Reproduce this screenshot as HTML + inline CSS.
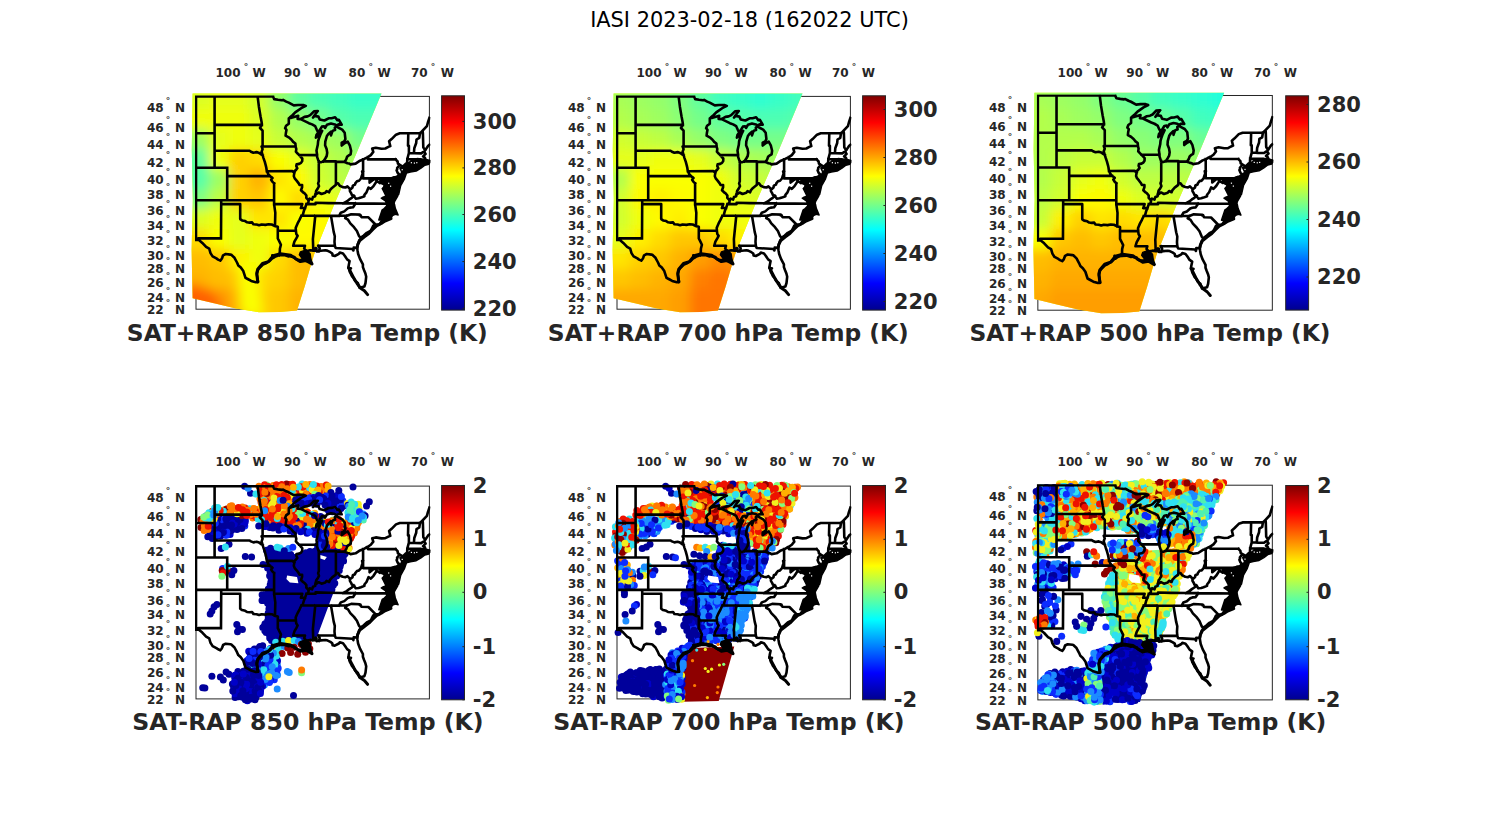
<!DOCTYPE html>
<html><head><meta charset="utf-8"><title>IASI 2023-02-18 (162022 UTC)</title>
<style>html,body{margin:0;padding:0;background:#fff}svg{display:block}.t{font-family:"DejaVu Sans","Liberation Sans",sans-serif;font-weight:bold;fill:#262626}.tk{font-size:12px}.dg{font-size:9px}.cb{font-size:21px}.pt{font-size:23.35px}</style></head><body>
<svg width="1500" height="825" viewBox="0 0 1500 825">
<defs>
<linearGradient id="jet" x1="0" y1="0" x2="0" y2="1"><stop offset="0" stop-color="#800000"/><stop offset="0.125" stop-color="#ff0000"/><stop offset="0.375" stop-color="#ffff00"/><stop offset="0.625" stop-color="#00ffff"/><stop offset="0.875" stop-color="#0000ff"/><stop offset="1" stop-color="#00008f"/></linearGradient>
<g id="states"><path d="M196.0 96.4L196.0 240.0M196.0 96.4L273.0 96.4M196.0 133.3L214.6 133.3M214.6 96.4L214.6 167.8M214.6 124.9L261.9 124.9M214.6 150.8L249.6 150.8L250.9 151.7L253.4 152.7L256.6 152.1L259.1 152.9L261.0 154.3L262.6 155.2M196.0 167.8L227.2 167.8M227.2 167.8L227.2 200.2M227.2 176.1L269.8 176.1M196.0 200.2L274.1 200.2M221.2 200.2L221.2 204.1L221.0 238.4M220.9 238.4L198.4 238.4L199.0 240.0L196.0 240.0M221.2 204.1L240.2 204.1L240.2 219.1L242.1 220.4L245.2 221.1L247.1 222.3L249.6 222.6L252.1 222.4L253.4 224.3L256.6 224.5L259.1 225.3L261.6 224.5L265.4 224.9L268.6 224.3L271.7 224.5L275.0 226.1M275.0 226.1L277.8 226.8L277.8 238.5L279.3 241.4L280.9 244.7L279.9 248.7L279.8 252.4L279.0 255.3M275.0 226.1L275.3 212.7L274.1 204.1L274.1 183.4M274.1 183.4L272.3 181.6L271.1 179.8L272.5 178.0L271.4 177.1L269.8 176.1L268.2 174.0L266.8 171.2L266.3 167.8L265.8 165.6L264.8 161.9L263.5 158.1L262.6 155.2M277.8 230.8L295.9 230.8M274.1 204.1L302.3 204.1L300.9 208.0L305.1 208.0M266.8 171.2L292.3 171.0L294.3 172.9M262.6 146.5L295.6 146.5M262.6 155.2L261.6 151.7L262.6 149.1L261.6 146.5L262.6 146.5L262.6 130.7L260.0 128.0L261.9 124.9L261.6 121.9L260.5 116.3L258.9 106.7L257.6 96.4M290.6 117.9L288.8 118.3L288.8 123.7L286.1 125.7L285.1 128.2L286.5 129.8L285.9 132.9L285.6 135.6L288.7 137.3L291.3 139.5L293.2 141.9L295.4 143.5L295.6 146.5L296.3 149.1L295.9 151.7L297.6 153.6L299.2 155.0L300.7 156.8L302.3 158.5L302.2 161.1L301.0 162.9L299.2 163.9L296.6 164.4L296.3 166.1L297.3 168.2L296.3 169.5L294.4 171.5L294.3 172.9L293.8 176.1L294.7 178.4L296.6 180.6L298.7 183.4L299.5 185.0L302.1 185.1L302.1 187.2L301.0 190.3L303.3 192.5L304.4 193.1L306.4 195.5L306.3 197.8L308.7 200.4L308.3 203.0L306.4 204.1L305.1 208.0L303.9 210.8L302.8 214.8L301.4 215.8L299.6 219.6L297.6 223.4L296.3 226.4L295.7 227.9L295.9 231.0L296.3 233.9L297.6 235.8L296.3 238.4L294.4 241.7L293.2 245.8L305.0 245.8L304.2 248.4L305.5 250.2L306.2 251.8M299.2 155.0L317.1 155.1M318.8 161.4L318.8 181.4L318.1 183.4L319.0 186.2L317.4 189.1L316.2 190.7L315.7 193.1L315.4 193.9M335.9 161.9L335.9 183.4M323.4 161.4L335.9 161.4L335.9 161.9L344.6 161.9M363.1 170.8L362.1 171.3L362.6 173.6L361.7 176.1L361.0 178.5L358.8 181.0L357.2 181.0L355.3 183.4L355.0 184.6L352.8 185.6L352.5 187.5L350.9 188.9L349.9 188.9L347.4 186.4L345.5 187.5L342.7 187.1L339.8 185.8L338.0 183.4L335.9 183.4L335.7 185.0L333.5 186.7L332.0 187.9L330.0 190.1L329.1 192.3L326.6 191.1L325.3 192.8L321.5 194.0L318.6 192.5L316.2 194.1L315.4 193.9L315.2 196.2L313.0 197.0L312.1 199.6L309.6 198.6L308.7 200.4M306.4 204.1L315.6 204.1L315.6 202.7L328.5 203.1L343.1 203.3L355.7 203.4L392.4 203.7M343.1 203.3L346.8 201.4L349.3 199.4L351.8 197.8L353.9 195.9M353.9 195.9L351.8 194.8L351.1 193.1L349.9 191.1L349.9 188.9M353.9 195.9L355.7 198.6L358.6 198.3L360.9 197.6L364.4 196.2L364.4 194.8L366.5 192.3L368.5 187.5L370.8 188.9L373.5 186.1L376.8 181.0L380.0 183.1L380.7 181.6M390.1 193.1L385.9 190.3L385.0 189.1L383.4 188.7L385.0 185.4L383.7 184.2L382.1 183.4L380.7 181.6L380.1 179.3L377.8 178.5L376.1 179.9L374.2 178.9L369.6 182.6L369.6 178.4M363.1 159.4L363.1 178.4L392.9 178.4M392.9 178.4L393.8 177.5L395.3 177.7M392.9 178.4L393.5 188.6L397.6 188.7M395.3 177.7L397.1 176.9L399.3 174.4L397.6 172.8L396.6 170.3L397.3 169.0L397.1 168.0L399.8 164.8L397.9 163.6L397.6 161.5L395.6 159.4M395.6 159.4L367.9 159.4L367.9 157.1M399.8 164.8L404.8 167.8M406.3 167.8L407.5 166.1L407.0 165.3L407.3 159.0L408.9 153.0L408.9 145.7L408.0 145.7L408.3 133.3M420.0 133.3L399.8 133.3L396.0 134.7L391.6 139.1L389.1 141.3L390.3 146.1L388.4 146.9L385.3 148.5L381.5 148.7L375.8 147.7L372.2 148.6L373.3 151.9L370.8 155.1L367.9 157.1L365.7 158.1L363.1 159.6L360.0 160.7L355.6 163.6L350.6 164.4L349.3 163.6L347.4 163.2L344.6 161.9M408.9 153.0L421.2 153.4L423.1 152.0L424.3 152.0M407.3 159.0L418.1 159.2L420.7 159.2L420.7 160.2L422.4 163.6M418.1 159.2L417.8 165.1M413.9 153.2L414.3 148.3L416.2 143.0L416.5 139.5L419.3 137.8L420.0 133.3M425.0 150.2L423.3 147.4L422.9 133.3L422.6 130.7L420.0 133.3M422.6 130.7L426.9 126.2L427.9 122.5L429.4 118.0M404.8 167.8L404.2 170.3L406.3 167.8L411.1 165.5L416.8 165.3L417.8 165.1L420.0 164.7L420.6 161.9L422.4 163.6L425.3 161.5L425.2 163.4L429.4 162.2M429.4 161.1L426.3 161.3L425.3 159.6L425.0 157.7L423.1 156.4L425.6 153.9L424.3 152.0L425.0 150.2L425.6 149.6L428.2 145.7L429.4 144.8M404.2 171.1L410.5 170.1L417.6 167.2L414.9 166.5L413.0 168.2L406.1 169.0L404.8 169.5L404.2 171.1M404.2 170.3L402.6 171.9L404.2 172.4L403.6 178.1L401.7 181.4L398.2 184.8L397.6 182.6L395.4 180.6L394.4 179.3L395.3 177.7M394.4 179.3L395.4 181.8L396.0 184.6L397.3 185.8L397.6 188.7L396.3 192.0L393.8 196.2L391.9 199.3L391.9 196.2L393.8 192.7L392.2 192.3L391.3 190.3L389.7 187.5L390.3 184.6L391.3 181.4L391.6 179.8L390.9 179.8L388.4 182.2L388.5 184.5L388.4 188.3L389.6 191.9M390.1 193.1L389.7 195.5L389.7 197.8L389.7 200.2L391.6 200.8L392.4 203.7L393.2 206.5L395.0 211.1L394.5 214.0L391.6 215.2L388.2 218.8L385.3 218.3L382.1 220.4L379.3 224.5L375.5 224.5L373.3 225.7L371.4 229.5L370.4 231.0L366.8 232.8L363.5 235.8L361.9 236.9L360.9 238.2L359.1 240.6L358.1 243.6L357.2 247.9L357.5 250.2L358.1 253.8L360.0 258.9L362.9 264.3L362.9 267.1L364.1 270.3L365.4 273.5L366.2 276.7L365.5 283.0L364.4 286.5L359.4 287.7L357.8 283.0L355.0 280.7L353.7 278.1L352.1 276.4L350.9 273.9L349.9 272.1L349.3 270.3L350.9 268.2L348.4 268.2L348.7 265.4L349.6 261.1L347.1 259.4L344.9 256.0L343.0 253.5L339.8 252.6L338.9 253.8L334.8 256.0L332.6 255.5L332.3 253.5L330.4 252.2L327.2 250.6L325.3 250.3L320.9 250.7L318.9 251.1L316.5 251.4L316.5 248.4L315.6 248.0L315.2 250.6L313.3 250.6L310.2 250.2L307.0 250.9L306.2 251.8L305.1 252.0L307.7 253.8L307.0 256.0L308.6 258.9L309.2 260.3L307.0 260.7L305.8 258.5L303.3 258.9L301.4 260.0L297.6 260.0L295.1 258.5L294.4 257.1L291.6 256.7L290.0 256.0L288.7 256.5L284.3 255.1L279.0 255.3L275.5 256.5L273.3 258.0L272.3 255.3L272.7 257.8L269.8 260.8L265.4 263.6L262.9 264.6L258.8 268.7L257.8 270.3L256.9 274.6L258.0 281.3L258.1 281.9L255.9 282.3L251.2 280.9L247.7 279.0L245.5 277.8L243.3 271.1L240.8 267.6L238.3 265.4L237.0 262.5L234.5 257.8L231.3 254.8L230.4 254.6L225.7 254.0L223.1 255.3L222.2 257.8L221.6 259.0L220.3 260.6L218.1 259.6L216.4 258.4L212.6 256.4L210.5 253.1L209.2 248.7L206.1 246.9L202.3 242.9L199.2 240.3M301.4 215.8L314.6 215.8L331.0 215.9L339.1 215.8L346.8 215.8M314.6 215.8L315.2 216.5L312.9 239.2L313.3 250.6M331.0 215.9L333.7 231.9L334.8 236.2L334.5 241.7L334.8 245.8M318.4 245.8L334.8 245.8M318.4 245.8L319.7 248.4L318.9 251.1M334.8 245.8L335.7 248.0L352.5 249.0L353.4 250.5L353.7 247.6L357.2 247.9M360.9 238.2L359.1 236.2L356.9 231.0L354.0 227.2L350.3 223.4L348.0 219.7L345.2 218.1L346.8 215.8M346.8 215.8L351.2 214.2L359.7 214.6L359.7 215.4L360.5 215.0L361.4 217.1L368.4 217.3L375.5 224.5M339.1 215.8L340.8 212.7L344.3 211.4L347.7 208.4L349.9 207.6L353.1 207.3L355.7 203.4M318.8 161.9L318.4 160.7L317.1 156.8L317.1 155.1L316.5 150.5L317.8 144.8L318.1 141.3L319.0 138.2L320.3 134.7L322.2 130.8L319.7 134.2L315.9 137.6L316.5 134.7L318.3 132.5L316.8 129.8L315.2 126.2L312.1 124.4L308.9 123.2L300.6 119.2M318.8 161.9L320.9 162.3L323.4 161.4M318.3 132.5L321.9 126.6L324.1 126.2L325.0 128.0L326.9 124.8L331.0 123.6L334.8 124.4L336.6 125.5L338.6 124.4L341.7 124.6L338.9 119.8L337.3 120.1L335.1 117.3L331.6 118.2L328.6 118.3L324.4 120.5L319.7 119.4L318.4 116.6L314.6 115.9L313.0 117.5L315.9 113.4L317.8 111.0L314.0 111.3L310.2 115.2L307.7 116.4L304.5 116.9L300.6 119.2L297.6 118.9L298.2 115.7L295.7 116.4L290.6 117.9L290.0 117.2L292.7 115.0L295.2 112.4L301.2 108.2L305.8 105.9L303.3 105.0L298.2 105.0L293.8 105.4L288.7 102.6L286.2 101.6L283.1 99.9L281.8 100.2L278.0 99.7L274.2 99.1L273.6 97.8L273.0 96.4M344.6 161.9L346.2 159.4L347.1 156.8L348.4 155.6L350.6 154.3L351.1 150.8L349.9 145.7L347.7 141.7L344.9 143.0L341.7 145.5L341.7 142.6L344.3 141.3L345.4 139.1L344.7 132.8L342.2 129.6L338.1 127.5L336.5 126.4L334.8 127.5L335.1 130.0L333.2 130.5L332.3 131.6L331.0 135.4L331.0 131.6L328.2 134.2L326.9 136.0L325.3 141.7L325.1 145.2L326.6 148.9L327.2 152.7L326.7 156.0L325.3 158.5L323.4 161.4" fill="none" stroke="#000" stroke-width="2.6" stroke-linejoin="round" stroke-linecap="square"/><path d="M378.8 178.3L390.0 178.3L394.4 176.8L400.7 175.9L403.6 172.0L406.5 173.0L404.5 178.8L400.7 185.6L398.7 194.3L394.8 199.2L393.9 205.9L397.8 214.7L391.0 213.7L387.1 220.0L378.8 220.0L382.2 209.8L387.1 206.9L387.1 202.1L381.3 198.2L386.1 196.2L382.2 188.5L386.1 185.6ZM400.7 168.1L405.5 163.3L409.4 162.3L412.3 159.4L424.9 158.9L430.2 160.8L428.8 164.2L424.9 165.2L421.0 168.1L416.2 171.0L410.4 172.0L406.5 173.0L403.6 172.0ZM382.5 197.4L388.6 195.0L397.7 196.2L394.1 202.3L395.3 208.3L398.1 215.0L393.5 213.2L391.0 218.3L386.2 218.6L383.2 221.1L381.3 219.8L384.0 215.0L383.2 209.5L386.8 205.9L385.6 201.1ZM300.4 251.9L306.2 249.9L310.1 253.8L311.0 260.6L306.2 261.6L302.3 258.6L299.4 254.8Z" fill="#000" stroke="#000" stroke-width="1.5" stroke-linejoin="round"/><path d="M391.0 218.6L385.0 221.1L381.3 223.5L376.5 225.9L372.8 229.5L369.2 233.2L364.4 236.8L359.8 240.5L357.7 244.7L357.1 247.7M348.6 267.7L351.0 272.6L354.1 278.6L357.1 283.5L360.7 288.3L364.4 290.8M280.5 253.8L290.7 255.3L295.5 258.6L300.4 261.6L306.2 260.6L312.0 264.0L308.6 256.7M280.5 253.8L273.2 255.7L268.4 261.6L262.5 263.5L257.7 269.3L256.7 273.2L257.7 281.9M400.7 168.1L402.6 172.0L400.7 175.9M364.4 290.8L367.6 294.6" fill="none" stroke="#000" stroke-width="3.0" stroke-linejoin="round" stroke-linecap="round"/><rect x="410.8" y="162.1" width="1.2" height="1.2" fill="#fff"/><rect x="413.8" y="162.5" width="1.2" height="1.2" fill="#fff"/><rect x="416.2" y="162.1" width="1.2" height="1.2" fill="#fff"/><rect x="388.1" y="182.7" width="1.2" height="1.2" fill="#fff"/><rect x="390.0" y="185.6" width="1.2" height="1.2" fill="#fff"/><rect x="401.6" y="169.1" width="1.2" height="1.2" fill="#fff"/></g>
<clipPath id="boxclip"><rect x="195.0" y="95.4" width="235.4" height="214.8"/></clipPath>
<clipPath id="swath"><path d="M192.6 93.6L381.5 93.6L357.0 152.0L334.0 205.0L314.0 254.7L304.5 287.0L297.0 310.5L280.0 312.0L259.0 312.3L236.0 308.5L214.0 303.3L192.6 298.2L191.6 250.0L192.8 200.0L191.8 150.0 Z"/></clipPath><filter id="bl" x="-10%" y="-10%" width="120%" height="120%"><feGaussianBlur stdDeviation="5.5"/></filter>
</defs>
<rect width="1500" height="825" fill="#fff"/>
<text x="749.5" y="27.2" text-anchor="middle" font-family="DejaVu Sans, Liberation Sans, sans-serif" font-size="20.9" fill="#000">IASI 2023-02-18 (162022 UTC)</text>
<g transform="translate(0.0 0.0)">
<rect x="196.0" y="96.4" width="233.4" height="212.8" fill="none" stroke="#262626" stroke-width="1"/>
<g clip-path="url(#swath)"><rect x="170" y="70" width="240" height="270" fill="#e5ff1a"/><g filter="url(#bl)"><rect x="169" y="69" width="22" height="22" fill="#dbff24"/><rect x="189" y="69" width="22" height="22" fill="#dbff24"/><rect x="209" y="69" width="22" height="22" fill="#e5ff1a"/><rect x="229" y="69" width="22" height="22" fill="#e5ff1a"/><rect x="249" y="69" width="22" height="22" fill="#d1ff2e"/><rect x="269" y="69" width="22" height="22" fill="#94ff6b"/><rect x="289" y="69" width="22" height="22" fill="#61ff9e"/><rect x="309" y="69" width="22" height="22" fill="#4dffb3"/><rect x="329" y="69" width="22" height="22" fill="#42ffbd"/><rect x="349" y="69" width="22" height="22" fill="#38ffc7"/><rect x="369" y="69" width="22" height="22" fill="#38ffc7"/><rect x="389" y="69" width="22" height="22" fill="#38ffc7"/><rect x="169" y="89" width="22" height="22" fill="#dbff24"/><rect x="189" y="89" width="22" height="22" fill="#dbff24"/><rect x="209" y="89" width="22" height="22" fill="#e5ff1a"/><rect x="229" y="89" width="22" height="22" fill="#e5ff1a"/><rect x="249" y="89" width="22" height="22" fill="#d1ff2e"/><rect x="269" y="89" width="22" height="22" fill="#94ff6b"/><rect x="289" y="89" width="22" height="22" fill="#61ff9e"/><rect x="309" y="89" width="22" height="22" fill="#4dffb3"/><rect x="329" y="89" width="22" height="22" fill="#42ffbd"/><rect x="349" y="89" width="22" height="22" fill="#38ffc7"/><rect x="369" y="89" width="22" height="22" fill="#38ffc7"/><rect x="389" y="89" width="22" height="22" fill="#38ffc7"/><rect x="169" y="109" width="22" height="22" fill="#f0ff0f"/><rect x="189" y="109" width="22" height="22" fill="#f0ff0f"/><rect x="209" y="109" width="22" height="22" fill="#f0ff0f"/><rect x="229" y="109" width="22" height="22" fill="#f0ff0f"/><rect x="249" y="109" width="22" height="22" fill="#dbff24"/><rect x="269" y="109" width="22" height="22" fill="#b3ff4c"/><rect x="289" y="109" width="22" height="22" fill="#94ff6b"/><rect x="309" y="109" width="22" height="22" fill="#75ff8a"/><rect x="329" y="109" width="22" height="22" fill="#57ffa8"/><rect x="349" y="109" width="22" height="22" fill="#4dffb3"/><rect x="369" y="109" width="22" height="22" fill="#4dffb3"/><rect x="389" y="109" width="22" height="22" fill="#4dffb3"/><rect x="169" y="129" width="22" height="22" fill="#9eff61"/><rect x="189" y="129" width="22" height="22" fill="#9eff61"/><rect x="209" y="129" width="22" height="22" fill="#e5ff1a"/><rect x="229" y="129" width="22" height="22" fill="#f0ff0f"/><rect x="249" y="129" width="22" height="22" fill="#e5ff1a"/><rect x="269" y="129" width="22" height="22" fill="#c7ff38"/><rect x="289" y="129" width="22" height="22" fill="#b3ff4c"/><rect x="309" y="129" width="22" height="22" fill="#a8ff57"/><rect x="329" y="129" width="22" height="22" fill="#9eff61"/><rect x="349" y="129" width="22" height="22" fill="#75ff8a"/><rect x="369" y="129" width="22" height="22" fill="#57ffa8"/><rect x="389" y="129" width="22" height="22" fill="#57ffa8"/><rect x="169" y="149" width="22" height="22" fill="#61ff9e"/><rect x="189" y="149" width="22" height="22" fill="#61ff9e"/><rect x="209" y="149" width="22" height="22" fill="#f0ff0f"/><rect x="229" y="149" width="22" height="22" fill="#ffd100"/><rect x="249" y="149" width="22" height="22" fill="#ffdb00"/><rect x="269" y="149" width="22" height="22" fill="#faff05"/><rect x="289" y="149" width="22" height="22" fill="#e5ff1a"/><rect x="309" y="149" width="22" height="22" fill="#c7ff38"/><rect x="329" y="149" width="22" height="22" fill="#b3ff4c"/><rect x="349" y="149" width="22" height="22" fill="#9eff61"/><rect x="369" y="149" width="22" height="22" fill="#80ff80"/><rect x="389" y="149" width="22" height="22" fill="#80ff80"/><rect x="169" y="169" width="22" height="22" fill="#57ffa8"/><rect x="189" y="169" width="22" height="22" fill="#57ffa8"/><rect x="209" y="169" width="22" height="22" fill="#9eff61"/><rect x="229" y="169" width="22" height="22" fill="#ffd100"/><rect x="249" y="169" width="22" height="22" fill="#ffb300"/><rect x="269" y="169" width="22" height="22" fill="#ffe500"/><rect x="289" y="169" width="22" height="22" fill="#fffa00"/><rect x="309" y="169" width="22" height="22" fill="#d1ff2e"/><rect x="329" y="169" width="22" height="22" fill="#bdff42"/><rect x="349" y="169" width="22" height="22" fill="#a8ff57"/><rect x="369" y="169" width="22" height="22" fill="#94ff6b"/><rect x="389" y="169" width="22" height="22" fill="#94ff6b"/><rect x="169" y="189" width="22" height="22" fill="#80ff80"/><rect x="189" y="189" width="22" height="22" fill="#80ff80"/><rect x="209" y="189" width="22" height="22" fill="#bdff42"/><rect x="229" y="189" width="22" height="22" fill="#ffd100"/><rect x="249" y="189" width="22" height="22" fill="#ffc700"/><rect x="269" y="189" width="22" height="22" fill="#fffa00"/><rect x="289" y="189" width="22" height="22" fill="#ffdb00"/><rect x="309" y="189" width="22" height="22" fill="#f0ff0f"/><rect x="329" y="189" width="22" height="22" fill="#e5ff1a"/><rect x="349" y="189" width="22" height="22" fill="#d1ff2e"/><rect x="369" y="189" width="22" height="22" fill="#bdff42"/><rect x="389" y="189" width="22" height="22" fill="#bdff42"/><rect x="169" y="209" width="22" height="22" fill="#dbff24"/><rect x="189" y="209" width="22" height="22" fill="#dbff24"/><rect x="209" y="209" width="22" height="22" fill="#f0ff0f"/><rect x="229" y="209" width="22" height="22" fill="#e5ff1a"/><rect x="249" y="209" width="22" height="22" fill="#ffe500"/><rect x="269" y="209" width="22" height="22" fill="#ffe500"/><rect x="289" y="209" width="22" height="22" fill="#faff05"/><rect x="309" y="209" width="22" height="22" fill="#fffa00"/><rect x="329" y="209" width="22" height="22" fill="#faff05"/><rect x="349" y="209" width="22" height="22" fill="#e5ff1a"/><rect x="369" y="209" width="22" height="22" fill="#e5ff1a"/><rect x="389" y="209" width="22" height="22" fill="#e5ff1a"/><rect x="169" y="229" width="22" height="22" fill="#ffdb00"/><rect x="189" y="229" width="22" height="22" fill="#ffdb00"/><rect x="209" y="229" width="22" height="22" fill="#faff05"/><rect x="229" y="229" width="22" height="22" fill="#e5ff1a"/><rect x="249" y="229" width="22" height="22" fill="#f0ff0f"/><rect x="269" y="229" width="22" height="22" fill="#faff05"/><rect x="289" y="229" width="22" height="22" fill="#fffa00"/><rect x="309" y="229" width="22" height="22" fill="#fffa00"/><rect x="329" y="229" width="22" height="22" fill="#fff000"/><rect x="349" y="229" width="22" height="22" fill="#faff05"/><rect x="369" y="229" width="22" height="22" fill="#faff05"/><rect x="389" y="229" width="22" height="22" fill="#faff05"/><rect x="169" y="249" width="22" height="22" fill="#ffbd00"/><rect x="189" y="249" width="22" height="22" fill="#ffbd00"/><rect x="209" y="249" width="22" height="22" fill="#ffc700"/><rect x="229" y="249" width="22" height="22" fill="#fff000"/><rect x="249" y="249" width="22" height="22" fill="#f0ff0f"/><rect x="269" y="249" width="22" height="22" fill="#ffdb00"/><rect x="289" y="249" width="22" height="22" fill="#ffbd00"/><rect x="309" y="249" width="22" height="22" fill="#ffbd00"/><rect x="329" y="249" width="22" height="22" fill="#ffc700"/><rect x="349" y="249" width="22" height="22" fill="#ffdb00"/><rect x="369" y="249" width="22" height="22" fill="#ffdb00"/><rect x="389" y="249" width="22" height="22" fill="#ffdb00"/><rect x="169" y="269" width="22" height="22" fill="#ffb300"/><rect x="189" y="269" width="22" height="22" fill="#ffb300"/><rect x="209" y="269" width="22" height="22" fill="#ffbd00"/><rect x="229" y="269" width="22" height="22" fill="#ffc700"/><rect x="249" y="269" width="22" height="22" fill="#ffdb00"/><rect x="269" y="269" width="22" height="22" fill="#ffd100"/><rect x="289" y="269" width="22" height="22" fill="#ffbd00"/><rect x="309" y="269" width="22" height="22" fill="#ffb300"/><rect x="329" y="269" width="22" height="22" fill="#ffc700"/><rect x="349" y="269" width="22" height="22" fill="#ffc700"/><rect x="369" y="269" width="22" height="22" fill="#ffc700"/><rect x="389" y="269" width="22" height="22" fill="#ffc700"/><rect x="169" y="289" width="22" height="22" fill="#ff8000"/><rect x="189" y="289" width="22" height="22" fill="#ff8000"/><rect x="209" y="289" width="22" height="22" fill="#ff9400"/><rect x="229" y="289" width="22" height="22" fill="#ffb300"/><rect x="249" y="289" width="22" height="22" fill="#ffd100"/><rect x="269" y="289" width="22" height="22" fill="#ffc700"/><rect x="289" y="289" width="22" height="22" fill="#ffb300"/><rect x="309" y="289" width="22" height="22" fill="#ffb300"/><rect x="329" y="289" width="22" height="22" fill="#ffbd00"/><rect x="349" y="289" width="22" height="22" fill="#ffbd00"/><rect x="369" y="289" width="22" height="22" fill="#ffbd00"/><rect x="389" y="289" width="22" height="22" fill="#ffbd00"/><rect x="169" y="309" width="22" height="22" fill="#ff7500"/><rect x="189" y="309" width="22" height="22" fill="#ff7500"/><rect x="209" y="309" width="22" height="22" fill="#ff8a00"/><rect x="229" y="309" width="22" height="22" fill="#ffa800"/><rect x="249" y="309" width="22" height="22" fill="#ffd100"/><rect x="269" y="309" width="22" height="22" fill="#ffc700"/><rect x="289" y="309" width="22" height="22" fill="#ffb300"/><rect x="309" y="309" width="22" height="22" fill="#ffb300"/><rect x="329" y="309" width="22" height="22" fill="#ffbd00"/><rect x="349" y="309" width="22" height="22" fill="#ffbd00"/><rect x="369" y="309" width="22" height="22" fill="#ffbd00"/><rect x="389" y="309" width="22" height="22" fill="#ffbd00"/><rect x="169" y="329" width="22" height="22" fill="#ff7500"/><rect x="189" y="329" width="22" height="22" fill="#ff7500"/><rect x="209" y="329" width="22" height="22" fill="#ff8a00"/><rect x="229" y="329" width="22" height="22" fill="#ffa800"/><rect x="249" y="329" width="22" height="22" fill="#ffd100"/><rect x="269" y="329" width="22" height="22" fill="#ffc700"/><rect x="289" y="329" width="22" height="22" fill="#ffb300"/><rect x="309" y="329" width="22" height="22" fill="#ffb300"/><rect x="329" y="329" width="22" height="22" fill="#ffbd00"/><rect x="349" y="329" width="22" height="22" fill="#ffbd00"/><rect x="369" y="329" width="22" height="22" fill="#ffbd00"/><rect x="389" y="329" width="22" height="22" fill="#ffbd00"/><path d="M238.0 262.0L256.0 262.0L263.0 316.0L241.0 316.0 Z" fill="#faff05"/><path d="M186.0 282.0L212.0 290.0L224.0 312.0L186.0 306.0 Z" fill="#ff6100"/></g></g>
<g clip-path="url(#boxclip)"><use href="#states"/></g>
<text class="t tk" x="240.5" y="76.6" text-anchor="end">100</text>
<text class="t dg" x="245.9" y="69.8" text-anchor="middle">°</text>
<text class="t tk" x="252.4" y="76.6">W</text>
<text class="t tk" x="300.7" y="76.6" text-anchor="end">90</text>
<text class="t dg" x="306.1" y="69.8" text-anchor="middle">°</text>
<text class="t tk" x="313.5" y="76.6">W</text>
<text class="t tk" x="365.3" y="76.6" text-anchor="end">80</text>
<text class="t dg" x="370.7" y="69.8" text-anchor="middle">°</text>
<text class="t tk" x="377.4" y="76.6">W</text>
<text class="t tk" x="427.7" y="76.6" text-anchor="end">70</text>
<text class="t dg" x="433.1" y="69.8" text-anchor="middle">°</text>
<text class="t tk" x="440.7" y="76.6">W</text>
<text class="t tk" x="163.7" y="112.3" text-anchor="end">48</text>
<text class="t dg" x="167.9" y="104.0" text-anchor="middle">°</text>
<text class="t tk" x="175.0" y="112.3">N</text>
<text class="t tk" x="163.7" y="131.5" text-anchor="end">46</text>
<text class="t dg" x="167.9" y="123.2" text-anchor="middle">°</text>
<text class="t tk" x="175.0" y="131.5">N</text>
<text class="t tk" x="163.7" y="148.6" text-anchor="end">44</text>
<text class="t dg" x="167.9" y="140.3" text-anchor="middle">°</text>
<text class="t tk" x="175.0" y="148.6">N</text>
<text class="t tk" x="163.7" y="166.5" text-anchor="end">42</text>
<text class="t dg" x="167.9" y="158.2" text-anchor="middle">°</text>
<text class="t tk" x="175.0" y="166.5">N</text>
<text class="t tk" x="163.7" y="183.5" text-anchor="end">40</text>
<text class="t dg" x="167.9" y="175.2" text-anchor="middle">°</text>
<text class="t tk" x="175.0" y="183.5">N</text>
<text class="t tk" x="163.7" y="198.7" text-anchor="end">38</text>
<text class="t dg" x="167.9" y="190.4" text-anchor="middle">°</text>
<text class="t tk" x="175.0" y="198.7">N</text>
<text class="t tk" x="163.7" y="215.1" text-anchor="end">36</text>
<text class="t dg" x="167.9" y="206.8" text-anchor="middle">°</text>
<text class="t tk" x="175.0" y="215.1">N</text>
<text class="t tk" x="163.7" y="229.8" text-anchor="end">34</text>
<text class="t dg" x="167.9" y="221.5" text-anchor="middle">°</text>
<text class="t tk" x="175.0" y="229.8">N</text>
<text class="t tk" x="163.7" y="245.2" text-anchor="end">32</text>
<text class="t dg" x="167.9" y="236.9" text-anchor="middle">°</text>
<text class="t tk" x="175.0" y="245.2">N</text>
<text class="t tk" x="163.7" y="260.2" text-anchor="end">30</text>
<text class="t dg" x="167.9" y="251.9" text-anchor="middle">°</text>
<text class="t tk" x="175.0" y="260.2">N</text>
<text class="t tk" x="163.7" y="272.7" text-anchor="end">28</text>
<text class="t dg" x="167.9" y="264.4" text-anchor="middle">°</text>
<text class="t tk" x="175.0" y="272.7">N</text>
<text class="t tk" x="163.7" y="287.3" text-anchor="end">26</text>
<text class="t dg" x="167.9" y="279.0" text-anchor="middle">°</text>
<text class="t tk" x="175.0" y="287.3">N</text>
<text class="t tk" x="163.7" y="301.9" text-anchor="end">24</text>
<text class="t dg" x="167.9" y="293.6" text-anchor="middle">°</text>
<text class="t tk" x="175.0" y="301.9">N</text>
<text class="t tk" x="163.7" y="314.1" text-anchor="end">22</text>
<text class="t dg" x="167.9" y="305.8" text-anchor="middle">°</text>
<text class="t tk" x="175.0" y="314.1">N</text>
<rect x="441.6" y="95.8" width="22.9" height="214.3" fill="url(#jet)" stroke="#262626" stroke-width="1"/>
<text class="t cb" x="472.8" y="128.6">300</text>
<path d="M462.4 121.4h2" stroke="#262626" stroke-width="1"/>
<text class="t cb" x="472.8" y="175.1">280</text>
<path d="M462.4 167.9h2" stroke="#262626" stroke-width="1"/>
<text class="t cb" x="472.8" y="221.7">260</text>
<path d="M462.4 214.5h2" stroke="#262626" stroke-width="1"/>
<text class="t cb" x="472.8" y="268.8">240</text>
<path d="M462.4 261.6h2" stroke="#262626" stroke-width="1"/>
<text class="t cb" x="472.8" y="315.6">220</text>
<path d="M462.4 308.4h2" stroke="#262626" stroke-width="1"/>
<text class="t pt" x="307.3" y="340.7" text-anchor="middle">SAT+RAP 850 hPa Temp (K)</text>
</g>
<g transform="translate(421.0 0.0)">
<rect x="196.0" y="96.4" width="233.4" height="212.8" fill="none" stroke="#262626" stroke-width="1"/>
<g clip-path="url(#swath)"><rect x="170" y="70" width="240" height="270" fill="#e5ff1a"/><g filter="url(#bl)"><rect x="169" y="69" width="22" height="22" fill="#a8ff57"/><rect x="189" y="69" width="22" height="22" fill="#a8ff57"/><rect x="209" y="69" width="22" height="22" fill="#9eff61"/><rect x="229" y="69" width="22" height="22" fill="#94ff6b"/><rect x="249" y="69" width="22" height="22" fill="#80ff80"/><rect x="269" y="69" width="22" height="22" fill="#61ff9e"/><rect x="289" y="69" width="22" height="22" fill="#42ffbd"/><rect x="309" y="69" width="22" height="22" fill="#38ffc7"/><rect x="329" y="69" width="22" height="22" fill="#2effd1"/><rect x="349" y="69" width="22" height="22" fill="#38ffc7"/><rect x="369" y="69" width="22" height="22" fill="#42ffbd"/><rect x="389" y="69" width="22" height="22" fill="#42ffbd"/><rect x="169" y="89" width="22" height="22" fill="#a8ff57"/><rect x="189" y="89" width="22" height="22" fill="#a8ff57"/><rect x="209" y="89" width="22" height="22" fill="#9eff61"/><rect x="229" y="89" width="22" height="22" fill="#94ff6b"/><rect x="249" y="89" width="22" height="22" fill="#80ff80"/><rect x="269" y="89" width="22" height="22" fill="#61ff9e"/><rect x="289" y="89" width="22" height="22" fill="#42ffbd"/><rect x="309" y="89" width="22" height="22" fill="#38ffc7"/><rect x="329" y="89" width="22" height="22" fill="#2effd1"/><rect x="349" y="89" width="22" height="22" fill="#38ffc7"/><rect x="369" y="89" width="22" height="22" fill="#42ffbd"/><rect x="389" y="89" width="22" height="22" fill="#42ffbd"/><rect x="169" y="109" width="22" height="22" fill="#b3ff4c"/><rect x="189" y="109" width="22" height="22" fill="#b3ff4c"/><rect x="209" y="109" width="22" height="22" fill="#a8ff57"/><rect x="229" y="109" width="22" height="22" fill="#9eff61"/><rect x="249" y="109" width="22" height="22" fill="#8aff75"/><rect x="269" y="109" width="22" height="22" fill="#75ff8a"/><rect x="289" y="109" width="22" height="22" fill="#61ff9e"/><rect x="309" y="109" width="22" height="22" fill="#57ffa8"/><rect x="329" y="109" width="22" height="22" fill="#4dffb3"/><rect x="349" y="109" width="22" height="22" fill="#4dffb3"/><rect x="369" y="109" width="22" height="22" fill="#57ffa8"/><rect x="389" y="109" width="22" height="22" fill="#57ffa8"/><rect x="169" y="129" width="22" height="22" fill="#d1ff2e"/><rect x="189" y="129" width="22" height="22" fill="#d1ff2e"/><rect x="209" y="129" width="22" height="22" fill="#c7ff38"/><rect x="229" y="129" width="22" height="22" fill="#bdff42"/><rect x="249" y="129" width="22" height="22" fill="#a8ff57"/><rect x="269" y="129" width="22" height="22" fill="#94ff6b"/><rect x="289" y="129" width="22" height="22" fill="#80ff80"/><rect x="309" y="129" width="22" height="22" fill="#75ff8a"/><rect x="329" y="129" width="22" height="22" fill="#75ff8a"/><rect x="349" y="129" width="22" height="22" fill="#75ff8a"/><rect x="369" y="129" width="22" height="22" fill="#75ff8a"/><rect x="389" y="129" width="22" height="22" fill="#75ff8a"/><rect x="169" y="149" width="22" height="22" fill="#e5ff1a"/><rect x="189" y="149" width="22" height="22" fill="#e5ff1a"/><rect x="209" y="149" width="22" height="22" fill="#e5ff1a"/><rect x="229" y="149" width="22" height="22" fill="#f0ff0f"/><rect x="249" y="149" width="22" height="22" fill="#f0ff0f"/><rect x="269" y="149" width="22" height="22" fill="#e5ff1a"/><rect x="289" y="149" width="22" height="22" fill="#c7ff38"/><rect x="309" y="149" width="22" height="22" fill="#b3ff4c"/><rect x="329" y="149" width="22" height="22" fill="#a8ff57"/><rect x="349" y="149" width="22" height="22" fill="#9eff61"/><rect x="369" y="149" width="22" height="22" fill="#8aff75"/><rect x="389" y="149" width="22" height="22" fill="#8aff75"/><rect x="169" y="169" width="22" height="22" fill="#b3ff4c"/><rect x="189" y="169" width="22" height="22" fill="#b3ff4c"/><rect x="209" y="169" width="22" height="22" fill="#faff05"/><rect x="229" y="169" width="22" height="22" fill="#faff05"/><rect x="249" y="169" width="22" height="22" fill="#faff05"/><rect x="269" y="169" width="22" height="22" fill="#faff05"/><rect x="289" y="169" width="22" height="22" fill="#f0ff0f"/><rect x="309" y="169" width="22" height="22" fill="#d1ff2e"/><rect x="329" y="169" width="22" height="22" fill="#c7ff38"/><rect x="349" y="169" width="22" height="22" fill="#b3ff4c"/><rect x="369" y="169" width="22" height="22" fill="#9eff61"/><rect x="389" y="169" width="22" height="22" fill="#9eff61"/><rect x="169" y="189" width="22" height="22" fill="#d1ff2e"/><rect x="189" y="189" width="22" height="22" fill="#d1ff2e"/><rect x="209" y="189" width="22" height="22" fill="#fffa00"/><rect x="229" y="189" width="22" height="22" fill="#fff000"/><rect x="249" y="189" width="22" height="22" fill="#fffa00"/><rect x="269" y="189" width="22" height="22" fill="#faff05"/><rect x="289" y="189" width="22" height="22" fill="#f0ff0f"/><rect x="309" y="189" width="22" height="22" fill="#e5ff1a"/><rect x="329" y="189" width="22" height="22" fill="#dbff24"/><rect x="349" y="189" width="22" height="22" fill="#c7ff38"/><rect x="369" y="189" width="22" height="22" fill="#b3ff4c"/><rect x="389" y="189" width="22" height="22" fill="#b3ff4c"/><rect x="169" y="209" width="22" height="22" fill="#d1ff2e"/><rect x="189" y="209" width="22" height="22" fill="#d1ff2e"/><rect x="209" y="209" width="22" height="22" fill="#f0ff0f"/><rect x="229" y="209" width="22" height="22" fill="#fffa00"/><rect x="249" y="209" width="22" height="22" fill="#fff000"/><rect x="269" y="209" width="22" height="22" fill="#faff05"/><rect x="289" y="209" width="22" height="22" fill="#f0ff0f"/><rect x="309" y="209" width="22" height="22" fill="#f0ff0f"/><rect x="329" y="209" width="22" height="22" fill="#faff05"/><rect x="349" y="209" width="22" height="22" fill="#e5ff1a"/><rect x="369" y="209" width="22" height="22" fill="#e5ff1a"/><rect x="389" y="209" width="22" height="22" fill="#e5ff1a"/><rect x="169" y="229" width="22" height="22" fill="#e5ff1a"/><rect x="189" y="229" width="22" height="22" fill="#e5ff1a"/><rect x="209" y="229" width="22" height="22" fill="#fff000"/><rect x="229" y="229" width="22" height="22" fill="#ffdb00"/><rect x="249" y="229" width="22" height="22" fill="#ffc700"/><rect x="269" y="229" width="22" height="22" fill="#ffc700"/><rect x="289" y="229" width="22" height="22" fill="#ffdb00"/><rect x="309" y="229" width="22" height="22" fill="#fff000"/><rect x="329" y="229" width="22" height="22" fill="#fffa00"/><rect x="349" y="229" width="22" height="22" fill="#faff05"/><rect x="369" y="229" width="22" height="22" fill="#faff05"/><rect x="389" y="229" width="22" height="22" fill="#faff05"/><rect x="169" y="249" width="22" height="22" fill="#ffe500"/><rect x="189" y="249" width="22" height="22" fill="#ffe500"/><rect x="209" y="249" width="22" height="22" fill="#ffd100"/><rect x="229" y="249" width="22" height="22" fill="#ffc700"/><rect x="249" y="249" width="22" height="22" fill="#ffb300"/><rect x="269" y="249" width="22" height="22" fill="#ff9e00"/><rect x="289" y="249" width="22" height="22" fill="#ff8a00"/><rect x="309" y="249" width="22" height="22" fill="#ff9400"/><rect x="329" y="249" width="22" height="22" fill="#ffb300"/><rect x="349" y="249" width="22" height="22" fill="#ffc700"/><rect x="369" y="249" width="22" height="22" fill="#ffc700"/><rect x="389" y="249" width="22" height="22" fill="#ffc700"/><rect x="169" y="269" width="22" height="22" fill="#ffc700"/><rect x="189" y="269" width="22" height="22" fill="#ffc700"/><rect x="209" y="269" width="22" height="22" fill="#ffbd00"/><rect x="229" y="269" width="22" height="22" fill="#ffb300"/><rect x="249" y="269" width="22" height="22" fill="#ffa800"/><rect x="269" y="269" width="22" height="22" fill="#ff8000"/><rect x="289" y="269" width="22" height="22" fill="#ff7500"/><rect x="309" y="269" width="22" height="22" fill="#ff8000"/><rect x="329" y="269" width="22" height="22" fill="#ff9e00"/><rect x="349" y="269" width="22" height="22" fill="#ffb300"/><rect x="369" y="269" width="22" height="22" fill="#ffb300"/><rect x="389" y="269" width="22" height="22" fill="#ffb300"/><rect x="169" y="289" width="22" height="22" fill="#ffa800"/><rect x="189" y="289" width="22" height="22" fill="#ffa800"/><rect x="209" y="289" width="22" height="22" fill="#ffa800"/><rect x="229" y="289" width="22" height="22" fill="#ffa800"/><rect x="249" y="289" width="22" height="22" fill="#ff9e00"/><rect x="269" y="289" width="22" height="22" fill="#ff7500"/><rect x="289" y="289" width="22" height="22" fill="#ff7500"/><rect x="309" y="289" width="22" height="22" fill="#ff8000"/><rect x="329" y="289" width="22" height="22" fill="#ff9e00"/><rect x="349" y="289" width="22" height="22" fill="#ffb300"/><rect x="369" y="289" width="22" height="22" fill="#ffb300"/><rect x="389" y="289" width="22" height="22" fill="#ffb300"/><rect x="169" y="309" width="22" height="22" fill="#ffa800"/><rect x="189" y="309" width="22" height="22" fill="#ffa800"/><rect x="209" y="309" width="22" height="22" fill="#ffa800"/><rect x="229" y="309" width="22" height="22" fill="#ffa800"/><rect x="249" y="309" width="22" height="22" fill="#ff9e00"/><rect x="269" y="309" width="22" height="22" fill="#ff7500"/><rect x="289" y="309" width="22" height="22" fill="#ff7500"/><rect x="309" y="309" width="22" height="22" fill="#ff8000"/><rect x="329" y="309" width="22" height="22" fill="#ff9e00"/><rect x="349" y="309" width="22" height="22" fill="#ffb300"/><rect x="369" y="309" width="22" height="22" fill="#ffb300"/><rect x="389" y="309" width="22" height="22" fill="#ffb300"/><rect x="169" y="329" width="22" height="22" fill="#ffa800"/><rect x="189" y="329" width="22" height="22" fill="#ffa800"/><rect x="209" y="329" width="22" height="22" fill="#ffa800"/><rect x="229" y="329" width="22" height="22" fill="#ffa800"/><rect x="249" y="329" width="22" height="22" fill="#ff9e00"/><rect x="269" y="329" width="22" height="22" fill="#ff7500"/><rect x="289" y="329" width="22" height="22" fill="#ff7500"/><rect x="309" y="329" width="22" height="22" fill="#ff8000"/><rect x="329" y="329" width="22" height="22" fill="#ff9e00"/><rect x="349" y="329" width="22" height="22" fill="#ffb300"/><rect x="369" y="329" width="22" height="22" fill="#ffb300"/><rect x="389" y="329" width="22" height="22" fill="#ffb300"/></g></g>
<g clip-path="url(#boxclip)"><use href="#states"/></g>
<text class="t tk" x="240.5" y="76.6" text-anchor="end">100</text>
<text class="t dg" x="245.9" y="69.8" text-anchor="middle">°</text>
<text class="t tk" x="252.4" y="76.6">W</text>
<text class="t tk" x="300.7" y="76.6" text-anchor="end">90</text>
<text class="t dg" x="306.1" y="69.8" text-anchor="middle">°</text>
<text class="t tk" x="313.5" y="76.6">W</text>
<text class="t tk" x="365.3" y="76.6" text-anchor="end">80</text>
<text class="t dg" x="370.7" y="69.8" text-anchor="middle">°</text>
<text class="t tk" x="377.4" y="76.6">W</text>
<text class="t tk" x="427.7" y="76.6" text-anchor="end">70</text>
<text class="t dg" x="433.1" y="69.8" text-anchor="middle">°</text>
<text class="t tk" x="440.7" y="76.6">W</text>
<text class="t tk" x="163.7" y="112.3" text-anchor="end">48</text>
<text class="t dg" x="167.9" y="104.0" text-anchor="middle">°</text>
<text class="t tk" x="175.0" y="112.3">N</text>
<text class="t tk" x="163.7" y="131.5" text-anchor="end">46</text>
<text class="t dg" x="167.9" y="123.2" text-anchor="middle">°</text>
<text class="t tk" x="175.0" y="131.5">N</text>
<text class="t tk" x="163.7" y="148.6" text-anchor="end">44</text>
<text class="t dg" x="167.9" y="140.3" text-anchor="middle">°</text>
<text class="t tk" x="175.0" y="148.6">N</text>
<text class="t tk" x="163.7" y="166.5" text-anchor="end">42</text>
<text class="t dg" x="167.9" y="158.2" text-anchor="middle">°</text>
<text class="t tk" x="175.0" y="166.5">N</text>
<text class="t tk" x="163.7" y="183.5" text-anchor="end">40</text>
<text class="t dg" x="167.9" y="175.2" text-anchor="middle">°</text>
<text class="t tk" x="175.0" y="183.5">N</text>
<text class="t tk" x="163.7" y="198.7" text-anchor="end">38</text>
<text class="t dg" x="167.9" y="190.4" text-anchor="middle">°</text>
<text class="t tk" x="175.0" y="198.7">N</text>
<text class="t tk" x="163.7" y="215.1" text-anchor="end">36</text>
<text class="t dg" x="167.9" y="206.8" text-anchor="middle">°</text>
<text class="t tk" x="175.0" y="215.1">N</text>
<text class="t tk" x="163.7" y="229.8" text-anchor="end">34</text>
<text class="t dg" x="167.9" y="221.5" text-anchor="middle">°</text>
<text class="t tk" x="175.0" y="229.8">N</text>
<text class="t tk" x="163.7" y="245.2" text-anchor="end">32</text>
<text class="t dg" x="167.9" y="236.9" text-anchor="middle">°</text>
<text class="t tk" x="175.0" y="245.2">N</text>
<text class="t tk" x="163.7" y="260.2" text-anchor="end">30</text>
<text class="t dg" x="167.9" y="251.9" text-anchor="middle">°</text>
<text class="t tk" x="175.0" y="260.2">N</text>
<text class="t tk" x="163.7" y="272.7" text-anchor="end">28</text>
<text class="t dg" x="167.9" y="264.4" text-anchor="middle">°</text>
<text class="t tk" x="175.0" y="272.7">N</text>
<text class="t tk" x="163.7" y="287.3" text-anchor="end">26</text>
<text class="t dg" x="167.9" y="279.0" text-anchor="middle">°</text>
<text class="t tk" x="175.0" y="287.3">N</text>
<text class="t tk" x="163.7" y="301.9" text-anchor="end">24</text>
<text class="t dg" x="167.9" y="293.6" text-anchor="middle">°</text>
<text class="t tk" x="175.0" y="301.9">N</text>
<text class="t tk" x="163.7" y="314.1" text-anchor="end">22</text>
<text class="t dg" x="167.9" y="305.8" text-anchor="middle">°</text>
<text class="t tk" x="175.0" y="314.1">N</text>
<rect x="441.6" y="95.8" width="22.9" height="214.3" fill="url(#jet)" stroke="#262626" stroke-width="1"/>
<text class="t cb" x="472.8" y="116.7">300</text>
<path d="M462.4 109.5h2" stroke="#262626" stroke-width="1"/>
<text class="t cb" x="472.8" y="164.7">280</text>
<path d="M462.4 157.5h2" stroke="#262626" stroke-width="1"/>
<text class="t cb" x="472.8" y="212.7">260</text>
<path d="M462.4 205.5h2" stroke="#262626" stroke-width="1"/>
<text class="t cb" x="472.8" y="260.7">240</text>
<path d="M462.4 253.5h2" stroke="#262626" stroke-width="1"/>
<text class="t cb" x="472.8" y="308.7">220</text>
<path d="M462.4 301.5h2" stroke="#262626" stroke-width="1"/>
<text class="t pt" x="307.3" y="340.7" text-anchor="middle">SAT+RAP 700 hPa Temp (K)</text>
</g>
<g transform="translate(842.0 0.0)">
<g transform="translate(195.85 95.50) scale(1.00463 1.00893) translate(-196.00 -96.40)">
<rect x="196.0" y="96.4" width="233.4" height="212.8" fill="none" stroke="#262626" stroke-width="1"/>
<g clip-path="url(#swath)"><rect x="170" y="70" width="240" height="270" fill="#e5ff1a"/><g filter="url(#bl)"><rect x="169" y="69" width="22" height="22" fill="#a8ff57"/><rect x="189" y="69" width="22" height="22" fill="#a8ff57"/><rect x="209" y="69" width="22" height="22" fill="#9eff61"/><rect x="229" y="69" width="22" height="22" fill="#94ff6b"/><rect x="249" y="69" width="22" height="22" fill="#80ff80"/><rect x="269" y="69" width="22" height="22" fill="#6bff94"/><rect x="289" y="69" width="22" height="22" fill="#57ffa8"/><rect x="309" y="69" width="22" height="22" fill="#42ffbd"/><rect x="329" y="69" width="22" height="22" fill="#38ffc7"/><rect x="349" y="69" width="22" height="22" fill="#2effd1"/><rect x="369" y="69" width="22" height="22" fill="#24ffdb"/><rect x="389" y="69" width="22" height="22" fill="#24ffdb"/><rect x="169" y="89" width="22" height="22" fill="#a8ff57"/><rect x="189" y="89" width="22" height="22" fill="#a8ff57"/><rect x="209" y="89" width="22" height="22" fill="#9eff61"/><rect x="229" y="89" width="22" height="22" fill="#94ff6b"/><rect x="249" y="89" width="22" height="22" fill="#80ff80"/><rect x="269" y="89" width="22" height="22" fill="#6bff94"/><rect x="289" y="89" width="22" height="22" fill="#57ffa8"/><rect x="309" y="89" width="22" height="22" fill="#42ffbd"/><rect x="329" y="89" width="22" height="22" fill="#38ffc7"/><rect x="349" y="89" width="22" height="22" fill="#2effd1"/><rect x="369" y="89" width="22" height="22" fill="#24ffdb"/><rect x="389" y="89" width="22" height="22" fill="#24ffdb"/><rect x="169" y="109" width="22" height="22" fill="#b3ff4c"/><rect x="189" y="109" width="22" height="22" fill="#b3ff4c"/><rect x="209" y="109" width="22" height="22" fill="#a8ff57"/><rect x="229" y="109" width="22" height="22" fill="#9eff61"/><rect x="249" y="109" width="22" height="22" fill="#94ff6b"/><rect x="269" y="109" width="22" height="22" fill="#80ff80"/><rect x="289" y="109" width="22" height="22" fill="#75ff8a"/><rect x="309" y="109" width="22" height="22" fill="#6bff94"/><rect x="329" y="109" width="22" height="22" fill="#57ffa8"/><rect x="349" y="109" width="22" height="22" fill="#42ffbd"/><rect x="369" y="109" width="22" height="22" fill="#38ffc7"/><rect x="389" y="109" width="22" height="22" fill="#38ffc7"/><rect x="169" y="129" width="22" height="22" fill="#b3ff4c"/><rect x="189" y="129" width="22" height="22" fill="#b3ff4c"/><rect x="209" y="129" width="22" height="22" fill="#b3ff4c"/><rect x="229" y="129" width="22" height="22" fill="#b3ff4c"/><rect x="249" y="129" width="22" height="22" fill="#a8ff57"/><rect x="269" y="129" width="22" height="22" fill="#94ff6b"/><rect x="289" y="129" width="22" height="22" fill="#8aff75"/><rect x="309" y="129" width="22" height="22" fill="#80ff80"/><rect x="329" y="129" width="22" height="22" fill="#80ff80"/><rect x="349" y="129" width="22" height="22" fill="#6bff94"/><rect x="369" y="129" width="22" height="22" fill="#57ffa8"/><rect x="389" y="129" width="22" height="22" fill="#57ffa8"/><rect x="169" y="149" width="22" height="22" fill="#b3ff4c"/><rect x="189" y="149" width="22" height="22" fill="#b3ff4c"/><rect x="209" y="149" width="22" height="22" fill="#bdff42"/><rect x="229" y="149" width="22" height="22" fill="#c7ff38"/><rect x="249" y="149" width="22" height="22" fill="#c7ff38"/><rect x="269" y="149" width="22" height="22" fill="#b3ff4c"/><rect x="289" y="149" width="22" height="22" fill="#9eff61"/><rect x="309" y="149" width="22" height="22" fill="#9eff61"/><rect x="329" y="149" width="22" height="22" fill="#9eff61"/><rect x="349" y="149" width="22" height="22" fill="#94ff6b"/><rect x="369" y="149" width="22" height="22" fill="#80ff80"/><rect x="389" y="149" width="22" height="22" fill="#80ff80"/><rect x="169" y="169" width="22" height="22" fill="#b3ff4c"/><rect x="189" y="169" width="22" height="22" fill="#b3ff4c"/><rect x="209" y="169" width="22" height="22" fill="#c7ff38"/><rect x="229" y="169" width="22" height="22" fill="#e5ff1a"/><rect x="249" y="169" width="22" height="22" fill="#f0ff0f"/><rect x="269" y="169" width="22" height="22" fill="#d1ff2e"/><rect x="289" y="169" width="22" height="22" fill="#bdff42"/><rect x="309" y="169" width="22" height="22" fill="#bdff42"/><rect x="329" y="169" width="22" height="22" fill="#bdff42"/><rect x="349" y="169" width="22" height="22" fill="#b3ff4c"/><rect x="369" y="169" width="22" height="22" fill="#9eff61"/><rect x="389" y="169" width="22" height="22" fill="#9eff61"/><rect x="169" y="189" width="22" height="22" fill="#bdff42"/><rect x="189" y="189" width="22" height="22" fill="#bdff42"/><rect x="209" y="189" width="22" height="22" fill="#d1ff2e"/><rect x="229" y="189" width="22" height="22" fill="#faff05"/><rect x="249" y="189" width="22" height="22" fill="#fffa00"/><rect x="269" y="189" width="22" height="22" fill="#f0ff0f"/><rect x="289" y="189" width="22" height="22" fill="#dbff24"/><rect x="309" y="189" width="22" height="22" fill="#d1ff2e"/><rect x="329" y="189" width="22" height="22" fill="#d1ff2e"/><rect x="349" y="189" width="22" height="22" fill="#c7ff38"/><rect x="369" y="189" width="22" height="22" fill="#b3ff4c"/><rect x="389" y="189" width="22" height="22" fill="#b3ff4c"/><rect x="169" y="209" width="22" height="22" fill="#c7ff38"/><rect x="189" y="209" width="22" height="22" fill="#c7ff38"/><rect x="209" y="209" width="22" height="22" fill="#fff000"/><rect x="229" y="209" width="22" height="22" fill="#ffd100"/><rect x="249" y="209" width="22" height="22" fill="#ffe500"/><rect x="269" y="209" width="22" height="22" fill="#ffdb00"/><rect x="289" y="209" width="22" height="22" fill="#ffe500"/><rect x="309" y="209" width="22" height="22" fill="#ffdb00"/><rect x="329" y="209" width="22" height="22" fill="#fff000"/><rect x="349" y="209" width="22" height="22" fill="#faff05"/><rect x="369" y="209" width="22" height="22" fill="#e5ff1a"/><rect x="389" y="209" width="22" height="22" fill="#e5ff1a"/><rect x="169" y="229" width="22" height="22" fill="#faff05"/><rect x="189" y="229" width="22" height="22" fill="#faff05"/><rect x="209" y="229" width="22" height="22" fill="#ffc700"/><rect x="229" y="229" width="22" height="22" fill="#ffbd00"/><rect x="249" y="229" width="22" height="22" fill="#ffc700"/><rect x="269" y="229" width="22" height="22" fill="#ffbd00"/><rect x="289" y="229" width="22" height="22" fill="#ffbd00"/><rect x="309" y="229" width="22" height="22" fill="#ffbd00"/><rect x="329" y="229" width="22" height="22" fill="#ffc700"/><rect x="349" y="229" width="22" height="22" fill="#ffdb00"/><rect x="369" y="229" width="22" height="22" fill="#fff000"/><rect x="389" y="229" width="22" height="22" fill="#fff000"/><rect x="169" y="249" width="22" height="22" fill="#ffbd00"/><rect x="189" y="249" width="22" height="22" fill="#ffbd00"/><rect x="209" y="249" width="22" height="22" fill="#ffb300"/><rect x="229" y="249" width="22" height="22" fill="#ffb300"/><rect x="249" y="249" width="22" height="22" fill="#ffb300"/><rect x="269" y="249" width="22" height="22" fill="#ffb300"/><rect x="289" y="249" width="22" height="22" fill="#ffb300"/><rect x="309" y="249" width="22" height="22" fill="#ffb300"/><rect x="329" y="249" width="22" height="22" fill="#ffb300"/><rect x="349" y="249" width="22" height="22" fill="#ffc700"/><rect x="369" y="249" width="22" height="22" fill="#ffdb00"/><rect x="389" y="249" width="22" height="22" fill="#ffdb00"/><rect x="169" y="269" width="22" height="22" fill="#ffb300"/><rect x="189" y="269" width="22" height="22" fill="#ffb300"/><rect x="209" y="269" width="22" height="22" fill="#ffa800"/><rect x="229" y="269" width="22" height="22" fill="#ffa800"/><rect x="249" y="269" width="22" height="22" fill="#ffa800"/><rect x="269" y="269" width="22" height="22" fill="#ffa800"/><rect x="289" y="269" width="22" height="22" fill="#ffa800"/><rect x="309" y="269" width="22" height="22" fill="#ffa800"/><rect x="329" y="269" width="22" height="22" fill="#ffb300"/><rect x="349" y="269" width="22" height="22" fill="#ffbd00"/><rect x="369" y="269" width="22" height="22" fill="#ffc700"/><rect x="389" y="269" width="22" height="22" fill="#ffc700"/><rect x="169" y="289" width="22" height="22" fill="#ffa800"/><rect x="189" y="289" width="22" height="22" fill="#ffa800"/><rect x="209" y="289" width="22" height="22" fill="#ff9e00"/><rect x="229" y="289" width="22" height="22" fill="#ff9e00"/><rect x="249" y="289" width="22" height="22" fill="#ff9e00"/><rect x="269" y="289" width="22" height="22" fill="#ff9e00"/><rect x="289" y="289" width="22" height="22" fill="#ff9e00"/><rect x="309" y="289" width="22" height="22" fill="#ffa800"/><rect x="329" y="289" width="22" height="22" fill="#ffb300"/><rect x="349" y="289" width="22" height="22" fill="#ffb300"/><rect x="369" y="289" width="22" height="22" fill="#ffb300"/><rect x="389" y="289" width="22" height="22" fill="#ffb300"/><rect x="169" y="309" width="22" height="22" fill="#ffa800"/><rect x="189" y="309" width="22" height="22" fill="#ffa800"/><rect x="209" y="309" width="22" height="22" fill="#ff9e00"/><rect x="229" y="309" width="22" height="22" fill="#ff9e00"/><rect x="249" y="309" width="22" height="22" fill="#ff9e00"/><rect x="269" y="309" width="22" height="22" fill="#ff9e00"/><rect x="289" y="309" width="22" height="22" fill="#ff9e00"/><rect x="309" y="309" width="22" height="22" fill="#ffa800"/><rect x="329" y="309" width="22" height="22" fill="#ffb300"/><rect x="349" y="309" width="22" height="22" fill="#ffb300"/><rect x="369" y="309" width="22" height="22" fill="#ffb300"/><rect x="389" y="309" width="22" height="22" fill="#ffb300"/><rect x="169" y="329" width="22" height="22" fill="#ffa800"/><rect x="189" y="329" width="22" height="22" fill="#ffa800"/><rect x="209" y="329" width="22" height="22" fill="#ff9e00"/><rect x="229" y="329" width="22" height="22" fill="#ff9e00"/><rect x="249" y="329" width="22" height="22" fill="#ff9e00"/><rect x="269" y="329" width="22" height="22" fill="#ff9e00"/><rect x="289" y="329" width="22" height="22" fill="#ff9e00"/><rect x="309" y="329" width="22" height="22" fill="#ffa800"/><rect x="329" y="329" width="22" height="22" fill="#ffb300"/><rect x="349" y="329" width="22" height="22" fill="#ffb300"/><rect x="369" y="329" width="22" height="22" fill="#ffb300"/><rect x="389" y="329" width="22" height="22" fill="#ffb300"/></g></g>
<g clip-path="url(#boxclip)"><use href="#states"/></g>
</g>
<text class="t tk" x="240.6" y="76.6" text-anchor="end">100</text>
<text class="t dg" x="246.0" y="69.8" text-anchor="middle">°</text>
<text class="t tk" x="252.5" y="76.6">W</text>
<text class="t tk" x="301.0" y="76.6" text-anchor="end">90</text>
<text class="t dg" x="306.4" y="69.8" text-anchor="middle">°</text>
<text class="t tk" x="313.9" y="76.6">W</text>
<text class="t tk" x="365.9" y="76.6" text-anchor="end">80</text>
<text class="t dg" x="371.3" y="69.8" text-anchor="middle">°</text>
<text class="t tk" x="378.1" y="76.6">W</text>
<text class="t tk" x="428.6" y="76.6" text-anchor="end">70</text>
<text class="t dg" x="434.0" y="69.8" text-anchor="middle">°</text>
<text class="t tk" x="441.7" y="76.6">W</text>
<text class="t tk" x="163.7" y="111.5" text-anchor="end">48</text>
<text class="t dg" x="167.9" y="103.2" text-anchor="middle">°</text>
<text class="t tk" x="175.0" y="111.5">N</text>
<text class="t tk" x="163.7" y="130.8" text-anchor="end">46</text>
<text class="t dg" x="167.9" y="122.5" text-anchor="middle">°</text>
<text class="t tk" x="175.0" y="130.8">N</text>
<text class="t tk" x="163.7" y="148.1" text-anchor="end">44</text>
<text class="t dg" x="167.9" y="139.8" text-anchor="middle">°</text>
<text class="t tk" x="175.0" y="148.1">N</text>
<text class="t tk" x="163.7" y="166.1" text-anchor="end">42</text>
<text class="t dg" x="167.9" y="157.8" text-anchor="middle">°</text>
<text class="t tk" x="175.0" y="166.1">N</text>
<text class="t tk" x="163.7" y="183.3" text-anchor="end">40</text>
<text class="t dg" x="167.9" y="175.0" text-anchor="middle">°</text>
<text class="t tk" x="175.0" y="183.3">N</text>
<text class="t tk" x="163.7" y="198.6" text-anchor="end">38</text>
<text class="t dg" x="167.9" y="190.3" text-anchor="middle">°</text>
<text class="t tk" x="175.0" y="198.6">N</text>
<text class="t tk" x="163.7" y="215.2" text-anchor="end">36</text>
<text class="t dg" x="167.9" y="206.9" text-anchor="middle">°</text>
<text class="t tk" x="175.0" y="215.2">N</text>
<text class="t tk" x="163.7" y="230.0" text-anchor="end">34</text>
<text class="t dg" x="167.9" y="221.7" text-anchor="middle">°</text>
<text class="t tk" x="175.0" y="230.0">N</text>
<text class="t tk" x="163.7" y="245.6" text-anchor="end">32</text>
<text class="t dg" x="167.9" y="237.3" text-anchor="middle">°</text>
<text class="t tk" x="175.0" y="245.6">N</text>
<text class="t tk" x="163.7" y="260.7" text-anchor="end">30</text>
<text class="t dg" x="167.9" y="252.4" text-anchor="middle">°</text>
<text class="t tk" x="175.0" y="260.7">N</text>
<text class="t tk" x="163.7" y="273.3" text-anchor="end">28</text>
<text class="t dg" x="167.9" y="265.0" text-anchor="middle">°</text>
<text class="t tk" x="175.0" y="273.3">N</text>
<text class="t tk" x="163.7" y="288.1" text-anchor="end">26</text>
<text class="t dg" x="167.9" y="279.8" text-anchor="middle">°</text>
<text class="t tk" x="175.0" y="288.1">N</text>
<text class="t tk" x="163.7" y="302.8" text-anchor="end">24</text>
<text class="t dg" x="167.9" y="294.5" text-anchor="middle">°</text>
<text class="t tk" x="175.0" y="302.8">N</text>
<text class="t tk" x="163.7" y="315.1" text-anchor="end">22</text>
<text class="t dg" x="167.9" y="306.8" text-anchor="middle">°</text>
<text class="t tk" x="175.0" y="315.1">N</text>
<rect x="443.7" y="95.8" width="22.9" height="214.3" fill="url(#jet)" stroke="#262626" stroke-width="1"/>
<text class="t cb" x="475.1" y="111.7">280</text>
<path d="M464.5 104.5h2" stroke="#262626" stroke-width="1"/>
<text class="t cb" x="475.1" y="169.2">260</text>
<path d="M464.5 162.0h2" stroke="#262626" stroke-width="1"/>
<text class="t cb" x="475.1" y="226.7">240</text>
<path d="M464.5 219.5h2" stroke="#262626" stroke-width="1"/>
<text class="t cb" x="475.1" y="284.2">220</text>
<path d="M464.5 277.0h2" stroke="#262626" stroke-width="1"/>
<text class="t pt" x="308.0" y="340.7" text-anchor="middle">SAT+RAP 500 hPa Temp (K)</text>
</g>
<g transform="translate(0.0 389.7)">
<rect x="196.0" y="96.4" width="233.4" height="212.8" fill="none" stroke="#262626" stroke-width="1"/>
<g fill="none" stroke-linecap="round"><path d="M320.3 200.4h0M286.9 167.1h0M323.8 172.6h0M270.8 192.6h0M270.4 197.0h0M305.4 197.5h0M287.2 195.6h0M334.8 193.5h0M286.2 188.1h0M302.9 192.1h0M311.6 174.4h0M303.2 203.9h0M307.4 164.1h0M280.4 191.5h0M305.4 179.8h0M310.0 183.2h0M271.5 196.3h0M290.2 170.2h0M319.7 160.3h0M297.1 192.5h0M323.2 159.5h0M295.6 200.8h0M325.8 201.3h0M269.6 186.0h0M323.1 169.7h0M289.2 194.5h0M272.1 182.7h0M300.9 176.8h0M304.5 199.6h0M296.6 194.3h0M270.1 202.1h0M323.9 163.1h0M295.6 182.7h0M279.6 162.7h0M312.9 186.1h0M327.4 198.0h0M268.8 167.9h0M305.6 178.6h0M268.2 165.9h0M312.9 163.7h0M332.7 169.0h0M322.6 195.1h0M322.2 167.2h0M278.6 203.8h0M303.4 167.8h0M271.9 168.7h0M322.7 162.9h0M269.5 169.6h0M315.5 182.5h0M277.1 184.5h0M281.7 196.6h0M273.8 197.9h0M337.7 173.0h0M330.4 185.2h0M299.9 188.2h0M273.5 182.1h0M328.3 188.5h0M283.6 176.3h0M340.4 171.1h0M331.7 190.9h0M294.3 183.0h0M345.1 164.0h0M300.8 199.6h0M301.8 182.6h0M289.7 187.6h0M300.2 174.6h0M325.6 164.7h0M270.2 201.3h0M309.0 172.0h0M314.8 194.0h0M309.9 191.6h0M304.7 182.7h0M312.3 195.8h0M271.0 176.4h0M279.8 174.8h0M302.3 201.3h0M306.8 167.6h0M303.5 189.4h0M321.1 203.4h0M280.5 163.9h0M304.3 168.9h0M291.6 176.3h0M277.5 199.3h0M323.9 187.9h0M306.0 191.0h0M277.2 193.9h0M296.2 192.7h0M318.7 199.3h0M335.0 160.1h0M336.8 183.3h0M274.5 178.4h0M281.0 169.8h0M312.3 199.4h0M310.3 203.3h0M320.9 155.7h0M284.9 166.6h0M306.8 173.1h0M305.1 185.8h0M327.3 194.1h0M316.2 174.3h0M292.4 181.3h0M277.9 179.3h0M271.9 173.7h0M316.8 188.0h0M310.8 185.3h0M282.3 189.0h0M325.7 168.7h0M322.1 173.9h0M327.9 200.0h0M309.8 182.4h0M323.8 180.1h0M313.0 173.4h0M312.4 168.3h0M273.5 204.7h0M311.5 190.5h0M320.1 191.8h0M295.4 174.3h0M287.9 170.6h0M321.3 158.3h0M332.1 187.1h0M309.0 166.4h0M301.8 204.0h0M309.9 161.8h0M336.7 186.3h0M314.8 201.3h0M279.7 181.4h0M331.5 165.4h0M328.6 203.6h0M302.9 173.0h0M323.7 175.9h0M296.5 186.7h0M276.9 187.9h0M276.3 185.7h0M299.7 170.5h0M316.4 170.1h0M276.1 193.6h0M314.5 197.1h0M290.1 190.8h0M335.6 180.5h0M278.4 172.0h0M281.6 172.0h0M305.9 204.9h0M328.1 183.9h0M283.3 196.6h0M279.7 185.2h0M331.3 191.2h0M314.0 174.9h0M316.7 160.3h0M280.3 176.3h0M302.6 187.5h0M313.6 171.5h0M289.5 193.6h0M299.4 180.3h0M327.2 193.2h0M271.3 165.6h0M334.3 172.2h0M273.2 189.9h0M295.4 190.9h0M284.4 170.0h0M326.8 173.4h0M317.5 159.2h0M331.6 168.2h0M289.7 171.6h0M270.5 158.5h0M290.7 164.9h0M293.0 196.9h0M336.8 175.8h0M285.4 183.7h0M342.9 164.6h0M328.3 169.6h0M298.3 198.7h0M331.3 173.2h0M338.3 178.1h0M325.6 187.4h0M325.0 192.8h0M329.9 178.8h0M313.7 162.3h0M335.4 167.7h0M283.4 202.8h0M319.5 165.5h0M301.5 178.1h0M275.7 165.8h0M326.6 202.1h0M331.4 161.7h0M327.8 174.2h0M286.8 198.1h0M301.8 192.9h0M286.9 177.9h0M332.0 182.3h0M319.9 194.0h0M276.7 176.4h0M317.4 174.1h0M294.8 185.7h0M341.2 171.3h0M298.6 175.4h0M305.2 196.6h0M292.0 195.3h0M277.5 171.0h0M321.8 176.6h0M281.5 201.7h0M317.6 156.1h0M317.7 188.7h0M284.1 193.8h0M286.9 163.8h0M322.0 183.6h0M289.6 201.4h0M318.5 163.6h0M294.2 167.9h0M301.8 165.5h0M319.0 184.5h0M306.3 180.0h0M269.4 176.8h0M331.6 175.0h0M270.1 182.1h0M311.4 187.9h0M315.1 193.7h0M329.0 180.5h0M325.9 193.6h0M322.2 179.5h0M315.6 199.3h0M270.2 195.0h0M300.9 168.6h0M342.3 162.7h0M286.5 179.6h0M308.7 187.1h0M303.9 175.7h0M330.8 194.8h0M281.0 183.9h0M306.4 175.1h0M289.2 178.3h0M317.9 174.3h0M283.9 184.9h0M286.7 202.5h0M275.9 179.8h0M309.1 195.7h0M339.3 180.8h0M284.3 201.8h0M294.6 174.1h0M319.2 154.3h0M306.0 163.1h0M275.4 195.0h0M282.4 180.4h0M333.0 191.6h0M285.0 188.1h0M299.9 197.2h0M317.3 167.1h0M302.3 181.0h0M292.4 186.5h0M319.0 180.7h0M272.2 201.2h0M285.8 171.9h0M318.8 185.4h0M331.3 175.8h0M267.5 175.6h0M270.8 160.8h0M325.1 179.7h0M297.6 169.6h0M278.4 193.4h0M323.7 183.1h0M327.8 179.5h0M317.4 200.5h0M330.5 198.3h0M317.0 177.4h0M343.3 167.0h0M323.6 190.3h0M274.8 163.7h0M281.8 199.1h0M308.4 191.3h0M291.1 167.8h0M343.6 171.2h0M325.8 162.5h0M280.1 188.3h0M310.3 198.1h0M267.6 178.2h0M342.7 161.7h0M336.2 165.9h0M274.2 160.4h0M281.3 168.2h0M316.0 168.5h0M301.2 196.0h0M339.3 165.6h0M297.8 166.8h0M291.0 192.4h0M334.8 170.6h0M309.8 189.5h0M292.9 196.7h0M333.9 188.3h0M318.7 177.7h0M292.0 173.1h0M308.8 170.7h0M337.9 160.6h0M340.1 176.9h0M330.7 164.4h0M289.2 180.0h0M333.5 195.2h0M287.5 200.4h0M321.1 170.6h0M316.8 190.8h0M327.9 168.6h0M340.9 167.8h0M298.3 196.0h0M299.1 204.7h0M279.3 165.8h0M335.9 178.5h0M331.9 199.7h0M272.1 185.1h0M274.6 173.0h0M294.1 177.8h0M318.5 180.4h0M293.1 170.7h0M309.6 163.3h0M285.4 165.8h0M270.8 187.9h0M314.4 181.1h0M292.6 200.0h0M304.4 165.9h0M291.8 189.1h0M284.4 176.8h0M312.1 169.5h0M288.7 177.0h0M312.7 203.0h0M275.6 202.8h0M266.5 160.5h0M309.6 176.9h0M282.8 172.5h0M316.1 185.7h0M300.7 172.1h0M271.5 167.5h0M282.7 186.9h0M323.1 203.9h0M324.4 196.6h0M335.2 184.3h0M276.7 170.7h0M268.3 199.2h0M294.8 202.9h0M299.7 185.4h0M320.9 189.7h0M308.1 201.4h0M339.0 165.7h0M290.2 203.1h0M330.2 182.8h0M275.2 184.0h0M279.8 199.3h0M297.0 178.1h0M281.0 178.3h0M273.8 165.9h0M285.5 197.2h0M308.1 198.2h0M318.2 201.9h0M326.6 170.8h0M294.3 180.6h0M340.6 174.9h0M311.2 179.8h0M290.5 183.7h0M282.9 201.8h0M325.6 180.6h0" stroke="#00009b" stroke-width="7.0"/><path d="M268.7 198.0L335.3 198.0L316.9 247.6L305.5 251.2L284.3 249.8L272.9 254.0L270.1 244.8L266.5 236.3L271.5 219.3L264.4 209.3 Z" fill="#00009b"/><path d="M262.1 205.1h0M272.3 244.7h0M264.6 207.7h0M268.2 223.2h0M271.6 229.5h0M274.4 254.7h0M268.2 226.8h0M270.9 236.2h0M262.0 210.7h0M273.1 215.6h0M273.4 233.7h0M273.3 224.3h0M272.0 234.7h0M267.4 238.6h0M269.3 212.2h0M270.8 212.1h0M268.9 219.4h0M275.2 245.3h0M265.0 234.1h0M265.2 207.0h0M273.8 244.0h0M267.9 230.9h0M269.5 210.3h0M269.8 238.8h0M266.2 242.7h0M269.6 229.0h0M271.3 223.4h0M268.1 235.1h0M272.4 219.6h0M264.8 241.0h0M262.8 237.7h0M265.6 204.7h0M267.0 238.5h0M269.5 245.5h0M270.5 204.7h0M273.1 212.0h0M272.1 238.4h0M273.6 226.4h0M268.8 243.9h0M271.5 250.9h0M269.7 248.3h0M273.3 232.0h0M274.3 247.9h0M269.5 218.0h0M272.3 208.0h0M265.6 210.5h0M274.9 241.5h0M273.6 252.6h0M268.4 206.8h0M267.6 213.5h0M269.1 231.0h0M265.8 209.0h0M271.3 216.8h0M268.9 214.7h0" stroke="#00009b" stroke-width="7.0"/><path d="M287.1 185.8L297.0 187.3L298.4 193.6L289.9 192.9L286.4 189.4 Z" fill="#fff"/><path d="M320.4 165.3L326.8 167.4L324.7 170.2L320.4 168.8 Z" fill="#fff"/><path d="M221.8 140.8h0M217.2 133.8h0M225.6 143.7h0M232.1 140.1h0" stroke="#0000c8" stroke-width="7.0"/><path d="M229.5 139.7h0M219.2 135.3h0M236.9 138.2h0M218.1 128.4h0M224.7 132.5h0M233.2 129.4h0M214.8 139.2h0M216.0 146.9h0M232.7 138.8h0M226.2 127.8h0M237.2 135.9h0M209.9 144.4h0M220.6 146.3h0M219.6 128.8h0" stroke="#00009b" stroke-width="7.0"/><path d="M216.9 141.2h0M233.6 138.1h0M240.1 131.7h0M241.2 134.1h0M213.0 147.0h0M230.1 144.9h0" stroke="#0000c8" stroke-width="7.0"/><path d="M244.8 136.4h0M221.8 132.7h0M211.7 138.8h0" stroke="#0c2cff" stroke-width="7.0"/><path d="M229.9 132.1h0M225.3 145.3h0M216.1 127.9h0M230.7 129.2h0M230.9 141.1h0M218.5 133.9h0M211.7 147.5h0M237.2 132.9h0M237.0 139.7h0" stroke="#00009b" stroke-width="7.0"/><path d="M210.5 141.7h0M225.8 137.3h0M207.8 147.0h0M221.9 139.3h0M245.3 130.2h0M243.5 128.9h0M215.3 144.1h0M212.7 134.1h0M234.9 131.5h0M219.3 137.4h0M213.1 135.6h0" stroke="#00009b" stroke-width="7.0"/><path d="M215.5 128.2h0M213.9 142.3h0M232.6 133.2h0M244.4 134.6h0" stroke="#0000c8" stroke-width="7.0"/><path d="M226.8 142.4h0M223.2 130.2h0M226.4 145.6h0" stroke="#0c2cff" stroke-width="7.0"/><path d="M223.7 142.2h0M234.2 134.3h0M213.2 142.1h0M245.2 132.2h0" stroke="#0000c8" stroke-width="7.0"/><path d="M212.3 148.9h0M238.3 129.6h0M226.0 135.4h0M225.9 129.4h0M225.0 135.9h0M231.5 135.4h0M240.1 129.8h0M210.1 139.5h0M241.8 138.7h0M217.6 129.2h0M222.7 143.1h0" stroke="#00009b" stroke-width="7.0"/><path d="M217.9 145.1h0M215.3 133.5h0" stroke="#0c2cff" stroke-width="7.0"/><path d="M201.0 137.9h0M207.0 134.7h0M231.2 121.4h0M200.8 129.8h0" stroke="#8e0000" stroke-width="7.0"/><path d="M214.8 127.4h0M207.8 129.4h0M252.4 123.0h0M207.9 139.7h0M231.8 116.1h0M224.8 119.7h0M234.2 121.8h0" stroke="#ff7a00" stroke-width="7.0"/><path d="M250.6 121.4h0M208.9 126.3h0M225.1 122.6h0M214.1 126.8h0M239.0 123.0h0" stroke="#ee1200" stroke-width="7.0"/><path d="M210.8 130.9h0M221.1 122.1h0M253.1 119.1h0" stroke="#ffb000" stroke-width="7.0"/><path d="M213.9 129.5h0" stroke="#f2f01e" stroke-width="7.0"/><path d="M245.2 118.2h0M212.2 121.6h0M242.3 121.7h0M255.6 119.7h0M256.5 122.3h0M219.2 120.2h0" stroke="#ee1200" stroke-width="7.0"/><path d="M202.5 130.5h0M241.9 125.8h0M226.8 119.4h0" stroke="#8e0000" stroke-width="7.0"/><path d="M205.6 138.3h0M233.6 120.0h0M253.6 125.9h0M205.4 135.0h0M259.7 129.3h0M252.8 128.3h0M258.1 119.9h0" stroke="#ff7a00" stroke-width="7.0"/><path d="M261.2 125.0h0M249.6 119.0h0M223.4 121.5h0" stroke="#2fe0f0" stroke-width="7.0"/><path d="M238.9 120.8h0" stroke="#f2f01e" stroke-width="7.0"/><path d="M232.9 121.9h0M215.6 122.2h0M207.9 127.6h0M207.5 125.3h0" stroke="#8e0000" stroke-width="7.0"/><path d="M251.9 125.8h0M245.7 119.3h0M244.1 122.1h0M258.5 122.4h0M235.1 118.9h0M256.2 127.7h0" stroke="#ee1200" stroke-width="7.0"/><path d="M205.4 133.7h0M204.1 140.8h0M249.9 125.4h0M202.9 131.9h0M216.0 118.1h0M242.4 117.4h0M217.2 123.8h0" stroke="#ff7a00" stroke-width="7.0"/><path d="M258.1 129.3h0" stroke="#2fe0f0" stroke-width="7.0"/><path d="M237.1 124.1h0M211.6 123.3h0" stroke="#f2f01e" stroke-width="7.0"/><path d="M210.9 127.6h0M230.4 122.6h0M215.0 124.0h0M236.1 119.2h0M230.2 116.5h0M233.2 118.3h0M256.2 124.5h0M216.0 119.7h0M247.6 120.5h0M253.8 118.8h0M204.4 136.2h0" stroke="#ff7a00" stroke-width="7.0"/><path d="M220.2 121.0h0M238.4 117.8h0M246.9 122.3h0M242.5 120.1h0M246.7 125.7h0M208.2 136.5h0" stroke="#ee1200" stroke-width="7.0"/><path d="M205.7 128.1h0" stroke="#ffb000" stroke-width="7.0"/><path d="M208.9 123.1h0M214.6 118.4h0" stroke="#2fe0f0" stroke-width="7.0"/><path d="M205.8 126.3h0M211.0 125.1h0" stroke="#1c8cff" stroke-width="7.0"/><path d="M209.2 128.7h0M205.4 128.2h0" stroke="#2fe0f0" stroke-width="7.0"/><path d="M207.6 125.3h0M203.7 127.4h0" stroke="#84fc7c" stroke-width="7.0"/><path d="M212.9 126.0h0" stroke="#2fe0f0" stroke-width="7.0"/><path d="M215.6 122.5h0" stroke="#84fc7c" stroke-width="7.0"/><path d="M213.8 125.2h0M214.8 121.0h0" stroke="#1c8cff" stroke-width="7.0"/><path d="M217.8 117.7h0" stroke="#2fe0f0" stroke-width="7.0"/><path d="M290.4 134.2h0M264.8 108.2h0M298.8 132.9h0M270.7 103.3h0M327.0 99.8h0M268.9 117.9h0M260.7 105.7h0M290.2 115.3h0M287.9 120.6h0" stroke="#2fe0f0" stroke-width="7.0"/><path d="M266.8 95.4h0M292.2 108.0h0M278.0 113.3h0M323.5 101.7h0" stroke="#84fc7c" stroke-width="7.0"/><path d="M287.1 131.8h0M291.6 130.5h0M262.8 105.6h0M285.3 107.7h0M267.7 122.6h0M316.2 137.2h0M302.1 121.6h0M320.1 129.0h0M292.6 111.2h0M263.7 97.7h0M278.4 113.3h0M281.6 107.6h0M264.7 100.6h0M307.7 105.8h0M289.9 98.8h0M289.2 103.5h0M286.2 128.7h0M271.9 126.7h0M269.7 123.8h0M296.5 134.1h0M311.9 135.5h0M278.8 121.2h0M323.2 97.4h0M270.2 110.5h0M268.2 102.0h0M288.4 112.2h0M295.0 129.3h0" stroke="#ee1200" stroke-width="7.0"/><path d="M273.5 132.3h0" stroke="#8e0000" stroke-width="7.0"/><path d="M291.3 124.3h0M300.3 129.6h0M265.8 114.9h0M291.6 111.1h0M270.7 121.3h0M310.4 96.4h0" stroke="#00009b" stroke-width="7.0"/><path d="M309.8 136.7h0M307.9 101.2h0M284.5 113.8h0M310.8 128.7h0M323.2 130.9h0M261.4 116.9h0M325.6 136.6h0M281.2 103.4h0M274.6 123.5h0" stroke="#f2f01e" stroke-width="7.0"/><path d="M267.4 118.4h0M300.7 125.1h0M294.6 120.4h0M274.3 104.1h0M260.0 109.1h0M287.3 136.1h0M303.2 129.8h0M277.4 97.5h0M281.7 101.5h0M273.3 95.9h0M271.5 125.2h0M261.9 110.5h0M306.1 132.4h0M291.4 108.1h0M306.2 126.3h0M325.5 102.6h0M267.1 115.5h0M274.2 100.9h0" stroke="#ff7a00" stroke-width="7.0"/><path d="M288.0 126.3h0M307.7 133.1h0" stroke="#ffb000" stroke-width="7.0"/><path d="M312.9 131.8h0M300.7 137.6h0M297.3 129.5h0M290.9 101.1h0M302.0 94.3h0" stroke="#2fe0f0" stroke-width="7.0"/><path d="M306.3 121.6h0M314.7 123.5h0M291.7 134.8h0M300.1 97.9h0M274.6 97.1h0" stroke="#ffb000" stroke-width="7.0"/><path d="M311.9 128.7h0M306.6 137.8h0M280.9 124.1h0" stroke="#8e0000" stroke-width="7.0"/><path d="M318.0 128.5h0M261.3 97.5h0M316.5 98.5h0M270.1 131.8h0M306.0 101.1h0M299.1 104.6h0" stroke="#1c8cff" stroke-width="7.0"/><path d="M322.1 134.0h0M287.1 118.5h0M282.0 116.4h0M303.9 127.8h0" stroke="#84fc7c" stroke-width="7.0"/><path d="M267.5 130.5h0M299.0 121.2h0M276.4 108.9h0M281.4 134.2h0M320.6 126.9h0M304.2 136.2h0" stroke="#00009b" stroke-width="7.0"/><path d="M276.6 126.6h0M281.3 98.6h0M282.2 114.9h0M271.1 119.2h0M271.4 117.1h0M289.8 106.1h0M305.7 96.7h0M308.8 127.7h0M300.6 129.1h0M280.5 129.5h0" stroke="#f2f01e" stroke-width="7.0"/><path d="M275.5 106.2h0M277.3 105.5h0M280.0 100.2h0M272.3 102.1h0M258.9 96.5h0M267.2 120.8h0M283.1 102.9h0M321.9 100.2h0M261.9 119.6h0M271.5 130.3h0M325.8 98.0h0M273.6 107.8h0M324.8 104.7h0M324.5 133.3h0M280.0 126.6h0M326.7 138.6h0M318.8 134.7h0M294.8 100.3h0M321.0 96.8h0M287.7 108.5h0M261.9 104.0h0M285.9 108.0h0M322.8 139.0h0M302.8 104.1h0M310.1 126.0h0" stroke="#ff7a00" stroke-width="7.0"/><path d="M276.4 116.0h0M293.1 123.3h0M285.3 104.8h0M286.0 130.5h0M301.7 134.0h0M275.4 123.9h0M315.1 105.4h0M264.6 95.1h0M262.1 100.5h0M274.5 114.9h0M261.1 102.9h0M310.9 101.0h0" stroke="#ee1200" stroke-width="7.0"/><path d="M297.2 128.5h0M305.8 135.9h0M270.3 111.6h0M274.6 129.9h0M288.0 121.0h0M261.9 126.6h0" stroke="#00009b" stroke-width="7.0"/><path d="M295.8 104.6h0M266.9 107.9h0M284.6 96.0h0" stroke="#ffb000" stroke-width="7.0"/><path d="M294.8 97.5h0M315.6 137.5h0M281.2 132.4h0M267.2 123.6h0M297.3 100.5h0M288.7 97.5h0M306.6 100.0h0M265.5 97.9h0M318.1 132.9h0M262.1 116.7h0M275.5 116.7h0M310.2 133.8h0M309.9 94.9h0M280.7 123.4h0M277.4 99.8h0M298.8 100.2h0M312.7 104.4h0M276.2 112.9h0M286.9 101.1h0M310.0 136.8h0M289.7 129.6h0M269.8 106.8h0M263.4 125.0h0M282.8 128.0h0M273.1 99.4h0M268.7 97.6h0M296.3 122.5h0" stroke="#ff7a00" stroke-width="7.0"/><path d="M289.3 94.8h0M276.4 95.0h0M270.7 127.8h0M276.9 132.6h0M266.0 111.2h0M327.6 104.0h0M301.3 97.0h0M315.3 126.2h0M298.5 121.8h0M292.8 133.2h0M265.8 126.5h0M265.6 119.9h0M277.2 106.5h0M316.8 96.4h0M284.2 133.5h0M310.4 102.8h0M300.2 104.6h0M294.5 125.3h0M281.8 130.6h0M298.4 98.8h0M264.1 129.5h0M321.5 105.3h0M282.9 122.8h0M308.1 97.0h0M313.6 102.7h0M274.1 133.9h0M259.6 104.0h0M283.0 113.3h0" stroke="#ee1200" stroke-width="7.0"/><path d="M291.4 117.1h0M286.5 94.3h0" stroke="#8e0000" stroke-width="7.0"/><path d="M271.6 115.3h0M302.3 127.1h0M314.5 130.5h0M316.8 136.3h0M279.8 121.0h0" stroke="#f2f01e" stroke-width="7.0"/><path d="M264.6 121.1h0" stroke="#1c8cff" stroke-width="7.0"/><path d="M309.5 98.3h0M291.9 119.1h0M264.1 110.7h0" stroke="#2fe0f0" stroke-width="7.0"/><path d="M298.4 124.7h0" stroke="#84fc7c" stroke-width="7.0"/><path d="M283.7 118.5h0M302.4 100.8h0M312.2 100.0h0M320.2 103.8h0M292.6 104.2h0M272.8 113.3h0M274.0 108.2h0" stroke="#f2f01e" stroke-width="7.0"/><path d="M292.6 94.6h0M287.3 107.9h0M294.2 127.5h0M300.3 134.4h0M302.8 97.6h0M307.8 122.8h0M281.7 94.7h0M319.4 102.5h0M272.3 124.3h0M291.6 97.4h0M280.5 109.8h0M277.8 119.0h0M283.8 105.3h0M290.9 136.6h0M286.6 134.0h0M285.9 124.7h0M278.1 117.8h0M326.3 95.4h0M268.2 96.7h0" stroke="#ee1200" stroke-width="7.0"/><path d="M298.3 97.3h0M312.2 124.7h0M277.2 128.8h0M321.0 132.6h0M307.6 139.5h0M261.5 130.1h0M302.6 123.7h0M328.4 105.7h0M292.3 100.9h0M313.4 94.9h0" stroke="#2fe0f0" stroke-width="7.0"/><path d="M266.7 103.8h0M261.1 112.7h0" stroke="#8e0000" stroke-width="7.0"/><path d="M317.0 101.6h0M305.8 94.9h0M277.6 126.9h0M328.1 96.4h0M328.1 100.3h0M293.3 97.6h0M318.0 100.3h0M289.2 114.0h0" stroke="#ffb000" stroke-width="7.0"/><path d="M287.6 116.5h0M280.2 110.8h0" stroke="#1c8cff" stroke-width="7.0"/><path d="M287.0 99.0h0M271.6 99.0h0M320.1 138.5h0M279.1 100.3h0M306.5 129.5h0M295.9 136.3h0M264.9 102.6h0M284.4 116.2h0M264.2 111.7h0M272.4 119.2h0M261.7 113.8h0M306.0 104.3h0M281.8 97.1h0M298.4 135.8h0M283.9 124.2h0M289.5 126.2h0M312.9 130.2h0M289.1 121.1h0" stroke="#ff7a00" stroke-width="7.0"/><path d="M330.9 102.7h0M314.5 125.8h0M283.1 110.6h0M325.2 133.8h0" stroke="#00009b" stroke-width="7.0"/><path d="M314.8 104.5h0M300.4 120.7h0" stroke="#84fc7c" stroke-width="7.0"/><path d="M331.1 141.3h0M334.4 139.4h0M349.3 139.4h0M335.5 135.5h0M330.6 149.2h0" stroke="#ff7a00" stroke-width="7.0"/><path d="M349.4 138.5h0M330.3 137.7h0M341.0 131.4h0M355.0 133.6h0M344.3 156.7h0" stroke="#f2f01e" stroke-width="7.0"/><path d="M348.5 152.6h0M327.3 144.5h0M332.7 133.7h0" stroke="#ffb000" stroke-width="7.0"/><path d="M334.2 137.5h0M334.8 145.9h0M339.1 147.8h0M328.1 137.3h0M338.7 139.3h0M328.3 143.5h0M333.4 143.5h0M351.0 133.1h0" stroke="#ee1200" stroke-width="7.0"/><path d="M336.5 152.6h0M333.8 151.9h0M354.8 141.0h0M330.8 135.3h0M336.0 156.9h0" stroke="#00009b" stroke-width="7.0"/><path d="M358.8 132.1h0M349.8 148.8h0M328.8 146.1h0M346.3 135.7h0M348.8 142.5h0M357.5 134.2h0M354.3 143.4h0M335.3 130.6h0M344.2 156.1h0M339.4 152.5h0M345.2 150.6h0M355.5 138.0h0" stroke="#ff7a00" stroke-width="7.0"/><path d="M345.9 134.4h0M335.3 148.8h0" stroke="#84fc7c" stroke-width="7.0"/><path d="M344.8 139.3h0M335.5 156.4h0" stroke="#00009b" stroke-width="7.0"/><path d="M346.7 133.0h0" stroke="#ffb000" stroke-width="7.0"/><path d="M350.7 148.6h0M342.8 133.5h0M339.2 133.1h0M347.0 158.4h0M342.1 156.4h0" stroke="#ee1200" stroke-width="7.0"/><path d="M342.0 144.6h0M346.9 145.6h0M339.8 149.7h0" stroke="#f2f01e" stroke-width="7.0"/><path d="M329.2 153.5h0" stroke="#2fe0f0" stroke-width="7.0"/><path d="M344.1 145.3h0M332.9 130.2h0" stroke="#84fc7c" stroke-width="7.0"/><path d="M327.3 135.5h0M336.8 131.4h0M331.1 139.2h0" stroke="#2fe0f0" stroke-width="7.0"/><path d="M343.2 153.6h0M343.1 136.0h0" stroke="#00009b" stroke-width="7.0"/><path d="M333.1 149.4h0" stroke="#ffb000" stroke-width="7.0"/><path d="M336.7 151.3h0" stroke="#8e0000" stroke-width="7.0"/><path d="M335.9 148.6h0M349.8 137.5h0M332.5 155.8h0M335.3 141.7h0M351.7 146.2h0" stroke="#ee1200" stroke-width="7.0"/><path d="M349.1 158.3h0M352.8 132.0h0M356.8 138.3h0M332.1 140.1h0M328.6 155.1h0M343.8 147.8h0M327.1 141.4h0M332.1 131.1h0M340.6 140.1h0" stroke="#ff7a00" stroke-width="7.0"/><path d="M351.7 136.3h0M345.6 148.0h0M342.1 132.0h0" stroke="#f2f01e" stroke-width="7.0"/><path d="M348.1 151.2h0M339.3 144.3h0M332.4 147.1h0M329.8 154.1h0M349.9 144.2h0M348.6 130.3h0M346.5 134.1h0" stroke="#ff7a00" stroke-width="7.0"/><path d="M341.2 142.3h0" stroke="#8e0000" stroke-width="7.0"/><path d="M340.0 156.6h0M337.9 141.6h0M346.4 154.9h0" stroke="#00009b" stroke-width="7.0"/><path d="M345.9 142.8h0M344.0 159.8h0M343.8 143.6h0M338.4 138.0h0M339.7 135.9h0M328.2 132.3h0M350.7 131.5h0M351.3 140.9h0M338.8 129.7h0" stroke="#ee1200" stroke-width="7.0"/><path d="M348.7 159.3h0M338.9 155.9h0M340.6 149.9h0M345.8 151.8h0" stroke="#f2f01e" stroke-width="7.0"/><path d="M355.1 131.5h0" stroke="#84fc7c" stroke-width="7.0"/><path d="M309.6 108.1h0M326.0 106.2h0" stroke="#0c2cff" stroke-width="7.0"/><path d="M329.0 111.4h0M313.4 108.2h0" stroke="#0000c8" stroke-width="7.0"/><path d="M317.0 114.5h0M337.9 116.5h0M323.8 108.7h0M339.0 118.8h0M307.1 112.9h0M333.0 117.4h0M331.8 109.2h0M299.2 108.1h0M324.0 112.3h0M339.3 104.8h0" stroke="#00009b" stroke-width="7.0"/><path d="M332.6 120.2h0M313.5 107.8h0" stroke="#0000c8" stroke-width="7.0"/><path d="M343.0 116.9h0M295.7 110.1h0M302.3 115.0h0M312.5 109.6h0M301.7 110.9h0M344.1 114.3h0" stroke="#00009b" stroke-width="7.0"/><path d="M302.8 109.7h0M335.7 116.0h0M308.6 109.6h0M335.6 120.9h0M342.8 111.1h0M341.8 112.4h0" stroke="#0c2cff" stroke-width="7.0"/><path d="M327.6 119.8h0M329.0 118.5h0" stroke="#0000c8" stroke-width="7.0"/><path d="M338.2 112.4h0" stroke="#0c2cff" stroke-width="7.0"/><path d="M338.9 121.4h0M333.6 114.5h0M318.5 105.7h0M321.7 107.5h0M329.2 111.5h0M336.7 105.8h0M297.9 112.9h0M301.7 113.6h0M327.0 115.6h0M340.4 110.1h0M329.0 121.5h0" stroke="#00009b" stroke-width="7.0"/><path d="M327.9 113.6h0M335.3 106.8h0M307.6 113.9h0" stroke="#0000c8" stroke-width="7.0"/><path d="M341.0 118.8h0M319.2 111.5h0M336.3 111.3h0M332.0 106.2h0M325.1 115.2h0M321.4 108.1h0M332.4 122.1h0M311.3 113.2h0" stroke="#00009b" stroke-width="7.0"/><path d="M319.6 110.1h0M341.4 106.7h0" stroke="#0c2cff" stroke-width="7.0"/><path d="M361.5 127.7h0" stroke="#00009b" stroke-width="7.0"/><path d="M358.5 127.1h0M363.2 124.3h0" stroke="#1c8cff" stroke-width="7.0"/><path d="M363.3 130.2h0M352.3 121.4h0" stroke="#4ff0b0" stroke-width="7.0"/><path d="M347.9 122.7h0M355.9 118.0h0M351.7 126.7h0" stroke="#2fe0f0" stroke-width="7.0"/><path d="M347.4 113.7h0" stroke="#f2f01e" stroke-width="7.0"/><path d="M352.9 121.2h0M354.7 124.2h0M351.1 112.4h0" stroke="#2fe0f0" stroke-width="7.0"/><path d="M357.5 115.9h0" stroke="#1c8cff" stroke-width="7.0"/><path d="M347.9 115.5h0" stroke="#00009b" stroke-width="7.0"/><path d="M358.3 114.5h0" stroke="#f2f01e" stroke-width="7.0"/><path d="M355.9 129.7h0M357.9 129.4h0M353.6 115.2h0" stroke="#4ff0b0" stroke-width="7.0"/><path d="M354.4 132.8h0M365.1 126.0h0" stroke="#00009b" stroke-width="7.0"/><path d="M358.9 118.9h0" stroke="#f2f01e" stroke-width="7.0"/><path d="M351.1 123.4h0M359.5 122.8h0" stroke="#4ff0b0" stroke-width="7.0"/><path d="M350.7 129.6h0M356.7 133.1h0" stroke="#2fe0f0" stroke-width="7.0"/><path d="M348.2 127.2h0M348.7 116.6h0" stroke="#1c8cff" stroke-width="7.0"/><path d="M350.0 119.9h0M353.1 114.6h0M352.5 128.5h0M363.5 127.5h0M354.7 114.5h0" stroke="#2fe0f0" stroke-width="7.0"/><path d="M358.1 121.2h0" stroke="#4ff0b0" stroke-width="7.0"/><path d="M358.3 130.6h0" stroke="#1c8cff" stroke-width="7.0"/><path d="M282.8 137.2h0" stroke="#0c2cff" stroke-width="7.0"/><path d="M290.0 141.2h0M273.3 136.0h0M293.8 142.5h0M279.5 136.3h0M317.5 141.2h0M278.9 140.5h0M282.1 138.0h0" stroke="#00009b" stroke-width="7.0"/><path d="M307.0 143.6h0" stroke="#0000c8" stroke-width="7.0"/><path d="M269.7 137.7h0M319.4 142.1h0M278.5 136.7h0M296.0 138.8h0M264.5 136.9h0M325.7 142.8h0M304.7 141.2h0" stroke="#00009b" stroke-width="7.0"/><path d="M323.9 144.6h0M292.5 139.9h0M300.6 142.0h0" stroke="#0000c8" stroke-width="7.0"/><path d="M313.7 141.1h0M286.2 137.9h0M273.0 138.3h0M325.9 144.3h0" stroke="#00009b" stroke-width="7.0"/><path d="M309.4 142.3h0" stroke="#0c2cff" stroke-width="7.0"/><path d="M283.8 139.3h0" stroke="#0c2cff" stroke-width="7.0"/><path d="M265.2 136.7h0M315.0 144.7h0M290.3 138.0h0" stroke="#0000c8" stroke-width="7.0"/><path d="M321.8 158.7h0" stroke="#0c2cff" stroke-width="7.0"/><path d="M326.6 161.2h0M323.6 149.3h0" stroke="#00009b" stroke-width="7.0"/><path d="M326.7 157.1h0M324.8 149.0h0" stroke="#00009b" stroke-width="7.0"/><path d="M319.8 156.8h0" stroke="#0c2cff" stroke-width="7.0"/><path d="M322.1 153.5h0" stroke="#0c2cff" stroke-width="7.0"/><path d="M324.3 156.0h0M325.2 152.6h0" stroke="#00009b" stroke-width="7.0"/><path d="M320.6 148.5h0" stroke="#00009b" stroke-width="7.0"/><path d="M324.5 146.3h0" stroke="#0c2cff" stroke-width="7.0"/><path d="M244.6 96.5h0" stroke="#00009b" stroke-width="7.0"/><path d="M250.5 103.6h0" stroke="#00009b" stroke-width="7.0"/><path d="M255.9 104.3h0" stroke="#2fe0f0" stroke-width="7.0"/><path d="M248.1 98.6h0" stroke="#1c8cff" stroke-width="7.0"/><path d="M338.8 100.8h0" stroke="#00009b" stroke-width="7.0"/><path d="M353.0 97.2h0" stroke="#00009b" stroke-width="7.0"/><path d="M369.3 112.1h0" stroke="#00009b" stroke-width="7.0"/><path d="M366.5 116.4h0" stroke="#00009b" stroke-width="7.0"/><path d="M359.4 122.0h0" stroke="#0c2cff" stroke-width="7.0"/><path d="M362.2 126.3h0" stroke="#1c8cff" stroke-width="7.0"/><path d="M351.6 114.9h0" stroke="#4ff0b0" stroke-width="7.0"/><path d="M350.2 119.9h0" stroke="#4ff0b0" stroke-width="7.0"/><path d="M221.2 158.9h0" stroke="#00009b" stroke-width="7.0"/><path d="M229.0 154.6h0" stroke="#00009b" stroke-width="7.0"/><path d="M225.4 157.2h0" stroke="#2fe0f0" stroke-width="7.0"/><path d="M245.3 166.7h0" stroke="#00009b" stroke-width="7.0"/><path d="M251.6 167.4h0" stroke="#00009b" stroke-width="7.0"/><path d="M263.0 174.8h0" stroke="#00009b" stroke-width="7.0"/><path d="M270.1 174.5h0" stroke="#00009b" stroke-width="7.0"/><path d="M258.7 136.2h0" stroke="#00009b" stroke-width="7.0"/><path d="M265.8 134.1h0" stroke="#00009b" stroke-width="7.0"/><path d="M222.6 178.7h0" stroke="#0c2cff" stroke-width="7.0"/><path d="M222.2 180.9h0" stroke="#8e0000" stroke-width="7.0"/><path d="M223.0 183.3h0" stroke="#ee1200" stroke-width="7.0"/><path d="M221.9 186.5h0" stroke="#84fc7c" stroke-width="7.0"/><path d="M230.4 181.6h0" stroke="#8e0000" stroke-width="7.0"/><path d="M233.9 180.9h0" stroke="#00009b" stroke-width="7.0"/><path d="M231.8 185.1h0" stroke="#00009b" stroke-width="7.0"/><path d="M227.5 176.6h0" stroke="#2fe0f0" stroke-width="7.0"/><path d="M277.2 157.5h0" stroke="#2fe0f0" stroke-width="7.0"/><path d="M280.0 158.2h0" stroke="#2fe0f0" stroke-width="7.0"/><path d="M288.5 158.9h0" stroke="#1c8cff" stroke-width="7.0"/><path d="M292.8 157.5h0" stroke="#0c2cff" stroke-width="7.0"/><path d="M284.3 161.0h0" stroke="#00009b" stroke-width="7.0"/><path d="M314.7 161.7h0" stroke="#00009b" stroke-width="7.0"/><path d="M272.9 178.7h0" stroke="#00009b" stroke-width="7.0"/><path d="M282.8 181.6h0" stroke="#00009b" stroke-width="7.0"/><path d="M275.7 252.6h0" stroke="#2fe0f0" stroke-width="7.0"/><path d="M282.8 251.6h0" stroke="#2fe0f0" stroke-width="7.0"/><path d="M288.5 250.7h0" stroke="#f2f01e" stroke-width="7.0"/><path d="M294.2 250.7h0" stroke="#2fe0f0" stroke-width="7.0"/><path d="M298.4 251.9h0" stroke="#1c8cff" stroke-width="7.0"/><path d="M274.0 260.4h0" stroke="#f2f01e" stroke-width="7.0"/><path d="M275.7 263.2h0" stroke="#2fe0f0" stroke-width="7.0"/><path d="M278.6 259.0h0" stroke="#2fe0f0" stroke-width="7.0"/><path d="M284.3 256.8h0" stroke="#1c8cff" stroke-width="7.0"/><path d="M282.1 263.9h0" stroke="#8e0000" stroke-width="7.0"/><path d="M290.6 262.9h0" stroke="#8e0000" stroke-width="7.0"/><path d="M297.7 264.6h0" stroke="#8e0000" stroke-width="7.0"/><path d="M305.5 262.5h0" stroke="#8e0000" stroke-width="7.0"/><path d="M309.8 259.0h0" stroke="#8e0000" stroke-width="7.0"/><path d="M308.4 254.0h0" stroke="#8e0000" stroke-width="7.0"/><path d="M301.3 254.7h0" stroke="#8e0000" stroke-width="7.0"/><path d="M294.2 257.6h0" stroke="#8e0000" stroke-width="7.0"/><path d="M287.8 258.3h0" stroke="#8e0000" stroke-width="7.0"/><path d="M289.2 282.8h0" stroke="#1c8cff" stroke-width="7.0"/><path d="M287.4 281.7h0" stroke="#1c8cff" stroke-width="7.0"/><path d="M301.6 283.1h0" stroke="#84fc7c" stroke-width="7.0"/><path d="M301.6 280.2h0" stroke="#ff7a00" stroke-width="7.0"/><path d="M277.2 299.4h0" stroke="#1c8cff" stroke-width="7.0"/><path d="M293.5 305.8h0" stroke="#00009b" stroke-width="7.0"/><path d="M211.9 221.4h0" stroke="#00009b" stroke-width="7.0"/><path d="M214.1 217.1h0" stroke="#00009b" stroke-width="7.0"/><path d="M216.9 214.7h0" stroke="#00009b" stroke-width="7.0"/><path d="M210.2 224.2h0" stroke="#00009b" stroke-width="7.0"/><path d="M236.8 234.9h0" stroke="#00009b" stroke-width="7.0"/><path d="M238.9 239.1h0" stroke="#00009b" stroke-width="7.0"/><path d="M242.4 239.8h0" stroke="#00009b" stroke-width="7.0"/><path d="M237.5 242.0h0" stroke="#00009b" stroke-width="7.0"/><path d="M263.0 210.8h0" stroke="#00009b" stroke-width="7.0"/><path d="M264.4 236.3h0" stroke="#00009b" stroke-width="7.0"/><path d="M268.0 230.6h0" stroke="#00009b" stroke-width="7.0"/><path d="M211.9 286.6h0" stroke="#00009b" stroke-width="7.0"/><path d="M202.7 298.0h0" stroke="#00009b" stroke-width="7.0"/><path d="M204.9 298.4h0" stroke="#00009b" stroke-width="7.0"/><path d="M220.4 287.3h0" stroke="#00009b" stroke-width="7.0"/><path d="M226.1 282.4h0" stroke="#00009b" stroke-width="7.0"/><path d="M229.0 284.5h0" stroke="#00009b" stroke-width="7.0"/><path d="M223.3 290.2h0" stroke="#00009b" stroke-width="7.0"/><path d="M277.4 275.4h0M261.9 278.1h0M277.2 270.1h0M263.6 267.0h0" stroke="#1c8cff" stroke-width="7.0"/><path d="M259.5 276.1h0M252.0 270.5h0M262.3 273.5h0M259.4 277.1h0M269.8 262.8h0M278.2 278.6h0M273.7 268.5h0M274.3 290.1h0M259.5 269.3h0M262.2 282.3h0" stroke="#0c2cff" stroke-width="7.0"/><path d="M263.8 289.5h0M267.8 289.2h0" stroke="#f2f01e" stroke-width="7.0"/><path d="M254.3 264.2h0M262.7 282.8h0M261.1 264.8h0M263.4 295.0h0" stroke="#2fe0f0" stroke-width="7.0"/><path d="M262.8 263.9h0M259.1 265.2h0M276.3 272.6h0M267.1 266.6h0M253.1 265.4h0" stroke="#00009b" stroke-width="7.0"/><path d="M271.6 268.0h0M270.2 289.8h0" stroke="#0000c8" stroke-width="7.0"/><path d="M270.0 263.5h0" stroke="#0c2cff" stroke-width="7.0"/><path d="M252.3 269.1h0M268.0 290.6h0M277.5 271.3h0" stroke="#0000c8" stroke-width="7.0"/><path d="M276.2 266.2h0M272.4 282.2h0M262.4 286.5h0M269.6 276.2h0M272.9 271.2h0M254.7 273.2h0M273.5 265.6h0M273.0 274.6h0M270.3 273.7h0M276.1 284.3h0" stroke="#2fe0f0" stroke-width="7.0"/><path d="M265.2 278.6h0M268.5 279.9h0M273.4 275.8h0" stroke="#f2f01e" stroke-width="7.0"/><path d="M264.4 295.4h0M264.0 274.6h0M258.3 272.7h0M258.6 271.1h0M253.8 277.6h0M270.5 281.1h0M274.7 279.0h0M262.7 262.4h0" stroke="#1c8cff" stroke-width="7.0"/><path d="M260.7 267.9h0M273.9 284.9h0" stroke="#00009b" stroke-width="7.0"/><path d="M269.2 272.3h0M262.6 296.6h0M258.5 282.2h0M263.4 261.6h0M274.8 285.1h0" stroke="#0000c8" stroke-width="7.0"/><path d="M264.1 282.6h0M254.8 269.9h0M261.1 291.8h0M259.1 284.0h0M274.9 274.5h0M266.4 264.3h0M264.5 269.7h0" stroke="#2fe0f0" stroke-width="7.0"/><path d="M277.6 285.2h0M268.2 261.0h0M266.9 286.7h0M255.2 271.9h0M262.2 260.8h0M256.0 279.3h0M273.4 263.2h0" stroke="#1c8cff" stroke-width="7.0"/><path d="M259.8 261.9h0" stroke="#f2f01e" stroke-width="7.0"/><path d="M276.9 281.3h0M269.9 291.2h0M267.9 280.7h0M270.0 269.9h0" stroke="#0c2cff" stroke-width="7.0"/><path d="M250.1 271.8h0M270.6 265.5h0M264.8 274.4h0" stroke="#00009b" stroke-width="7.0"/><path d="M255.5 261.9h0M267.9 275.9h0M270.3 258.7h0M269.4 292.7h0M255.8 276.1h0M264.1 291.1h0" stroke="#0c2cff" stroke-width="7.0"/><path d="M263.8 280.1h0M269.6 259.8h0M256.3 281.5h0M250.5 277.2h0" stroke="#2fe0f0" stroke-width="7.0"/><path d="M260.0 288.0h0M257.7 269.4h0" stroke="#00009b" stroke-width="7.0"/><path d="M272.2 277.0h0M271.7 282.9h0M265.6 269.3h0M259.6 285.8h0M276.1 285.7h0M268.3 284.5h0M266.0 267.2h0M265.2 289.7h0M265.4 261.5h0" stroke="#1c8cff" stroke-width="7.0"/><path d="M258.7 274.4h0" stroke="#0000c8" stroke-width="7.0"/><path d="M268.9 287.1h0" stroke="#f2f01e" stroke-width="7.0"/><path d="M249.5 268.7h0M250.7 264.6h0M259.8 256.8h0M255.8 267.7h0" stroke="#00009b" stroke-width="7.0"/><path d="M251.7 270.2h0" stroke="#0c2cff" stroke-width="7.0"/><path d="M247.1 270.7h0M254.5 267.9h0" stroke="#0000c8" stroke-width="7.0"/><path d="M252.0 272.8h0" stroke="#0000c8" stroke-width="7.0"/><path d="M262.7 256.1h0M250.1 263.9h0M251.1 261.6h0M259.5 267.4h0M257.8 259.1h0" stroke="#00009b" stroke-width="7.0"/><path d="M256.4 266.9h0" stroke="#0c2cff" stroke-width="7.0"/><path d="M248.8 270.6h0M248.7 261.5h0" stroke="#0000c8" stroke-width="7.0"/><path d="M254.4 259.4h0M250.9 264.6h0M252.5 273.9h0M255.9 263.7h0M246.6 273.1h0" stroke="#00009b" stroke-width="7.0"/><path d="M249.1 268.7h0M260.8 261.9h0M253.0 261.7h0" stroke="#0c2cff" stroke-width="7.0"/><path d="M259.5 300.5h0" stroke="#0000c8" stroke-width="7.0"/><path d="M240.4 295.8h0M251.8 289.1h0M238.7 307.0h0M232.4 294.4h0M244.9 287.5h0M255.6 295.4h0M237.9 281.9h0M261.0 297.4h0M243.3 305.0h0M258.3 295.6h0M242.4 296.4h0M255.7 308.2h0M253.0 290.3h0M254.3 306.5h0M252.5 306.7h0M249.2 284.0h0M249.9 285.6h0M260.8 293.7h0M233.3 296.1h0M235.1 307.8h0M255.0 310.0h0M253.4 295.4h0M234.7 288.0h0" stroke="#00009b" stroke-width="7.0"/><path d="M250.2 290.4h0M248.2 299.5h0M245.5 287.0h0M253.5 302.8h0M239.9 287.1h0M239.7 303.9h0M245.2 292.7h0M236.3 302.0h0M249.4 301.0h0M253.7 281.4h0M244.7 281.4h0M241.6 284.2h0M249.6 297.6h0M247.3 306.7h0M243.2 301.4h0M252.8 299.0h0M247.4 297.1h0M234.4 294.4h0M254.8 292.4h0" stroke="#00009b" stroke-width="7.0"/><path d="M250.6 301.1h0M241.2 285.5h0M234.7 285.7h0M260.6 301.1h0M249.6 284.5h0" stroke="#0000c8" stroke-width="7.0"/><path d="M255.1 301.3h0M255.4 289.0h0M251.5 295.1h0M254.6 287.4h0M257.4 282.6h0M242.1 285.7h0M238.7 295.0h0M246.0 301.9h0M247.9 279.5h0M245.6 292.1h0M258.8 301.0h0M241.8 307.2h0" stroke="#00009b" stroke-width="7.0"/><path d="M238.5 291.1h0M246.7 294.5h0M238.6 301.8h0M234.9 304.1h0M238.6 298.5h0M233.6 300.9h0M242.8 291.3h0M247.4 311.1h0M257.3 297.1h0M245.8 299.1h0M235.5 285.4h0M258.9 288.0h0" stroke="#0000c8" stroke-width="7.0"/><path d="M236.3 290.2h0M253.3 281.2h0M232.8 301.4h0M250.9 309.3h0M249.3 309.5h0M257.6 297.8h0M242.9 301.1h0M246.4 287.7h0M252.9 307.2h0M235.8 295.9h0M244.9 309.2h0M258.6 285.7h0M240.9 292.5h0M238.0 288.2h0M243.4 281.5h0M240.8 305.7h0M245.4 310.0h0M257.6 304.7h0M253.4 285.3h0" stroke="#00009b" stroke-width="7.0"/><path d="M243.3 284.2h0M260.4 303.9h0M260.6 292.6h0M234.4 292.6h0" stroke="#0000c8" stroke-width="7.0"/></g>
<g clip-path="url(#boxclip)"><use href="#states"/></g>
<text class="t tk" x="240.5" y="76.6" text-anchor="end">100</text>
<text class="t dg" x="245.9" y="69.8" text-anchor="middle">°</text>
<text class="t tk" x="252.4" y="76.6">W</text>
<text class="t tk" x="300.7" y="76.6" text-anchor="end">90</text>
<text class="t dg" x="306.1" y="69.8" text-anchor="middle">°</text>
<text class="t tk" x="313.5" y="76.6">W</text>
<text class="t tk" x="365.3" y="76.6" text-anchor="end">80</text>
<text class="t dg" x="370.7" y="69.8" text-anchor="middle">°</text>
<text class="t tk" x="377.4" y="76.6">W</text>
<text class="t tk" x="427.7" y="76.6" text-anchor="end">70</text>
<text class="t dg" x="433.1" y="69.8" text-anchor="middle">°</text>
<text class="t tk" x="440.7" y="76.6">W</text>
<text class="t tk" x="163.7" y="112.3" text-anchor="end">48</text>
<text class="t dg" x="167.9" y="104.0" text-anchor="middle">°</text>
<text class="t tk" x="175.0" y="112.3">N</text>
<text class="t tk" x="163.7" y="131.5" text-anchor="end">46</text>
<text class="t dg" x="167.9" y="123.2" text-anchor="middle">°</text>
<text class="t tk" x="175.0" y="131.5">N</text>
<text class="t tk" x="163.7" y="148.6" text-anchor="end">44</text>
<text class="t dg" x="167.9" y="140.3" text-anchor="middle">°</text>
<text class="t tk" x="175.0" y="148.6">N</text>
<text class="t tk" x="163.7" y="166.5" text-anchor="end">42</text>
<text class="t dg" x="167.9" y="158.2" text-anchor="middle">°</text>
<text class="t tk" x="175.0" y="166.5">N</text>
<text class="t tk" x="163.7" y="183.5" text-anchor="end">40</text>
<text class="t dg" x="167.9" y="175.2" text-anchor="middle">°</text>
<text class="t tk" x="175.0" y="183.5">N</text>
<text class="t tk" x="163.7" y="198.7" text-anchor="end">38</text>
<text class="t dg" x="167.9" y="190.4" text-anchor="middle">°</text>
<text class="t tk" x="175.0" y="198.7">N</text>
<text class="t tk" x="163.7" y="215.1" text-anchor="end">36</text>
<text class="t dg" x="167.9" y="206.8" text-anchor="middle">°</text>
<text class="t tk" x="175.0" y="215.1">N</text>
<text class="t tk" x="163.7" y="229.8" text-anchor="end">34</text>
<text class="t dg" x="167.9" y="221.5" text-anchor="middle">°</text>
<text class="t tk" x="175.0" y="229.8">N</text>
<text class="t tk" x="163.7" y="245.2" text-anchor="end">32</text>
<text class="t dg" x="167.9" y="236.9" text-anchor="middle">°</text>
<text class="t tk" x="175.0" y="245.2">N</text>
<text class="t tk" x="163.7" y="260.2" text-anchor="end">30</text>
<text class="t dg" x="167.9" y="251.9" text-anchor="middle">°</text>
<text class="t tk" x="175.0" y="260.2">N</text>
<text class="t tk" x="163.7" y="272.7" text-anchor="end">28</text>
<text class="t dg" x="167.9" y="264.4" text-anchor="middle">°</text>
<text class="t tk" x="175.0" y="272.7">N</text>
<text class="t tk" x="163.7" y="287.3" text-anchor="end">26</text>
<text class="t dg" x="167.9" y="279.0" text-anchor="middle">°</text>
<text class="t tk" x="175.0" y="287.3">N</text>
<text class="t tk" x="163.7" y="301.9" text-anchor="end">24</text>
<text class="t dg" x="167.9" y="293.6" text-anchor="middle">°</text>
<text class="t tk" x="175.0" y="301.9">N</text>
<text class="t tk" x="163.7" y="314.1" text-anchor="end">22</text>
<text class="t dg" x="167.9" y="305.8" text-anchor="middle">°</text>
<text class="t tk" x="175.0" y="314.1">N</text>
<rect x="441.6" y="95.8" width="22.9" height="214.3" fill="url(#jet)" stroke="#262626" stroke-width="1"/>
<text class="t cb" x="472.8" y="102.9">2</text>
<path d="M462.4 95.7h2" stroke="#262626" stroke-width="1"/>
<text class="t cb" x="472.8" y="156.8">1</text>
<path d="M462.4 149.6h2" stroke="#262626" stroke-width="1"/>
<text class="t cb" x="472.8" y="209.8">0</text>
<path d="M462.4 202.6h2" stroke="#262626" stroke-width="1"/>
<text class="t cb" x="472.8" y="264.2">-1</text>
<path d="M462.4 257.0h2" stroke="#262626" stroke-width="1"/>
<text class="t cb" x="472.8" y="317.3">-2</text>
<path d="M462.4 310.1h2" stroke="#262626" stroke-width="1"/>
<text class="t pt" x="308.0" y="340.7" text-anchor="middle" style="font-size:23.6px">SAT-RAP 850 hPa Temp (K)</text>
</g>
<g transform="translate(421.0 389.7)">
<rect x="196.0" y="96.4" width="233.4" height="212.8" fill="none" stroke="#262626" stroke-width="1"/>
<g fill="none" stroke-linecap="round"><path d="M272.4 191.2h0M314.6 156.9h0M304.4 178.0h0" stroke="#2fe0f0" stroke-width="7.0"/><path d="M304.4 191.8h0M332.7 164.2h0M302.6 184.2h0M344.6 164.7h0M318.5 158.6h0M328.1 166.6h0M336.0 175.5h0M331.6 197.7h0M331.0 169.4h0M322.0 203.6h0M339.4 178.1h0M319.7 189.7h0M325.4 164.3h0M323.3 197.0h0M316.9 162.2h0M345.6 163.1h0M274.6 185.6h0" stroke="#1c8cff" stroke-width="7.0"/><path d="M300.9 192.3h0M337.0 168.7h0M318.3 203.3h0M326.5 192.9h0M293.7 170.3h0M313.2 176.6h0M328.6 193.0h0M298.4 168.1h0M321.3 174.5h0M300.5 165.8h0M281.1 176.8h0M317.1 185.8h0M340.0 163.4h0M335.5 190.3h0M273.5 175.4h0M285.2 203.0h0M334.4 194.0h0M298.0 163.6h0" stroke="#00009b" stroke-width="7.0"/><path d="M338.3 170.6h0M296.9 193.2h0M272.9 173.5h0M278.0 203.6h0M299.8 200.5h0M316.8 200.1h0M277.2 199.5h0M339.7 181.9h0M339.4 166.5h0M315.4 169.4h0M328.7 174.0h0M294.5 198.0h0M328.1 170.6h0M271.0 190.0h0M330.9 168.9h0M299.2 173.0h0M297.4 184.6h0M270.8 186.7h0M296.8 181.9h0M298.0 196.9h0M309.0 195.2h0M307.2 202.9h0M316.5 177.4h0M339.0 166.4h0M313.2 176.9h0M311.0 164.1h0M271.2 174.3h0M317.4 189.2h0M309.0 187.8h0M301.6 175.1h0M288.5 189.9h0M321.3 181.9h0M332.7 176.6h0M308.5 156.8h0M322.2 190.6h0M291.8 194.8h0M320.6 178.3h0" stroke="#0c2cff" stroke-width="7.0"/><path d="M309.0 193.4h0M299.7 203.7h0M306.2 179.0h0M279.2 194.1h0M307.7 176.6h0M337.3 186.7h0M290.6 179.3h0M301.7 155.6h0M310.0 192.8h0M332.3 179.4h0M287.3 180.4h0M308.4 199.5h0M341.1 174.0h0M291.2 193.0h0M287.2 202.6h0M314.5 180.8h0M300.0 170.7h0M317.5 182.2h0M306.1 197.0h0M299.4 157.7h0M287.4 183.8h0M303.0 195.0h0M284.9 190.7h0" stroke="#0000c8" stroke-width="7.0"/><path d="M339.7 174.8h0M317.8 197.6h0M283.5 192.6h0M328.2 201.8h0M282.9 176.6h0M303.7 160.3h0M334.0 169.1h0M299.9 178.7h0" stroke="#2fe0f0" stroke-width="7.0"/><path d="M323.2 172.4h0M322.6 160.4h0M310.2 163.9h0M342.1 166.0h0M295.1 189.2h0M280.8 181.5h0M311.2 166.7h0M337.5 182.7h0M299.7 188.9h0M278.2 183.0h0M317.5 181.4h0M304.8 166.4h0M321.2 199.3h0M295.4 197.2h0M315.1 173.0h0M283.1 184.5h0M292.5 184.1h0M330.2 197.7h0M277.9 189.7h0M305.5 202.7h0M300.7 163.7h0M282.2 191.0h0M269.8 173.0h0M301.0 198.3h0" stroke="#1c8cff" stroke-width="7.0"/><path d="M287.6 186.1h0M287.1 198.5h0M330.5 202.1h0M335.7 173.5h0M313.7 191.6h0M335.0 180.1h0M272.6 194.9h0M329.8 182.4h0M301.6 156.9h0M284.3 185.0h0M303.3 197.7h0M271.8 179.2h0M322.0 166.1h0M344.4 168.8h0M310.2 180.9h0" stroke="#0000c8" stroke-width="7.0"/><path d="M313.8 164.3h0M344.8 163.2h0M309.7 189.6h0M333.3 184.6h0M333.7 162.1h0M301.8 172.9h0M295.3 172.6h0M300.5 186.2h0M309.9 189.8h0M327.8 185.4h0M309.8 199.9h0M318.5 176.0h0M277.4 190.3h0M290.2 202.1h0M282.1 179.7h0M311.0 178.5h0M268.6 198.8h0M325.8 171.5h0M325.1 199.2h0M268.4 197.5h0M276.5 195.6h0" stroke="#00009b" stroke-width="7.0"/><path d="M295.7 202.6h0M275.3 181.9h0M288.5 173.9h0M291.4 191.9h0M331.7 186.5h0M313.2 161.9h0M275.3 204.0h0M331.2 181.5h0M312.6 183.3h0M280.1 172.9h0M334.2 168.3h0M292.2 194.6h0M305.2 163.8h0M287.9 178.1h0M317.4 166.1h0M302.9 168.5h0M293.8 185.8h0M275.2 197.6h0M328.5 180.5h0M340.9 163.4h0M326.4 161.6h0M342.8 173.1h0M333.1 195.5h0M309.4 176.2h0M313.3 167.2h0M274.6 172.8h0M280.9 187.2h0M286.7 174.0h0M319.7 156.4h0M329.3 195.3h0" stroke="#0c2cff" stroke-width="7.0"/><path d="M271.6 204.9h0M274.5 183.2h0M291.3 176.8h0M323.4 193.9h0" stroke="#2fe0f0" stroke-width="7.0"/><path d="M278.6 191.1h0M276.2 174.6h0M308.2 158.3h0M284.4 174.5h0M315.7 194.3h0M314.5 160.3h0M330.0 191.1h0M308.6 171.9h0M321.0 196.8h0M326.7 167.4h0M280.7 194.7h0M323.8 158.2h0M312.4 161.1h0M331.7 203.2h0M312.0 185.9h0M312.8 192.1h0M294.8 181.8h0M292.9 189.0h0M269.8 176.7h0M296.6 180.5h0" stroke="#0000c8" stroke-width="7.0"/><path d="M330.2 175.7h0M269.7 192.7h0M323.0 168.9h0M278.3 200.1h0M314.9 204.5h0M317.9 171.6h0M324.8 203.1h0M281.5 195.8h0M313.7 182.0h0M322.5 179.2h0M299.2 158.5h0M282.8 186.9h0M311.2 170.1h0M281.9 203.3h0M284.7 197.2h0M314.9 202.7h0M306.6 183.7h0M279.1 175.0h0" stroke="#00009b" stroke-width="7.0"/><path d="M323.4 185.8h0M323.3 200.2h0M304.5 187.0h0M325.2 171.4h0M313.6 186.9h0M294.6 204.4h0M335.5 187.9h0M320.9 185.0h0M327.1 192.3h0M324.7 180.6h0M327.6 164.4h0M304.6 201.5h0M305.8 173.8h0M278.7 176.8h0M296.9 168.9h0M274.2 193.6h0" stroke="#1c8cff" stroke-width="7.0"/><path d="M330.9 164.3h0M279.7 198.8h0M343.3 166.8h0M286.1 201.9h0M322.7 202.8h0M332.7 193.0h0M280.7 183.7h0M300.3 199.2h0M328.4 202.7h0M306.0 201.0h0M318.1 155.7h0M326.6 195.6h0M298.1 200.4h0M270.6 195.2h0M299.0 195.3h0M324.5 191.4h0M311.3 196.5h0M302.8 186.9h0M321.0 174.1h0M306.3 198.4h0M296.9 189.5h0M275.4 188.4h0M321.4 183.8h0M323.6 174.6h0M314.4 195.5h0M304.9 174.6h0M324.5 188.8h0M270.0 201.0h0M334.7 174.6h0M302.0 188.8h0M326.3 184.5h0M341.4 176.7h0M324.5 176.7h0M331.8 202.6h0M278.3 173.7h0M288.6 175.9h0M295.6 190.5h0M296.9 186.6h0M311.7 182.9h0M271.7 187.3h0" stroke="#0c2cff" stroke-width="7.0"/><path d="M288.3 196.9h0M303.4 155.7h0M306.2 187.2h0M306.0 195.1h0M310.1 157.7h0" stroke="#2fe0f0" stroke-width="7.0"/><path d="M313.0 197.4h0M332.6 185.0h0M287.7 192.8h0M284.7 178.1h0M267.8 204.9h0M309.5 173.5h0M321.8 157.8h0M292.5 179.9h0M292.3 185.4h0M339.0 177.7h0M337.8 163.8h0M332.2 190.3h0M295.2 174.6h0" stroke="#1c8cff" stroke-width="7.0"/><path d="M312.2 162.9h0M279.1 195.2h0M276.3 178.1h0M302.4 179.2h0M305.3 190.2h0M290.7 188.4h0M319.3 171.5h0M298.5 159.9h0M322.0 199.6h0M336.2 177.2h0M286.6 189.4h0M308.4 168.6h0M294.5 177.5h0M300.6 181.9h0M274.0 197.3h0M306.1 161.3h0M335.2 183.7h0M320.9 184.0h0M338.2 179.4h0M322.1 187.2h0M310.0 198.4h0M284.5 180.5h0M275.9 201.2h0M306.8 167.5h0M295.9 176.6h0M290.5 170.7h0M273.3 202.1h0M330.4 188.2h0M327.5 173.3h0M336.8 172.2h0" stroke="#0c2cff" stroke-width="7.0"/><path d="M315.2 186.9h0M328.3 177.0h0M302.6 176.6h0M320.4 189.6h0M284.6 181.9h0M288.4 183.5h0M306.5 170.9h0M320.3 204.3h0M310.9 204.3h0M319.6 163.3h0M271.4 180.9h0M292.9 176.8h0M279.7 186.5h0M273.2 197.8h0M283.1 200.4h0M317.5 166.0h0M336.6 163.0h0M329.5 189.3h0M343.6 171.2h0M272.4 180.9h0M314.1 174.7h0M293.5 205.0h0M305.6 184.4h0M312.9 201.4h0M322.9 162.9h0M300.2 193.5h0M267.5 176.2h0" stroke="#00009b" stroke-width="7.0"/><path d="M321.3 194.1h0M293.1 171.2h0M319.8 168.4h0M303.1 170.3h0M270.4 182.5h0M301.1 179.0h0M330.7 172.5h0M308.7 162.9h0M310.0 184.6h0M282.3 197.7h0M276.0 186.4h0M322.5 171.2h0M306.6 161.1h0M315.2 190.0h0M292.7 200.1h0M290.3 198.0h0M302.3 164.9h0M303.0 204.9h0M316.4 198.8h0" stroke="#0000c8" stroke-width="7.0"/><path d="M287.1 185.8L297.0 187.3L298.4 193.6L289.9 192.9L286.4 189.4 Z" fill="#fff"/><path d="M266.5 198.0L335.3 198.0L315.5 250.5L295.6 251.9L270.1 254.7L270.1 244.8L266.5 236.3L271.5 219.3L264.4 209.3 Z" fill="#0c2cff"/><path d="M326.3 206.6h0M294.2 237.9h0M313.7 244.9h0M278.6 249.3h0M316.4 212.7h0M297.2 247.0h0M278.6 201.7h0M276.7 227.7h0M269.1 234.2h0M315.8 235.4h0M283.5 199.5h0M305.6 237.7h0M290.3 232.6h0M289.4 199.7h0M299.9 243.0h0M270.5 225.6h0M301.3 200.4h0M291.8 235.1h0M318.2 230.8h0M276.0 252.0h0M316.3 212.0h0" stroke="#0000c8" stroke-width="7.0"/><path d="M302.9 221.2h0M325.3 202.9h0M267.3 211.9h0M302.2 242.1h0M270.5 201.7h0M294.7 240.3h0M292.3 245.0h0M273.1 221.2h0M312.6 231.0h0M318.2 235.0h0M280.4 241.3h0M278.3 235.3h0M308.9 215.3h0M279.2 244.6h0M286.1 230.2h0M318.6 221.4h0M298.0 199.3h0M286.3 238.8h0M293.6 232.9h0M267.0 204.9h0" stroke="#1c8cff" stroke-width="7.0"/><path d="M282.0 211.7h0M304.7 234.9h0M299.6 225.3h0M324.4 206.9h0M271.1 239.5h0M325.0 212.5h0M310.8 216.2h0M293.0 239.8h0M272.0 237.9h0M281.6 233.9h0M291.4 224.0h0M305.8 223.4h0M275.2 209.9h0M322.8 224.4h0M324.5 202.2h0M312.1 207.8h0M293.2 213.1h0M317.8 212.0h0M326.0 200.3h0M295.2 207.0h0M292.8 199.7h0M281.5 232.8h0M321.5 199.5h0M267.0 206.4h0" stroke="#0c2cff" stroke-width="7.0"/><path d="M273.8 203.5h0M288.9 211.6h0M286.0 233.1h0M287.0 209.2h0M282.9 216.9h0" stroke="#00009b" stroke-width="7.0"/><path d="M285.0 243.6h0M308.8 245.9h0M306.7 225.8h0M301.8 214.4h0M283.0 212.1h0M303.7 240.5h0" stroke="#00009b" stroke-width="7.0"/><path d="M323.7 228.4h0M314.2 205.7h0M310.5 218.5h0M303.3 233.9h0M289.1 213.5h0M311.5 210.5h0M283.7 226.6h0M311.8 219.4h0M269.5 214.5h0M300.9 249.3h0M312.8 199.4h0M273.3 218.2h0M282.0 203.3h0M309.2 208.8h0M272.2 200.8h0M290.5 206.6h0M295.9 229.7h0M285.2 239.3h0M272.1 244.4h0M307.5 234.5h0M330.2 201.3h0M277.5 237.4h0M307.9 249.8h0M328.6 203.5h0" stroke="#0c2cff" stroke-width="7.0"/><path d="M291.1 250.6h0M305.6 208.8h0M278.2 222.5h0M296.8 233.2h0M308.1 225.9h0M289.2 236.2h0M270.8 243.3h0M272.5 243.2h0M281.2 212.8h0M271.4 222.0h0M315.3 224.7h0M276.6 221.1h0M318.1 243.3h0M269.3 236.6h0M272.9 232.4h0M302.1 215.2h0M304.8 217.6h0M276.8 227.6h0M275.0 207.0h0M307.9 239.2h0M301.4 230.1h0M284.9 250.6h0M273.9 221.9h0M301.9 211.3h0M272.9 246.9h0M294.6 221.4h0M309.0 200.8h0M309.9 199.7h0" stroke="#1c8cff" stroke-width="7.0"/><path d="M295.5 243.9h0M278.0 207.6h0M282.0 199.4h0M280.2 250.8h0M288.8 241.0h0M313.0 247.9h0M316.8 218.6h0M313.7 225.9h0M273.2 249.9h0M274.4 215.7h0M277.2 203.4h0M308.0 241.0h0" stroke="#0000c8" stroke-width="7.0"/><path d="M285.3 248.2h0M308.5 211.9h0M281.4 198.7h0M286.5 221.7h0M272.0 203.1h0M309.6 223.5h0M318.5 216.6h0M310.3 233.9h0M283.9 219.8h0M285.0 241.4h0M274.1 247.4h0M313.7 199.3h0M272.0 209.1h0M271.5 237.0h0M315.8 248.7h0M294.0 246.4h0M292.4 218.2h0M305.5 202.9h0M270.3 199.2h0M304.4 211.0h0M277.0 243.2h0M295.1 201.6h0M285.4 207.5h0M319.5 225.8h0M288.7 252.1h0M280.0 218.7h0M304.4 215.1h0M303.9 227.6h0M314.3 212.4h0M296.3 215.4h0" stroke="#0c2cff" stroke-width="7.0"/><path d="M307.9 203.5h0M309.7 237.1h0M277.4 216.4h0M290.7 218.1h0M314.0 240.3h0M292.2 221.2h0M302.6 208.0h0M321.2 216.1h0M301.3 250.0h0M295.9 202.8h0M305.1 220.7h0M327.7 216.1h0M270.8 208.0h0M285.5 205.3h0M326.7 211.4h0M298.7 206.7h0M317.2 224.8h0M280.1 208.3h0M286.7 235.1h0M325.8 217.1h0M292.3 211.1h0M310.1 241.9h0" stroke="#1c8cff" stroke-width="7.0"/><path d="M291.4 205.4h0M277.0 232.5h0M288.3 219.5h0" stroke="#00009b" stroke-width="7.0"/><path d="M301.8 198.2h0M281.2 238.4h0M277.0 228.2h0M288.9 233.4h0M297.2 238.5h0M283.9 247.1h0M304.3 232.1h0M306.9 198.9h0M287.7 218.1h0M291.8 229.0h0M268.8 229.4h0M287.5 246.2h0M302.8 246.4h0M315.2 218.5h0M290.2 225.5h0" stroke="#0000c8" stroke-width="7.0"/><path d="M321.7 211.2h0M314.3 233.3h0M320.0 230.8h0M321.0 207.7h0M295.5 251.0h0M314.6 240.9h0M308.6 230.7h0M284.2 243.1h0M277.6 253.3h0M305.4 199.7h0M298.8 236.1h0M292.1 199.3h0M299.2 214.5h0M296.4 234.9h0M311.8 202.8h0M273.7 211.9h0M316.1 239.4h0M295.0 212.6h0M320.2 203.8h0M271.2 229.0h0M329.3 207.6h0M332.2 199.2h0M324.7 218.6h0M316.5 230.8h0M266.1 210.6h0M321.0 212.4h0M279.3 226.3h0" stroke="#0c2cff" stroke-width="7.0"/><path d="M300.2 221.4h0M325.4 198.7h0M299.3 202.8h0M315.2 222.2h0M302.9 198.3h0" stroke="#00009b" stroke-width="7.0"/><path d="M267.6 238.5h0M320.0 205.3h0M288.7 247.6h0M297.9 222.6h0M324.1 224.5h0M300.8 225.2h0M317.6 202.4h0M310.3 213.1h0M276.5 234.6h0M279.9 211.2h0M299.7 220.2h0M305.0 251.1h0M305.2 222.8h0M318.2 208.6h0M294.4 227.6h0M274.6 226.2h0M290.0 230.2h0M274.6 243.4h0M282.6 222.4h0M296.1 211.5h0M277.9 215.0h0M282.5 227.8h0M289.1 208.9h0M291.1 223.2h0M328.3 213.6h0M304.5 245.2h0M299.8 245.8h0" stroke="#1c8cff" stroke-width="7.0"/><path d="M302.8 244.0h0M273.2 253.7h0M297.5 241.4h0M316.9 241.9h0M309.4 247.7h0M317.4 230.9h0M291.1 205.4h0M280.4 199.6h0M275.1 199.0h0M287.9 226.2h0" stroke="#0000c8" stroke-width="7.0"/><path d="M275.9 230.2h0M274.6 198.6h0M267.2 214.0h0M275.8 201.0h0M268.3 242.2h0M273.6 239.9h0M272.8 244.7h0" stroke="#0000c8" stroke-width="7.0"/><path d="M268.0 245.9h0M265.3 209.7h0M273.7 209.1h0M266.6 238.2h0M277.1 231.6h0M273.2 250.4h0M277.0 235.8h0M271.4 243.3h0M268.1 240.9h0M263.4 212.3h0M272.4 230.4h0M271.4 240.1h0M273.3 233.0h0" stroke="#00009b" stroke-width="7.0"/><path d="M271.7 217.1h0M275.8 210.2h0" stroke="#0000c8" stroke-width="7.0"/><path d="M273.5 206.8h0" stroke="#0c2cff" stroke-width="7.0"/><path d="M271.3 226.8h0M271.8 213.0h0M268.2 201.7h0M275.1 226.9h0M274.6 243.7h0M275.4 212.2h0M273.5 218.8h0M268.9 213.2h0M266.8 203.8h0M274.9 252.6h0M264.6 230.1h0M275.0 220.5h0M265.8 240.7h0M272.0 204.9h0M270.6 249.3h0M272.7 252.6h0M268.3 235.2h0" stroke="#00009b" stroke-width="7.0"/><path d="M269.8 221.8h0M275.6 216.0h0M271.7 249.7h0M266.6 206.6h0" stroke="#0000c8" stroke-width="7.0"/><path d="M268.3 209.1h0M275.9 249.0h0" stroke="#0c2cff" stroke-width="7.0"/><path d="M269.4 217.0h0M276.5 246.1h0M271.0 252.7h0M265.8 227.2h0M263.0 204.2h0M270.0 222.6h0M275.1 223.7h0M267.0 232.4h0M272.8 202.2h0M269.4 227.4h0M263.9 207.9h0M274.3 219.5h0M270.4 251.0h0M274.1 243.9h0" stroke="#00009b" stroke-width="7.0"/><path d="M265.6 234.3h0M272.3 229.0h0M273.2 224.5h0M267.0 224.3h0M274.5 203.2h0M262.9 235.3h0M273.6 214.8h0M270.0 232.4h0M269.0 204.2h0M276.2 224.2h0M264.3 206.3h0M270.8 236.0h0" stroke="#00009b" stroke-width="7.0"/><path d="M272.5 237.8h0M277.4 251.5h0" stroke="#0c2cff" stroke-width="7.0"/><path d="M267.9 213.4h0M263.2 206.5h0M262.3 212.2h0M270.9 233.3h0" stroke="#0000c8" stroke-width="7.0"/><path d="M323.2 209.5h0M313.0 244.8h0M327.3 209.8h0M330.3 202.3h0M330.3 204.4h0M326.6 204.6h0M326.8 213.2h0M330.3 198.7h0" stroke="#1c8cff" stroke-width="7.0"/><path d="M327.9 200.3h0M322.0 212.2h0M328.2 213.2h0M316.3 233.6h0" stroke="#2fe0f0" stroke-width="7.0"/><path d="M316.2 244.1h0M323.8 213.2h0M333.3 199.5h0M326.5 198.2h0" stroke="#2fe0f0" stroke-width="7.0"/><path d="M317.0 244.0h0M321.7 209.9h0M321.0 220.8h0M321.3 213.9h0M317.5 237.6h0M326.2 202.2h0M331.8 206.5h0M325.0 212.0h0" stroke="#1c8cff" stroke-width="7.0"/><path d="M326.1 207.5h0M323.1 222.9h0M326.6 218.5h0M321.8 229.6h0M320.5 231.1h0M318.1 241.1h0M325.2 220.6h0M318.4 229.3h0M316.5 229.4h0" stroke="#1c8cff" stroke-width="7.0"/><path d="M319.4 219.7h0M319.8 222.9h0M316.4 238.4h0" stroke="#2fe0f0" stroke-width="7.0"/><path d="M319.5 240.4h0M324.3 226.9h0M328.2 206.6h0M319.1 230.9h0M320.3 235.6h0M321.8 217.3h0M318.2 223.8h0M321.5 224.2h0" stroke="#1c8cff" stroke-width="7.0"/><path d="M315.0 237.4h0" stroke="#2fe0f0" stroke-width="7.0"/><path d="M224.0 135.8h0M226.3 144.6h0M237.2 136.2h0" stroke="#00009b" stroke-width="7.0"/><path d="M229.9 127.8h0M229.9 130.9h0M242.2 133.0h0M235.8 133.1h0" stroke="#0c2cff" stroke-width="7.0"/><path d="M230.8 131.8h0M245.1 131.3h0M239.6 132.3h0M225.4 129.2h0M238.6 137.5h0M227.5 136.2h0M230.6 129.0h0M236.2 140.6h0" stroke="#1c8cff" stroke-width="7.0"/><path d="M217.6 134.4h0M224.5 140.1h0M241.3 130.4h0" stroke="#2fe0f0" stroke-width="7.0"/><path d="M227.9 136.9h0" stroke="#00009b" stroke-width="7.0"/><path d="M220.7 141.3h0M222.3 142.7h0M232.1 134.9h0M231.3 136.4h0M235.9 135.7h0M232.9 144.1h0M218.3 146.8h0M224.1 146.0h0M233.8 136.4h0" stroke="#1c8cff" stroke-width="7.0"/><path d="M216.0 146.6h0" stroke="#2fe0f0" stroke-width="7.0"/><path d="M236.5 139.6h0M218.8 133.6h0M218.0 142.3h0M225.0 136.9h0M233.2 143.9h0M225.5 133.0h0M250.4 131.6h0" stroke="#0c2cff" stroke-width="7.0"/><path d="M247.7 130.9h0M232.7 132.8h0M236.0 141.9h0M222.8 130.4h0M239.6 134.6h0" stroke="#1c8cff" stroke-width="7.0"/><path d="M246.1 135.0h0M237.9 129.7h0M217.3 128.9h0M230.3 141.1h0M233.2 140.4h0M221.4 127.6h0" stroke="#2fe0f0" stroke-width="7.0"/><path d="M253.6 129.7h0M215.6 142.0h0" stroke="#00009b" stroke-width="7.0"/><path d="M220.8 132.1h0M223.4 143.9h0M237.5 138.2h0M231.4 141.7h0M229.0 142.3h0" stroke="#0c2cff" stroke-width="7.0"/><path d="M234.0 130.2h0M227.0 139.2h0" stroke="#00009b" stroke-width="7.0"/><path d="M226.2 132.6h0M244.5 130.4h0M216.0 140.6h0M221.4 131.0h0" stroke="#1c8cff" stroke-width="7.0"/><path d="M220.1 138.7h0M247.4 130.7h0M215.9 148.2h0M243.8 135.6h0M218.5 138.5h0" stroke="#2fe0f0" stroke-width="7.0"/><path d="M230.5 135.1h0M218.9 144.4h0M220.2 133.8h0" stroke="#0c2cff" stroke-width="7.0"/><path d="M211.0 150.2h0M207.1 156.1h0M205.3 152.3h0M201.0 136.4h0M201.6 155.8h0M206.8 147.0h0M203.1 138.6h0M211.0 154.7h0M201.3 147.9h0" stroke="#8e0000" stroke-width="7.0"/><path d="M200.3 144.9h0M198.2 157.6h0M208.3 129.3h0M204.9 136.8h0M215.0 134.3h0M206.3 139.4h0M204.0 139.3h0" stroke="#2fe0f0" stroke-width="7.0"/><path d="M202.2 136.7h0" stroke="#f2f01e" stroke-width="7.0"/><path d="M209.5 138.0h0M202.6 155.7h0M209.0 137.8h0" stroke="#ee1200" stroke-width="7.0"/><path d="M214.1 145.1h0M208.0 157.4h0" stroke="#1c8cff" stroke-width="7.0"/><path d="M194.5 142.2h0M200.0 149.8h0M215.2 139.6h0M208.4 141.2h0M203.8 146.4h0" stroke="#ee1200" stroke-width="7.0"/><path d="M214.7 149.5h0M199.1 131.7h0M193.8 155.2h0M205.1 133.3h0M206.1 143.4h0M211.2 144.4h0" stroke="#ff7a00" stroke-width="7.0"/><path d="M201.4 162.9h0M201.1 141.5h0M194.7 146.3h0M203.8 160.6h0" stroke="#8e0000" stroke-width="7.0"/><path d="M207.7 134.2h0M194.9 150.3h0" stroke="#f2f01e" stroke-width="7.0"/><path d="M211.3 148.0h0M193.6 148.2h0M194.4 137.1h0M205.2 149.0h0M208.0 143.8h0" stroke="#2fe0f0" stroke-width="7.0"/><path d="M196.7 147.3h0M204.1 157.6h0M198.6 147.4h0M215.3 150.5h0M201.0 153.3h0M202.4 144.5h0M198.4 160.8h0M203.0 158.6h0M210.9 133.1h0" stroke="#8e0000" stroke-width="7.0"/><path d="M199.2 137.2h0M214.6 142.1h0M206.9 159.6h0" stroke="#f2f01e" stroke-width="7.0"/><path d="M197.1 157.5h0" stroke="#2fe0f0" stroke-width="7.0"/><path d="M194.5 154.2h0M203.0 149.9h0" stroke="#1c8cff" stroke-width="7.0"/><path d="M197.2 152.2h0M197.4 135.7h0M209.5 151.1h0" stroke="#ff7a00" stroke-width="7.0"/><path d="M205.9 131.0h0M211.7 131.7h0M202.2 129.3h0M206.5 154.4h0" stroke="#ee1200" stroke-width="7.0"/><path d="M212.4 146.9h0" stroke="#ff7a00" stroke-width="7.0"/><path d="M199.8 149.7h0M198.2 154.0h0M202.0 133.5h0" stroke="#8e0000" stroke-width="7.0"/><path d="M208.2 149.9h0M212.1 155.0h0M199.8 142.8h0M198.0 155.0h0" stroke="#2fe0f0" stroke-width="7.0"/><path d="M204.0 153.5h0M214.7 137.0h0" stroke="#f2f01e" stroke-width="7.0"/><path d="M203.5 138.6h0M197.7 133.1h0M208.7 135.5h0M195.4 160.9h0" stroke="#1c8cff" stroke-width="7.0"/><path d="M212.9 140.6h0M212.9 135.7h0M210.7 147.5h0M198.6 139.5h0" stroke="#ee1200" stroke-width="7.0"/><path d="M261.5 122.6h0M250.5 120.9h0M253.2 119.8h0" stroke="#ee1200" stroke-width="7.0"/><path d="M236.8 123.3h0" stroke="#ffb000" stroke-width="7.0"/><path d="M239.8 124.2h0M238.5 120.6h0" stroke="#2fe0f0" stroke-width="7.0"/><path d="M231.0 116.2h0" stroke="#f2f01e" stroke-width="7.0"/><path d="M246.7 123.5h0M225.5 118.5h0M243.7 120.6h0M233.7 119.8h0M257.5 128.2h0M249.1 118.2h0M240.8 125.3h0M228.6 117.3h0" stroke="#ff7a00" stroke-width="7.0"/><path d="M257.2 129.4h0" stroke="#8e0000" stroke-width="7.0"/><path d="M221.8 122.8h0M229.6 120.2h0" stroke="#2fe0f0" stroke-width="7.0"/><path d="M258.5 124.9h0M221.5 124.6h0M244.5 117.3h0" stroke="#ff7a00" stroke-width="7.0"/><path d="M252.6 120.7h0M256.7 127.9h0M258.8 119.5h0M230.6 122.5h0M252.0 127.5h0M219.2 125.7h0M220.0 122.5h0" stroke="#ee1200" stroke-width="7.0"/><path d="M250.5 117.6h0M246.0 123.3h0" stroke="#f2f01e" stroke-width="7.0"/><path d="M240.6 115.5h0M214.8 125.2h0M215.8 120.8h0M228.0 122.8h0" stroke="#ee1200" stroke-width="7.0"/><path d="M254.8 124.2h0M249.1 126.8h0" stroke="#ffb000" stroke-width="7.0"/><path d="M243.3 122.4h0" stroke="#f2f01e" stroke-width="7.0"/><path d="M225.3 123.0h0M235.9 116.4h0M236.3 119.3h0M255.5 123.2h0M241.6 120.8h0M241.5 120.0h0M248.6 120.8h0M235.5 116.2h0" stroke="#ff7a00" stroke-width="7.0"/><path d="M259.2 128.6h0M250.2 125.5h0" stroke="#8e0000" stroke-width="7.0"/><path d="M246.1 124.2h0M258.3 119.8h0M258.4 120.7h0M222.3 118.8h0M261.1 128.7h0" stroke="#ee1200" stroke-width="7.0"/><path d="M257.6 123.6h0M223.5 119.9h0M251.5 117.2h0" stroke="#ff7a00" stroke-width="7.0"/><path d="M234.8 122.8h0" stroke="#f2f01e" stroke-width="7.0"/><path d="M259.5 98.4h0M297.5 104.2h0M265.6 97.6h0M282.9 128.7h0M275.9 127.6h0" stroke="#8e0000" stroke-width="7.0"/><path d="M283.7 111.3h0M282.7 120.9h0M264.6 118.7h0M286.0 111.4h0M319.8 100.2h0" stroke="#84fc7c" stroke-width="7.0"/><path d="M311.1 102.1h0M311.4 95.5h0M267.4 125.8h0M314.2 98.3h0M289.6 95.9h0M302.8 100.6h0" stroke="#ff7a00" stroke-width="7.0"/><path d="M296.9 95.9h0M317.8 94.7h0M290.0 94.2h0M270.6 124.3h0M302.1 103.6h0" stroke="#f2f01e" stroke-width="7.0"/><path d="M267.8 96.8h0M274.7 130.1h0" stroke="#2fe0f0" stroke-width="7.0"/><path d="M260.2 105.5h0M307.7 99.6h0" stroke="#ffb000" stroke-width="7.0"/><path d="M262.0 116.9h0M307.9 104.5h0M285.1 105.5h0M268.1 113.4h0M289.8 100.3h0M295.4 104.2h0M315.7 100.0h0" stroke="#00009b" stroke-width="7.0"/><path d="M323.8 94.8h0M272.4 116.2h0M309.6 94.5h0M326.7 101.2h0M293.5 98.9h0M262.9 110.2h0M273.4 120.4h0M280.8 120.8h0M278.9 126.0h0M308.4 105.2h0M324.0 99.2h0M302.8 99.1h0M269.2 116.4h0M267.3 120.9h0M274.7 106.6h0M321.9 106.0h0M280.6 111.9h0M284.5 110.2h0" stroke="#ee1200" stroke-width="7.0"/><path d="M266.4 105.2h0M261.1 123.4h0M305.5 101.2h0M277.8 104.3h0M260.9 98.7h0M279.8 100.9h0M264.8 109.8h0M271.0 121.2h0M285.1 114.5h0M270.2 132.5h0M269.8 129.9h0" stroke="#ff7a00" stroke-width="7.0"/><path d="M283.8 131.6h0" stroke="#84fc7c" stroke-width="7.0"/><path d="M277.2 133.1h0M294.5 101.5h0M269.9 106.4h0M288.5 97.2h0M288.7 102.7h0M285.3 126.2h0" stroke="#00009b" stroke-width="7.0"/><path d="M271.7 106.4h0M285.8 115.8h0M288.6 105.7h0" stroke="#8e0000" stroke-width="7.0"/><path d="M313.5 102.8h0M296.6 94.4h0" stroke="#2fe0f0" stroke-width="7.0"/><path d="M288.1 99.0h0M267.4 99.5h0M301.3 96.8h0M317.5 95.5h0M278.7 113.2h0M277.3 118.3h0M276.0 129.9h0M313.8 95.6h0M263.7 113.4h0M276.2 133.5h0M273.6 100.4h0M306.1 97.7h0M281.7 97.0h0M271.8 97.8h0M267.8 127.7h0M278.9 105.5h0M281.3 130.2h0M276.2 113.6h0M291.4 105.4h0M316.8 104.0h0M263.9 104.7h0M309.2 95.1h0M265.7 124.1h0M296.8 100.1h0" stroke="#ee1200" stroke-width="7.0"/><path d="M264.3 127.3h0M320.7 94.8h0M279.0 110.4h0" stroke="#ffb000" stroke-width="7.0"/><path d="M283.4 114.3h0" stroke="#f2f01e" stroke-width="7.0"/><path d="M280.4 106.4h0M266.6 128.6h0" stroke="#00009b" stroke-width="7.0"/><path d="M266.7 117.9h0M268.1 110.7h0M264.0 96.3h0" stroke="#2fe0f0" stroke-width="7.0"/><path d="M266.8 121.5h0M320.4 103.9h0" stroke="#ffb000" stroke-width="7.0"/><path d="M324.0 100.4h0M280.3 115.2h0M292.5 98.1h0M289.6 108.2h0M283.0 98.1h0M300.1 97.6h0M320.1 103.8h0M285.3 95.7h0" stroke="#8e0000" stroke-width="7.0"/><path d="M268.6 129.1h0" stroke="#84fc7c" stroke-width="7.0"/><path d="M260.5 102.9h0M287.1 129.2h0M270.6 94.7h0M298.6 95.7h0M274.0 102.7h0M285.6 107.9h0M264.1 100.3h0M275.2 98.1h0M303.2 94.4h0M276.6 99.1h0M289.2 112.6h0M318.3 100.3h0M261.1 115.8h0M282.3 133.3h0M270.2 104.9h0M272.4 95.3h0M280.7 98.6h0M282.5 128.5h0" stroke="#ee1200" stroke-width="7.0"/><path d="M284.2 109.2h0M276.0 95.0h0M278.0 109.8h0M273.2 126.4h0M284.9 123.0h0M269.2 115.2h0M283.3 94.3h0M282.3 123.9h0M277.5 96.2h0M276.4 117.0h0M280.2 130.7h0M279.5 101.8h0M275.0 109.1h0M275.4 124.6h0M261.7 130.1h0" stroke="#ff7a00" stroke-width="7.0"/><path d="M275.4 122.1h0M286.3 100.2h0M275.2 100.9h0M285.6 100.1h0M311.9 94.2h0" stroke="#00009b" stroke-width="7.0"/><path d="M314.7 101.3h0M292.2 97.7h0" stroke="#ffb000" stroke-width="7.0"/><path d="M273.8 112.8h0M309.4 97.5h0M262.2 100.0h0M264.6 94.8h0M283.5 117.1h0M261.2 125.1h0M304.3 105.4h0M272.4 112.2h0M268.5 102.4h0" stroke="#8e0000" stroke-width="7.0"/><path d="M320.2 98.0h0M298.8 99.3h0M325.5 105.3h0M272.1 120.0h0M271.7 110.7h0M276.8 123.2h0M262.5 106.1h0M283.9 100.2h0M284.2 105.3h0M282.5 124.4h0M301.2 105.5h0M261.9 118.5h0M264.2 122.4h0M315.5 106.0h0M289.4 109.6h0M279.7 106.5h0M276.9 127.2h0" stroke="#ee1200" stroke-width="7.0"/><path d="M265.0 130.2h0M261.9 113.0h0M280.2 116.7h0M265.8 101.0h0M322.8 98.3h0M266.4 111.9h0M273.2 125.8h0M309.4 102.2h0M260.4 100.6h0" stroke="#ff7a00" stroke-width="7.0"/><path d="M270.0 113.4h0M268.4 121.8h0" stroke="#2fe0f0" stroke-width="7.0"/><path d="M320.8 97.0h0M274.0 114.9h0" stroke="#84fc7c" stroke-width="7.0"/><path d="M267.0 103.3h0M278.0 116.4h0M298.9 100.7h0" stroke="#f2f01e" stroke-width="7.0"/><path d="M329.2 113.9h0M322.0 111.1h0M300.8 110.1h0M302.4 111.0h0M313.2 106.5h0" stroke="#84fc7c" stroke-width="7.0"/><path d="M325.5 109.5h0M294.4 107.8h0M304.3 113.5h0" stroke="#2fe0f0" stroke-width="7.0"/><path d="M322.2 121.7h0M326.3 121.7h0M316.2 109.9h0" stroke="#00009b" stroke-width="7.0"/><path d="M325.0 119.2h0M328.3 119.1h0M320.8 113.6h0M322.6 104.5h0M298.0 107.7h0" stroke="#1c8cff" stroke-width="7.0"/><path d="M321.4 107.7h0" stroke="#0c2cff" stroke-width="7.0"/><path d="M325.2 104.6h0M320.9 106.2h0M330.3 115.4h0M313.0 113.1h0M322.5 105.0h0" stroke="#00009b" stroke-width="7.0"/><path d="M317.1 113.4h0M329.7 110.1h0" stroke="#f2f01e" stroke-width="7.0"/><path d="M311.9 108.5h0M314.5 114.3h0M306.5 108.3h0" stroke="#1c8cff" stroke-width="7.0"/><path d="M297.2 112.9h0" stroke="#0c2cff" stroke-width="7.0"/><path d="M309.3 110.8h0M318.1 110.2h0M329.1 111.4h0" stroke="#84fc7c" stroke-width="7.0"/><path d="M312.1 115.8h0M317.8 112.9h0M294.4 107.9h0" stroke="#2fe0f0" stroke-width="7.0"/><path d="M317.4 116.8h0M321.6 123.3h0" stroke="#f2f01e" stroke-width="7.0"/><path d="M318.0 121.5h0M300.9 106.3h0" stroke="#0c2cff" stroke-width="7.0"/><path d="M302.9 107.8h0M319.6 111.2h0M309.2 119.0h0" stroke="#84fc7c" stroke-width="7.0"/><path d="M307.7 115.1h0M316.3 119.9h0M307.7 107.2h0M325.5 112.5h0" stroke="#1c8cff" stroke-width="7.0"/><path d="M325.2 115.6h0M326.4 118.7h0M314.7 117.4h0M309.6 119.8h0M324.8 107.4h0M322.4 118.7h0" stroke="#2fe0f0" stroke-width="7.0"/><path d="M304.4 113.8h0M320.3 117.1h0M318.8 121.7h0M306.1 111.5h0" stroke="#00009b" stroke-width="7.0"/><path d="M333.1 114.5h0" stroke="#0c2cff" stroke-width="7.0"/><path d="M299.5 109.1h0M302.9 116.7h0M315.8 105.1h0M309.1 106.9h0M328.4 119.1h0" stroke="#84fc7c" stroke-width="7.0"/><path d="M301.9 113.6h0" stroke="#f2f01e" stroke-width="7.0"/><path d="M327.7 108.7h0" stroke="#1c8cff" stroke-width="7.0"/><path d="M308.1 109.7h0M307.7 117.2h0M314.5 104.9h0" stroke="#2fe0f0" stroke-width="7.0"/><path d="M296.6 130.4h0M321.3 133.8h0M305.4 122.7h0M308.7 135.1h0M315.5 124.3h0M296.2 119.8h0" stroke="#ff7a00" stroke-width="7.0"/><path d="M292.9 124.5h0M300.9 135.2h0M304.8 130.7h0M323.6 131.1h0" stroke="#ffb000" stroke-width="7.0"/><path d="M307.2 119.9h0M323.8 129.6h0M303.8 127.8h0M294.9 130.4h0M317.2 134.5h0M311.2 132.5h0" stroke="#ee1200" stroke-width="7.0"/><path d="M299.5 125.5h0M309.5 130.5h0" stroke="#f2f01e" stroke-width="7.0"/><path d="M287.4 122.6h0" stroke="#84fc7c" stroke-width="7.0"/><path d="M301.7 119.9h0" stroke="#8e0000" stroke-width="7.0"/><path d="M294.9 133.1h0" stroke="#2fe0f0" stroke-width="7.0"/><path d="M288.9 118.6h0M296.7 120.3h0M309.2 120.6h0M315.3 130.7h0M303.4 132.5h0M295.3 126.8h0" stroke="#ff7a00" stroke-width="7.0"/><path d="M308.1 123.4h0M293.3 125.5h0M300.8 129.2h0M292.6 119.0h0M319.5 136.4h0M314.7 131.7h0M318.9 132.1h0M300.0 133.5h0" stroke="#ee1200" stroke-width="7.0"/><path d="M311.4 123.4h0M290.8 128.0h0M309.2 133.1h0" stroke="#8e0000" stroke-width="7.0"/><path d="M307.0 124.8h0M310.3 121.7h0" stroke="#f2f01e" stroke-width="7.0"/><path d="M311.0 127.0h0" stroke="#84fc7c" stroke-width="7.0"/><path d="M298.6 124.0h0" stroke="#ffb000" stroke-width="7.0"/><path d="M306.7 125.7h0M306.0 134.0h0M291.1 121.4h0M298.0 126.9h0M312.2 130.8h0M289.4 125.5h0M311.2 134.4h0M298.2 122.5h0M290.6 126.8h0" stroke="#ee1200" stroke-width="7.0"/><path d="M315.8 133.9h0M301.1 125.5h0M307.1 129.2h0M296.1 134.4h0M291.1 132.5h0" stroke="#ff7a00" stroke-width="7.0"/><path d="M325.8 135.3h0M302.5 134.7h0M302.8 119.4h0M294.2 127.1h0" stroke="#8e0000" stroke-width="7.0"/><path d="M317.8 129.4h0" stroke="#f2f01e" stroke-width="7.0"/><path d="M318.7 126.0h0M293.0 122.3h0M316.2 127.3h0" stroke="#ee1200" stroke-width="7.0"/><path d="M312.0 136.0h0" stroke="#2fe0f0" stroke-width="7.0"/><path d="M291.7 130.6h0M293.7 119.9h0" stroke="#8e0000" stroke-width="7.0"/><path d="M301.7 122.6h0" stroke="#ffb000" stroke-width="7.0"/><path d="M314.1 128.2h0M290.3 117.2h0M288.1 129.7h0M287.6 130.8h0M302.5 125.1h0M316.3 133.0h0M304.4 133.3h0M321.2 130.7h0M315.2 136.1h0M288.4 127.7h0M322.7 126.6h0" stroke="#ff7a00" stroke-width="7.0"/><path d="M359.6 116.6h0M337.4 126.0h0M356.3 101.4h0M353.1 148.2h0M363.0 128.0h0M357.0 98.7h0" stroke="#2fe0f0" stroke-width="7.0"/><path d="M334.3 137.8h0M344.5 134.6h0M344.8 130.1h0M355.4 142.3h0M344.5 114.2h0M364.6 126.4h0M329.4 130.0h0M342.5 152.7h0M329.9 102.0h0M338.6 122.4h0" stroke="#ffb000" stroke-width="7.0"/><path d="M337.9 95.3h0M338.8 121.7h0M338.7 142.5h0M356.8 118.5h0M346.6 129.5h0" stroke="#84fc7c" stroke-width="7.0"/><path d="M342.5 126.9h0M327.7 151.2h0M333.0 145.2h0M348.4 132.7h0M337.1 150.5h0M327.8 130.0h0M367.3 97.0h0M334.1 98.4h0M364.8 103.6h0M347.5 153.4h0M349.5 106.9h0M352.7 102.9h0M332.4 122.3h0M345.8 138.1h0M339.8 114.6h0M340.0 148.3h0M343.1 115.2h0M334.5 113.6h0M352.9 119.7h0M340.6 140.0h0M350.5 154.9h0M330.0 100.1h0M353.3 140.1h0M347.8 144.3h0" stroke="#ff7a00" stroke-width="7.0"/><path d="M329.9 134.1h0M350.9 113.2h0M341.8 100.4h0M357.4 146.4h0M347.5 124.0h0M368.2 119.2h0M369.1 101.1h0M333.4 143.8h0M351.2 153.4h0M349.0 101.3h0M339.3 136.1h0M374.1 97.6h0M337.2 140.1h0M345.0 96.6h0M358.9 140.6h0" stroke="#ee1200" stroke-width="7.0"/><path d="M357.3 107.6h0M354.9 147.2h0M364.7 115.3h0M338.9 121.9h0M337.0 100.7h0M340.4 94.8h0M357.8 128.2h0M351.2 142.9h0M359.1 112.4h0" stroke="#f2f01e" stroke-width="7.0"/><path d="M341.0 140.2h0M354.8 153.1h0M340.0 117.4h0M346.8 135.0h0M334.0 129.8h0M351.6 109.4h0" stroke="#8e0000" stroke-width="7.0"/><path d="M329.6 100.9h0M337.7 102.0h0M357.3 114.9h0M355.9 144.6h0M334.6 146.1h0M342.4 119.0h0M354.1 131.0h0M360.6 120.8h0M362.0 134.7h0M355.6 139.6h0M343.5 150.4h0M362.4 126.0h0M363.0 95.6h0M349.6 112.4h0M364.2 107.7h0M360.8 95.5h0M337.5 127.8h0M336.0 142.2h0M339.5 104.2h0M345.2 148.1h0M334.4 152.9h0M354.3 127.1h0" stroke="#ee1200" stroke-width="7.0"/><path d="M334.4 95.0h0M349.9 104.0h0M352.3 98.4h0M359.8 139.5h0M364.5 95.8h0M342.7 127.3h0M328.6 133.2h0M333.6 137.2h0" stroke="#84fc7c" stroke-width="7.0"/><path d="M331.9 98.1h0M362.1 131.8h0M334.1 127.1h0M362.7 108.3h0M356.4 133.7h0M336.9 108.9h0M350.0 147.9h0M371.0 106.2h0" stroke="#8e0000" stroke-width="7.0"/><path d="M363.4 113.2h0M344.6 149.5h0M352.3 123.3h0M364.8 116.4h0M331.1 146.7h0" stroke="#ffb000" stroke-width="7.0"/><path d="M357.7 129.8h0M348.7 98.4h0M335.8 103.5h0M350.0 141.4h0M338.8 146.7h0" stroke="#f2f01e" stroke-width="7.0"/><path d="M340.3 129.6h0M365.5 99.5h0M326.9 146.4h0M356.8 136.2h0M337.9 98.8h0M344.7 157.0h0M369.8 103.6h0" stroke="#2fe0f0" stroke-width="7.0"/><path d="M359.1 134.8h0M342.7 122.8h0M333.9 118.9h0M330.3 128.7h0M362.9 120.4h0M352.8 140.0h0M352.2 119.4h0M343.1 146.4h0M349.0 116.4h0M364.0 110.4h0M340.0 154.4h0M328.4 148.6h0M356.7 108.1h0M343.8 111.3h0M334.0 152.4h0M356.9 101.8h0M335.0 109.2h0M355.8 104.4h0M348.1 118.2h0M330.0 136.9h0" stroke="#ff7a00" stroke-width="7.0"/><path d="M372.7 99.3h0M349.8 100.8h0M363.8 99.3h0M338.4 131.6h0M373.1 108.6h0M346.7 104.3h0M354.1 122.9h0M373.9 107.8h0M332.9 102.2h0M331.0 148.0h0M343.4 153.2h0M341.6 108.5h0M333.0 141.9h0M340.7 145.0h0M376.6 97.2h0M351.4 125.1h0M348.2 125.6h0M351.9 128.4h0M366.2 119.2h0M360.7 117.7h0M342.9 108.7h0M334.6 133.1h0" stroke="#ff7a00" stroke-width="7.0"/><path d="M360.0 112.3h0M341.6 111.5h0M333.2 122.1h0M366.3 111.2h0M338.1 112.4h0M368.4 110.5h0M350.3 116.1h0M371.0 102.5h0M327.5 136.1h0" stroke="#8e0000" stroke-width="7.0"/><path d="M339.1 150.5h0M353.5 110.8h0M356.0 95.8h0M342.4 119.5h0M344.6 140.1h0" stroke="#84fc7c" stroke-width="7.0"/><path d="M340.2 101.4h0M364.0 101.5h0M358.9 100.1h0M334.4 119.3h0M339.2 98.4h0M341.3 111.2h0M369.6 115.6h0" stroke="#2fe0f0" stroke-width="7.0"/><path d="M348.1 146.7h0M348.7 124.1h0M346.9 142.3h0M344.4 145.9h0M345.4 111.6h0M336.8 131.0h0M371.0 113.6h0" stroke="#f2f01e" stroke-width="7.0"/><path d="M359.0 105.0h0M374.8 98.9h0M362.4 96.2h0M354.2 114.2h0M337.1 113.8h0M349.1 100.0h0M348.6 95.6h0M340.4 105.3h0M350.4 157.9h0M355.0 126.2h0M348.1 152.2h0M331.3 153.6h0M343.7 121.1h0M342.1 158.1h0M330.1 138.5h0M338.3 155.4h0M356.5 109.1h0M352.8 132.4h0M338.4 96.0h0M354.9 105.9h0M343.3 143.3h0M350.0 148.3h0" stroke="#ee1200" stroke-width="7.0"/><path d="M332.7 143.3h0M371.4 97.5h0M343.7 105.6h0" stroke="#ffb000" stroke-width="7.0"/><path d="M360.6 129.7h0M354.9 118.9h0M366.0 107.4h0M345.2 128.1h0M355.6 149.7h0M344.4 94.9h0M360.3 128.9h0M361.5 102.0h0M336.9 132.1h0M348.8 109.6h0" stroke="#8e0000" stroke-width="7.0"/><path d="M342.5 139.7h0M368.7 119.3h0M363.5 103.6h0M367.5 101.4h0M328.5 151.4h0M347.9 139.0h0" stroke="#ffb000" stroke-width="7.0"/><path d="M361.3 113.8h0M370.6 108.6h0M329.2 153.8h0M343.2 100.8h0M339.2 158.3h0M372.9 102.9h0M359.3 126.0h0" stroke="#84fc7c" stroke-width="7.0"/><path d="M346.2 135.9h0M345.6 100.7h0M354.2 112.9h0M351.1 134.7h0M358.5 98.5h0M347.3 106.9h0M340.6 129.6h0M333.8 100.0h0" stroke="#f2f01e" stroke-width="7.0"/><path d="M336.2 116.6h0M346.1 103.3h0M329.6 95.7h0M358.2 125.3h0" stroke="#2fe0f0" stroke-width="7.0"/><path d="M352.6 107.3h0M354.6 135.9h0M349.7 130.8h0M354.4 98.9h0M346.6 134.4h0M332.9 126.9h0M363.7 123.7h0M367.0 113.1h0M341.8 135.7h0M337.4 141.8h0M349.3 129.3h0M330.0 142.5h0M357.1 122.3h0M337.8 109.6h0M342.5 96.7h0M345.3 119.1h0M357.0 119.9h0M351.9 119.4h0M335.3 150.1h0M335.6 155.8h0" stroke="#ee1200" stroke-width="7.0"/><path d="M327.0 137.3h0M334.9 106.3h0M338.2 150.1h0M350.3 144.1h0M357.8 133.6h0M345.1 124.2h0M339.7 132.0h0M336.6 137.1h0M360.7 110.4h0M334.8 125.6h0M349.1 156.9h0M347.8 120.1h0M342.6 111.9h0M360.2 122.7h0M328.0 145.1h0M332.2 104.9h0M351.4 152.2h0" stroke="#ff7a00" stroke-width="7.0"/><path d="M352.9 152.6h0" stroke="#84fc7c" stroke-width="7.0"/><path d="M351.2 158.3h0" stroke="#1c8cff" stroke-width="7.0"/><path d="M351.4 151.2h0" stroke="#1c8cff" stroke-width="7.0"/><path d="M317.4 140.4h0" stroke="#0c2cff" stroke-width="7.0"/><path d="M299.1 137.9h0M273.6 137.5h0M286.7 137.3h0M302.1 141.4h0M317.6 140.6h0M293.3 137.3h0" stroke="#00009b" stroke-width="7.0"/><path d="M302.0 139.0h0" stroke="#1c8cff" stroke-width="7.0"/><path d="M323.8 140.9h0M292.5 141.5h0M296.7 142.5h0" stroke="#0000c8" stroke-width="7.0"/><path d="M319.7 139.8h0M288.9 135.7h0M307.7 144.0h0M280.1 140.0h0M280.2 137.3h0" stroke="#0000c8" stroke-width="7.0"/><path d="M307.1 140.3h0M270.5 136.7h0" stroke="#0c2cff" stroke-width="7.0"/><path d="M314.9 141.7h0M312.2 141.3h0M291.9 138.4h0M298.6 137.6h0" stroke="#00009b" stroke-width="7.0"/><path d="M293.7 139.1h0M304.5 140.6h0M274.5 138.8h0M285.8 141.7h0M288.1 139.9h0M313.8 139.1h0M317.5 144.3h0" stroke="#00009b" stroke-width="7.0"/><path d="M306.3 139.0h0M297.9 140.9h0M309.8 140.5h0M285.4 139.3h0" stroke="#0c2cff" stroke-width="7.0"/><path d="M312.7 143.5h0M326.0 139.2h0M298.3 137.5h0" stroke="#1c8cff" stroke-width="7.0"/><path d="M283.7 137.1h0M278.9 137.7h0M276.9 137.4h0M265.3 135.7h0M322.2 141.3h0" stroke="#0c2cff" stroke-width="7.0"/><path d="M323.7 143.8h0" stroke="#00009b" stroke-width="7.0"/><path d="M325.0 155.2h0M319.1 148.7h0M324.0 147.8h0" stroke="#0c2cff" stroke-width="7.0"/><path d="M322.4 156.5h0" stroke="#1c8cff" stroke-width="7.0"/><path d="M322.4 153.5h0M318.3 153.5h0" stroke="#00009b" stroke-width="7.0"/><path d="M325.4 161.1h0" stroke="#0c2cff" stroke-width="7.0"/><path d="M322.5 144.1h0M319.7 144.1h0M325.5 153.7h0M320.5 158.6h0M319.6 153.6h0" stroke="#00009b" stroke-width="7.0"/><path d="M326.1 157.6h0M324.7 145.7h0M317.2 143.1h0M324.9 157.3h0" stroke="#00009b" stroke-width="7.0"/><path d="M318.0 147.7h0M321.2 148.9h0" stroke="#0c2cff" stroke-width="7.0"/><path d="M325.3 150.2h0" stroke="#0c2cff" stroke-width="7.0"/><path d="M318.9 150.5h0" stroke="#00009b" stroke-width="7.0"/><path d="M208.6 191.2h0M209.1 185.3h0" stroke="#ff7a00" stroke-width="7.0"/><path d="M202.1 175.1h0M206.3 186.3h0" stroke="#1c8cff" stroke-width="7.0"/><path d="M204.5 176.8h0M209.4 193.1h0" stroke="#f2f01e" stroke-width="7.0"/><path d="M211.9 185.8h0" stroke="#00009b" stroke-width="7.0"/><path d="M202.1 193.8h0" stroke="#2fe0f0" stroke-width="7.0"/><path d="M203.5 184.2h0M208.7 197.4h0" stroke="#0c2cff" stroke-width="7.0"/><path d="M198.1 170.2h0" stroke="#ffb000" stroke-width="7.0"/><path d="M202.9 173.2h0M196.6 171.0h0M204.0 190.2h0" stroke="#0c2cff" stroke-width="7.0"/><path d="M201.2 179.1h0" stroke="#2fe0f0" stroke-width="7.0"/><path d="M211.3 182.5h0M200.2 197.8h0" stroke="#1c8cff" stroke-width="7.0"/><path d="M198.7 186.8h0M203.6 193.8h0M196.7 178.1h0" stroke="#ffb000" stroke-width="7.0"/><path d="M201.7 169.6h0M211.6 190.6h0" stroke="#ff7a00" stroke-width="7.0"/><path d="M208.4 183.0h0" stroke="#ff7a00" stroke-width="7.0"/><path d="M198.3 175.0h0M202.7 197.2h0M213.3 195.9h0M198.9 191.2h0" stroke="#0c2cff" stroke-width="7.0"/><path d="M200.5 178.8h0M209.7 194.7h0" stroke="#1c8cff" stroke-width="7.0"/><path d="M206.5 196.7h0" stroke="#00009b" stroke-width="7.0"/><path d="M199.9 194.4h0M207.7 191.4h0" stroke="#f2f01e" stroke-width="7.0"/><path d="M206.3 175.4h0" stroke="#ffb000" stroke-width="7.0"/><path d="M202.7 189.8h0M199.7 183.9h0" stroke="#f2f01e" stroke-width="7.0"/><path d="M206.6 180.1h0" stroke="#1c8cff" stroke-width="7.0"/><path d="M199.6 196.3h0M203.6 172.8h0M204.6 181.2h0M203.9 186.6h0" stroke="#0c2cff" stroke-width="7.0"/><path d="M244.6 96.5h0" stroke="#00009b" stroke-width="7.0"/><path d="M250.5 103.6h0" stroke="#00009b" stroke-width="7.0"/><path d="M255.9 104.3h0" stroke="#1c8cff" stroke-width="7.0"/><path d="M248.1 98.6h0" stroke="#0000c8" stroke-width="7.0"/><path d="M373.6 103.6h0" stroke="#ee1200" stroke-width="7.0"/><path d="M221.2 158.9h0" stroke="#00009b" stroke-width="7.0"/><path d="M229.0 154.6h0" stroke="#00009b" stroke-width="7.0"/><path d="M225.4 157.2h0" stroke="#00009b" stroke-width="7.0"/><path d="M245.3 166.7h0" stroke="#00009b" stroke-width="7.0"/><path d="M251.6 167.4h0" stroke="#00009b" stroke-width="7.0"/><path d="M254.5 168.1h0" stroke="#0c2cff" stroke-width="7.0"/><path d="M263.0 174.8h0" stroke="#00009b" stroke-width="7.0"/><path d="M258.7 136.2h0" stroke="#00009b" stroke-width="7.0"/><path d="M265.8 134.1h0" stroke="#00009b" stroke-width="7.0"/><path d="M219.0 181.6h0" stroke="#00009b" stroke-width="7.0"/><path d="M222.2 180.9h0" stroke="#2fe0f0" stroke-width="7.0"/><path d="M223.0 185.8h0" stroke="#f2f01e" stroke-width="7.0"/><path d="M219.0 186.5h0" stroke="#00009b" stroke-width="7.0"/><path d="M230.4 181.6h0" stroke="#8e0000" stroke-width="7.0"/><path d="M233.9 180.9h0" stroke="#00009b" stroke-width="7.0"/><path d="M231.8 185.1h0" stroke="#0c2cff" stroke-width="7.0"/><path d="M227.5 176.6h0" stroke="#2fe0f0" stroke-width="7.0"/><path d="M223.3 177.3h0" stroke="#1c8cff" stroke-width="7.0"/><path d="M275.7 157.5h0" stroke="#ff7a00" stroke-width="7.0"/><path d="M279.3 158.2h0" stroke="#ffb000" stroke-width="7.0"/><path d="M284.3 157.5h0" stroke="#2fe0f0" stroke-width="7.0"/><path d="M288.5 158.9h0" stroke="#f2f01e" stroke-width="7.0"/><path d="M292.8 157.5h0" stroke="#84fc7c" stroke-width="7.0"/><path d="M285.7 161.7h0" stroke="#1c8cff" stroke-width="7.0"/><path d="M272.9 164.6h0" stroke="#00009b" stroke-width="7.0"/><path d="M278.6 166.0h0" stroke="#00009b" stroke-width="7.0"/><path d="M284.3 166.7h0" stroke="#00009b" stroke-width="7.0"/><path d="M289.9 167.4h0" stroke="#ffb000" stroke-width="7.0"/><path d="M294.2 166.7h0" stroke="#00009b" stroke-width="7.0"/><path d="M314.7 161.7h0" stroke="#00009b" stroke-width="7.0"/><path d="M272.9 178.7h0" stroke="#00009b" stroke-width="7.0"/><path d="M282.8 181.6h0" stroke="#00009b" stroke-width="7.0"/><path d="M203.4 202.9h0" stroke="#00009b" stroke-width="7.0"/><path d="M270.1 258.3L313.3 256.8L297.7 311.4L261.6 312.1L260.9 277.4L265.1 266.1 Z" fill="#8e0000"/><path d="M284.3 278.8h0" stroke="#f2f01e" stroke-width="3.2"/><path d="M287.1 281.7h0" stroke="#f2f01e" stroke-width="3.2"/><path d="M290.6 279.5h0" stroke="#f2f01e" stroke-width="3.2"/><path d="M298.4 275.3h0" stroke="#f2f01e" stroke-width="3.2"/><path d="M302.7 274.6h0" stroke="#84fc7c" stroke-width="3.2"/><path d="M271.5 271.0h0" stroke="#ff7a00" stroke-width="3.2"/><path d="M273.6 295.8h0" stroke="#ff7a00" stroke-width="3.2"/><path d="M286.4 307.9h0" stroke="#ffb000" stroke-width="3.2"/><path d="M296.3 302.9h0" stroke="#ff7a00" stroke-width="3.2"/><path d="M297.0 297.3h0" stroke="#ff7a00" stroke-width="3.2"/><path d="M275.7 260.4h0" stroke="#2fe0f0" stroke-width="3.2"/><path d="M284.3 259.7h0" stroke="#f2f01e" stroke-width="3.2"/><path d="M297.0 254.7h0" stroke="#ff7a00" stroke-width="3.2"/><path d="M301.3 254.0h0" stroke="#f2f01e" stroke-width="3.2"/><path d="M287.1 251.9h0" stroke="#ffb000" stroke-width="3.2"/><path d="M243.0 293.2h0M238.2 292.7h0M238.4 279.4h0M221.3 282.7h0M242.9 281.5h0M221.9 295.7h0M221.7 304.0h0M225.9 284.1h0M205.6 293.3h0M215.6 287.1h0M206.3 295.2h0M235.5 297.2h0M208.3 287.7h0M220.2 285.3h0M237.5 288.1h0M212.6 290.1h0M240.6 288.8h0M241.4 285.1h0M235.5 280.4h0M227.8 293.3h0M221.2 285.9h0M204.4 291.6h0M218.0 295.3h0M200.9 296.8h0M212.4 301.7h0M245.8 285.6h0M234.4 304.9h0M232.5 294.0h0M238.0 288.9h0M229.9 298.4h0M215.9 302.2h0M223.1 302.9h0M205.3 285.2h0M199.1 292.5h0M219.2 280.8h0M239.9 304.1h0M241.1 308.4h0" stroke="#00009b" stroke-width="7.0"/><path d="M242.7 284.8h0M208.4 298.4h0M220.8 300.1h0" stroke="#0000c8" stroke-width="7.0"/><path d="M232.5 307.0h0M200.3 287.4h0M211.7 289.2h0M228.4 296.1h0" stroke="#0000c8" stroke-width="7.0"/><path d="M211.2 292.2h0M206.2 287.8h0M211.9 285.2h0M223.7 290.5h0M223.5 282.3h0M219.7 290.7h0M206.5 296.3h0M228.5 301.9h0M246.4 280.1h0M216.9 297.3h0M237.4 285.2h0M235.7 299.8h0M225.4 298.6h0M234.7 279.7h0M236.2 283.9h0M239.4 300.5h0M223.6 294.1h0M228.5 288.8h0M198.5 298.6h0M233.5 282.7h0M229.3 279.9h0M246.5 304.8h0M207.9 291.8h0M246.5 303.4h0M238.1 295.7h0M243.4 300.5h0M204.7 286.8h0M238.3 307.1h0M247.0 281.5h0M246.0 297.3h0M217.4 288.9h0M248.2 286.5h0M232.1 285.8h0M236.5 292.7h0M226.0 288.5h0M221.5 303.2h0" stroke="#00009b" stroke-width="7.0"/><path d="M214.7 283.4h0M249.5 291.3h0M249.2 292.2h0" stroke="#0000c8" stroke-width="7.0"/><path d="M225.8 301.1h0M217.1 293.2h0M244.0 293.1h0M222.3 290.2h0M227.9 283.4h0M201.9 286.9h0M236.1 298.3h0M229.5 301.0h0M226.9 285.9h0M241.1 286.7h0M247.3 288.9h0M235.7 303.0h0M203.0 298.5h0M207.0 284.1h0M232.2 282.5h0M214.6 295.9h0M229.1 291.6h0M246.1 294.1h0M238.4 303.8h0M249.2 295.9h0M215.7 283.0h0M218.9 286.0h0M221.6 281.4h0M211.3 300.9h0M247.5 301.0h0M215.8 291.9h0M242.4 302.7h0M230.1 283.4h0M242.5 293.2h0M213.9 295.9h0M232.6 289.0h0M224.8 304.3h0M218.5 290.7h0M227.6 280.8h0M248.6 284.1h0M232.5 290.6h0M241.1 298.1h0" stroke="#00009b" stroke-width="7.0"/><path d="M227.1 293.7h0" stroke="#0000c8" stroke-width="7.0"/><path d="M223.6 299.7h0M244.4 301.6h0M242.4 305.3h0M234.2 290.2h0M204.3 295.9h0M232.5 299.6h0M233.7 296.0h0M209.3 282.3h0M213.0 301.0h0M228.2 304.4h0M206.7 300.5h0M240.2 303.8h0M241.2 293.9h0M210.6 298.2h0M231.0 287.6h0M245.3 279.4h0M217.2 301.2h0M216.3 298.7h0M250.5 288.9h0M244.6 289.7h0M224.6 294.6h0M201.2 294.7h0M232.8 303.6h0M209.8 283.6h0M219.8 291.1h0M246.7 306.9h0M246.9 282.7h0M236.5 293.7h0M204.9 300.7h0M224.1 296.8h0M233.6 293.6h0M203.8 288.4h0M209.3 295.7h0M246.2 306.5h0M240.3 282.5h0M230.8 305.3h0M201.3 290.0h0M223.1 285.9h0" stroke="#00009b" stroke-width="7.0"/><path d="M245.4 306.4h0M261.2 288.3h0M249.1 300.9h0M257.2 296.9h0" stroke="#0000c8" stroke-width="7.0"/><path d="M260.9 304.3h0M260.6 285.8h0" stroke="#f2f01e" stroke-width="7.0"/><path d="M246.8 295.9h0M254.7 293.8h0M251.3 290.7h0M245.6 285.5h0M256.1 284.5h0" stroke="#0c2cff" stroke-width="7.0"/><path d="M244.6 294.7h0M259.1 289.2h0M258.4 298.2h0" stroke="#1c8cff" stroke-width="7.0"/><path d="M246.3 284.2h0M246.6 292.2h0" stroke="#2fe0f0" stroke-width="7.0"/><path d="M252.2 302.9h0M252.9 308.0h0M246.0 301.6h0M259.2 295.8h0" stroke="#1c8cff" stroke-width="7.0"/><path d="M261.0 302.4h0M250.5 288.8h0M253.6 296.9h0M247.8 285.7h0" stroke="#0c2cff" stroke-width="7.0"/><path d="M246.4 289.7h0M251.1 298.0h0M256.2 309.9h0" stroke="#0000c8" stroke-width="7.0"/><path d="M254.5 290.8h0" stroke="#2fe0f0" stroke-width="7.0"/><path d="M250.6 306.8h0M260.6 309.5h0M258.8 305.7h0" stroke="#f2f01e" stroke-width="7.0"/><path d="M247.5 310.6h0" stroke="#84fc7c" stroke-width="7.0"/><path d="M252.9 296.0h0M253.8 286.8h0M254.7 300.8h0" stroke="#2fe0f0" stroke-width="7.0"/><path d="M249.6 286.7h0M251.2 298.6h0M256.9 286.2h0M249.4 305.5h0" stroke="#1c8cff" stroke-width="7.0"/><path d="M252.0 283.9h0M259.5 298.8h0" stroke="#0000c8" stroke-width="7.0"/><path d="M257.2 306.9h0M246.8 299.0h0M246.8 302.1h0M251.8 303.4h0M257.5 285.7h0M249.5 285.2h0" stroke="#0c2cff" stroke-width="7.0"/><path d="M246.3 306.3h0" stroke="#84fc7c" stroke-width="7.0"/><path d="M257.4 301.5h0" stroke="#2fe0f0" stroke-width="7.0"/><path d="M255.8 306.6h0M249.7 295.1h0M261.1 294.2h0M260.6 307.1h0" stroke="#0000c8" stroke-width="7.0"/><path d="M257.8 292.7h0M251.2 309.7h0M253.7 289.3h0M251.3 304.8h0M250.2 291.0h0" stroke="#1c8cff" stroke-width="7.0"/><path d="M257.6 309.4h0" stroke="#84fc7c" stroke-width="7.0"/><path d="M248.3 309.4h0M259.2 292.5h0" stroke="#0c2cff" stroke-width="7.0"/><path d="M257.0 271.7h0" stroke="#00009b" stroke-width="7.0"/><path d="M254.3 266.4h0M265.8 261.4h0M251.2 279.2h0M256.6 277.8h0M256.4 279.9h0M257.8 266.5h0" stroke="#0c2cff" stroke-width="7.0"/><path d="M251.3 263.0h0M266.6 256.7h0M257.6 279.7h0M255.6 263.9h0" stroke="#1c8cff" stroke-width="7.0"/><path d="M246.5 273.4h0M251.5 272.5h0M261.1 258.6h0" stroke="#0000c8" stroke-width="7.0"/><path d="M259.6 273.4h0M254.7 263.9h0M261.6 278.5h0M257.3 282.7h0" stroke="#0000c8" stroke-width="7.0"/><path d="M264.0 258.6h0M247.2 276.9h0M261.6 271.2h0M256.7 261.3h0" stroke="#0c2cff" stroke-width="7.0"/><path d="M254.9 270.6h0M263.3 265.5h0" stroke="#00009b" stroke-width="7.0"/><path d="M262.2 276.4h0M254.1 276.3h0M262.9 261.8h0M258.6 284.2h0" stroke="#1c8cff" stroke-width="7.0"/><path d="M258.1 262.3h0M260.7 265.0h0M250.6 280.3h0M251.9 264.2h0M263.0 268.9h0M250.0 265.4h0" stroke="#0000c8" stroke-width="7.0"/><path d="M254.8 277.8h0M261.9 266.8h0M259.7 279.4h0M268.9 255.5h0" stroke="#0c2cff" stroke-width="7.0"/><path d="M254.4 272.7h0M255.6 263.9h0M256.8 265.9h0M260.4 279.0h0" stroke="#1c8cff" stroke-width="7.0"/><path d="M258.6 268.6h0M250.3 275.6h0M256.7 273.4h0M250.4 268.6h0M251.7 270.7h0M267.7 256.1h0" stroke="#0c2cff" stroke-width="7.0"/><path d="M251.2 275.5h0" stroke="#00009b" stroke-width="7.0"/><path d="M257.9 275.9h0M262.2 273.6h0" stroke="#1c8cff" stroke-width="7.0"/><path d="M247.9 270.0h0" stroke="#0000c8" stroke-width="7.0"/><path d="M203.4 205.1h0" stroke="#00009b" stroke-width="7.0"/><path d="M215.5 214.7h0" stroke="#0000c8" stroke-width="7.0"/><path d="M213.4 216.4h0" stroke="#0c2cff" stroke-width="7.0"/><path d="M211.2 221.4h0" stroke="#00009b" stroke-width="7.0"/><path d="M204.1 224.9h0" stroke="#00009b" stroke-width="7.0"/><path d="M204.9 231.3h0" stroke="#1c8cff" stroke-width="7.0"/><path d="M197.1 242.7h0" stroke="#00009b" stroke-width="7.0"/><path d="M236.8 234.9h0" stroke="#00009b" stroke-width="7.0"/><path d="M238.9 239.1h0" stroke="#00009b" stroke-width="7.0"/><path d="M242.4 239.8h0" stroke="#00009b" stroke-width="7.0"/><path d="M237.5 242.0h0" stroke="#00009b" stroke-width="7.0"/><path d="M263.0 210.8h0" stroke="#00009b" stroke-width="7.0"/><path d="M263.0 236.3h0" stroke="#00009b" stroke-width="7.0"/><path d="M268.0 230.6h0" stroke="#00009b" stroke-width="7.0"/><path d="M270.1 246.2h0" stroke="#00009b" stroke-width="7.0"/><path d="M272.9 240.5h0" stroke="#00009b" stroke-width="7.0"/></g>
<g clip-path="url(#boxclip)"><use href="#states"/></g>
<text class="t tk" x="240.5" y="76.6" text-anchor="end">100</text>
<text class="t dg" x="245.9" y="69.8" text-anchor="middle">°</text>
<text class="t tk" x="252.4" y="76.6">W</text>
<text class="t tk" x="300.7" y="76.6" text-anchor="end">90</text>
<text class="t dg" x="306.1" y="69.8" text-anchor="middle">°</text>
<text class="t tk" x="313.5" y="76.6">W</text>
<text class="t tk" x="365.3" y="76.6" text-anchor="end">80</text>
<text class="t dg" x="370.7" y="69.8" text-anchor="middle">°</text>
<text class="t tk" x="377.4" y="76.6">W</text>
<text class="t tk" x="427.7" y="76.6" text-anchor="end">70</text>
<text class="t dg" x="433.1" y="69.8" text-anchor="middle">°</text>
<text class="t tk" x="440.7" y="76.6">W</text>
<text class="t tk" x="163.7" y="112.3" text-anchor="end">48</text>
<text class="t dg" x="167.9" y="104.0" text-anchor="middle">°</text>
<text class="t tk" x="175.0" y="112.3">N</text>
<text class="t tk" x="163.7" y="131.5" text-anchor="end">46</text>
<text class="t dg" x="167.9" y="123.2" text-anchor="middle">°</text>
<text class="t tk" x="175.0" y="131.5">N</text>
<text class="t tk" x="163.7" y="148.6" text-anchor="end">44</text>
<text class="t dg" x="167.9" y="140.3" text-anchor="middle">°</text>
<text class="t tk" x="175.0" y="148.6">N</text>
<text class="t tk" x="163.7" y="166.5" text-anchor="end">42</text>
<text class="t dg" x="167.9" y="158.2" text-anchor="middle">°</text>
<text class="t tk" x="175.0" y="166.5">N</text>
<text class="t tk" x="163.7" y="183.5" text-anchor="end">40</text>
<text class="t dg" x="167.9" y="175.2" text-anchor="middle">°</text>
<text class="t tk" x="175.0" y="183.5">N</text>
<text class="t tk" x="163.7" y="198.7" text-anchor="end">38</text>
<text class="t dg" x="167.9" y="190.4" text-anchor="middle">°</text>
<text class="t tk" x="175.0" y="198.7">N</text>
<text class="t tk" x="163.7" y="215.1" text-anchor="end">36</text>
<text class="t dg" x="167.9" y="206.8" text-anchor="middle">°</text>
<text class="t tk" x="175.0" y="215.1">N</text>
<text class="t tk" x="163.7" y="229.8" text-anchor="end">34</text>
<text class="t dg" x="167.9" y="221.5" text-anchor="middle">°</text>
<text class="t tk" x="175.0" y="229.8">N</text>
<text class="t tk" x="163.7" y="245.2" text-anchor="end">32</text>
<text class="t dg" x="167.9" y="236.9" text-anchor="middle">°</text>
<text class="t tk" x="175.0" y="245.2">N</text>
<text class="t tk" x="163.7" y="260.2" text-anchor="end">30</text>
<text class="t dg" x="167.9" y="251.9" text-anchor="middle">°</text>
<text class="t tk" x="175.0" y="260.2">N</text>
<text class="t tk" x="163.7" y="272.7" text-anchor="end">28</text>
<text class="t dg" x="167.9" y="264.4" text-anchor="middle">°</text>
<text class="t tk" x="175.0" y="272.7">N</text>
<text class="t tk" x="163.7" y="287.3" text-anchor="end">26</text>
<text class="t dg" x="167.9" y="279.0" text-anchor="middle">°</text>
<text class="t tk" x="175.0" y="287.3">N</text>
<text class="t tk" x="163.7" y="301.9" text-anchor="end">24</text>
<text class="t dg" x="167.9" y="293.6" text-anchor="middle">°</text>
<text class="t tk" x="175.0" y="301.9">N</text>
<text class="t tk" x="163.7" y="314.1" text-anchor="end">22</text>
<text class="t dg" x="167.9" y="305.8" text-anchor="middle">°</text>
<text class="t tk" x="175.0" y="314.1">N</text>
<rect x="441.6" y="95.8" width="22.9" height="214.3" fill="url(#jet)" stroke="#262626" stroke-width="1"/>
<text class="t cb" x="472.8" y="102.9">2</text>
<path d="M462.4 95.7h2" stroke="#262626" stroke-width="1"/>
<text class="t cb" x="472.8" y="156.8">1</text>
<path d="M462.4 149.6h2" stroke="#262626" stroke-width="1"/>
<text class="t cb" x="472.8" y="209.8">0</text>
<path d="M462.4 202.6h2" stroke="#262626" stroke-width="1"/>
<text class="t cb" x="472.8" y="264.2">-1</text>
<path d="M462.4 257.0h2" stroke="#262626" stroke-width="1"/>
<text class="t cb" x="472.8" y="317.3">-2</text>
<path d="M462.4 310.1h2" stroke="#262626" stroke-width="1"/>
<text class="t pt" x="308.0" y="340.7" text-anchor="middle" style="font-size:23.6px">SAT-RAP 700 hPa Temp (K)</text>
</g>
<g transform="translate(842.0 389.7)">
<g transform="translate(195.85 95.50) scale(1.00463 1.00893) translate(-196.00 -96.40)">
<rect x="196.0" y="96.4" width="233.4" height="212.8" fill="none" stroke="#262626" stroke-width="1"/>
<g fill="none" stroke-linecap="round"><path d="M249.8 97.5h0M239.2 121.0h0M255.2 103.4h0M229.4 136.3h0M218.4 101.7h0M257.9 95.8h0M230.9 98.8h0M234.0 113.6h0M215.6 106.5h0M245.4 102.4h0M257.3 128.2h0M228.2 107.7h0" stroke="#ee1200" stroke-width="7.0"/><path d="M255.2 95.7h0M246.0 124.6h0M236.8 140.1h0M234.8 122.8h0M244.2 133.7h0M233.3 133.9h0M252.5 114.1h0M235.1 107.2h0M223.2 135.1h0M243.2 122.3h0M238.1 140.4h0M258.0 113.5h0M216.2 114.5h0M234.0 138.7h0M252.5 108.4h0M252.7 95.9h0M216.7 123.2h0M258.6 108.8h0M248.7 132.4h0M245.1 96.6h0M252.5 105.2h0" stroke="#ff7a00" stroke-width="7.0"/><path d="M221.5 127.7h0M221.0 104.8h0M217.6 103.6h0M258.7 104.1h0M260.9 125.3h0M248.4 130.2h0M219.1 111.9h0M227.2 140.6h0M225.8 108.7h0M245.5 141.2h0M220.6 99.0h0M235.0 116.4h0" stroke="#ffb000" stroke-width="7.0"/><path d="M236.1 134.9h0M240.4 139.1h0M220.5 98.2h0M232.8 145.2h0M238.3 122.2h0M227.7 116.3h0M225.6 147.9h0M224.8 115.8h0M225.8 97.4h0M225.3 146.8h0M246.9 107.0h0M225.2 122.8h0M230.9 120.9h0" stroke="#2fe0f0" stroke-width="7.0"/><path d="M249.6 128.0h0M220.9 131.1h0M235.1 98.4h0M221.1 94.7h0M245.6 118.6h0M231.9 113.8h0M255.5 123.0h0M217.5 95.0h0M227.9 131.2h0" stroke="#f2f01e" stroke-width="7.0"/><path d="M237.5 101.0h0M249.4 105.4h0M253.3 135.9h0" stroke="#8e0000" stroke-width="7.0"/><path d="M223.6 108.9h0M218.9 148.8h0M247.5 109.7h0M236.9 119.1h0" stroke="#84fc7c" stroke-width="7.0"/><path d="M225.3 102.4h0M219.3 131.9h0M225.9 118.8h0M222.3 137.5h0" stroke="#8e0000" stroke-width="7.0"/><path d="M231.2 139.9h0M247.6 101.0h0M226.5 120.1h0M234.7 144.2h0M245.0 126.8h0M232.4 95.3h0M227.5 95.5h0M255.4 126.0h0" stroke="#ffb000" stroke-width="7.0"/><path d="M242.7 108.3h0M233.8 131.2h0M230.3 145.2h0M256.4 108.1h0M253.0 114.9h0M216.8 132.7h0M259.5 134.8h0M245.5 129.7h0M231.7 108.4h0M255.6 98.3h0M251.2 109.5h0M261.5 114.6h0M225.0 129.7h0" stroke="#ee1200" stroke-width="7.0"/><path d="M257.7 109.1h0M251.7 101.2h0M239.5 143.8h0M232.0 105.8h0M244.7 110.7h0M248.7 123.6h0M222.0 146.1h0M242.3 119.3h0" stroke="#84fc7c" stroke-width="7.0"/><path d="M236.7 107.5h0M238.0 142.7h0M238.3 102.1h0M239.0 135.5h0M232.5 100.5h0M220.6 123.2h0M258.3 119.6h0M218.6 145.8h0M255.8 121.6h0M230.3 144.4h0M218.3 135.7h0M225.0 119.5h0M216.8 97.2h0M219.2 99.3h0M230.8 110.2h0M233.0 125.9h0M236.8 127.0h0M222.5 114.9h0M227.5 125.7h0M217.7 127.1h0M221.2 102.1h0M217.2 147.8h0M258.6 129.5h0M236.4 105.9h0M220.9 116.6h0" stroke="#ff7a00" stroke-width="7.0"/><path d="M232.9 110.5h0M217.5 140.7h0M248.9 99.5h0M258.1 136.4h0M239.6 116.0h0M222.7 124.2h0M260.8 99.5h0" stroke="#2fe0f0" stroke-width="7.0"/><path d="M231.8 138.4h0M239.7 123.9h0M233.6 102.2h0M246.9 116.6h0M233.6 142.8h0M252.0 117.6h0M232.3 98.2h0M236.9 127.2h0M229.7 123.4h0" stroke="#f2f01e" stroke-width="7.0"/><path d="M235.6 135.0h0M229.4 130.2h0M241.2 132.6h0M236.5 139.3h0M233.6 106.2h0M237.8 132.4h0M251.5 128.6h0M261.2 129.9h0M236.1 132.0h0M221.8 125.7h0M250.4 101.3h0M239.2 113.9h0M249.8 134.7h0" stroke="#ee1200" stroke-width="7.0"/><path d="M248.7 119.9h0M217.3 113.4h0M221.6 121.0h0M238.2 116.9h0M223.4 96.9h0M241.5 137.6h0M237.7 98.3h0" stroke="#8e0000" stroke-width="7.0"/><path d="M223.6 138.8h0M223.0 145.0h0M232.8 103.0h0" stroke="#84fc7c" stroke-width="7.0"/><path d="M245.0 105.7h0M240.1 116.5h0M252.1 120.3h0M235.0 119.7h0M229.3 112.9h0M224.8 131.7h0M250.8 100.4h0M223.6 99.5h0M244.1 119.2h0M247.9 139.5h0M239.9 127.2h0M229.5 96.7h0M242.9 109.6h0" stroke="#ffb000" stroke-width="7.0"/><path d="M218.3 126.1h0M243.6 113.4h0M245.9 125.2h0M239.4 98.1h0M239.6 131.0h0M259.9 118.9h0M222.3 108.7h0M221.2 137.6h0M258.5 102.1h0M252.0 135.6h0M245.6 135.8h0M245.9 126.9h0M251.0 94.9h0M240.1 113.3h0M252.1 129.6h0M221.8 147.7h0M229.0 103.4h0M257.1 118.3h0M226.1 138.3h0" stroke="#ff7a00" stroke-width="7.0"/><path d="M243.6 142.8h0M228.5 99.5h0M245.9 112.8h0M228.3 136.9h0M216.3 130.7h0M232.2 143.1h0M220.5 108.4h0M253.2 105.9h0M222.7 114.1h0M249.7 115.5h0M216.1 125.9h0M254.8 138.6h0" stroke="#2fe0f0" stroke-width="7.0"/><path d="M241.8 132.3h0M245.6 132.4h0M221.9 100.7h0M253.9 131.4h0M241.8 127.5h0M226.1 111.6h0M216.6 137.3h0" stroke="#f2f01e" stroke-width="7.0"/><path d="M224.8 143.5h0M234.1 137.1h0M260.5 122.7h0M232.0 129.3h0M237.8 115.0h0M232.3 118.7h0M219.0 114.4h0M221.1 142.8h0M224.1 134.2h0M231.3 125.3h0M239.3 104.7h0M251.2 108.1h0M228.6 110.8h0M258.8 98.5h0M216.9 104.0h0M254.8 112.1h0M215.8 119.2h0" stroke="#ff7a00" stroke-width="7.0"/><path d="M255.5 109.5h0M255.2 116.6h0M224.1 111.3h0M230.0 127.6h0M254.3 134.3h0M240.0 95.7h0M227.8 118.1h0" stroke="#2fe0f0" stroke-width="7.0"/><path d="M247.4 126.5h0M241.3 116.1h0M252.6 125.5h0M226.8 134.8h0" stroke="#8e0000" stroke-width="7.0"/><path d="M230.1 134.4h0M223.4 125.4h0M246.8 100.2h0M216.6 146.8h0M259.5 136.8h0" stroke="#84fc7c" stroke-width="7.0"/><path d="M258.3 124.2h0M228.4 146.2h0M218.5 109.4h0M223.1 94.5h0M219.6 119.6h0M259.6 94.6h0M252.3 122.3h0" stroke="#f2f01e" stroke-width="7.0"/><path d="M248.1 139.9h0M239.8 107.1h0M231.1 123.3h0M223.3 103.5h0M223.5 141.5h0M221.0 134.3h0M241.6 100.0h0M251.4 111.5h0M231.8 116.5h0M229.0 139.6h0M250.5 118.5h0M242.2 103.3h0M245.8 94.8h0M216.2 144.4h0M256.8 132.3h0" stroke="#ffb000" stroke-width="7.0"/><path d="M257.4 115.1h0M251.4 137.5h0M223.7 118.7h0M243.5 126.6h0M239.1 109.7h0M247.5 98.3h0M218.5 127.9h0M234.3 129.5h0M228.9 103.6h0M234.1 114.9h0M243.4 106.2h0M220.5 141.6h0M257.2 95.6h0M235.7 109.6h0M259.1 128.0h0M216.5 109.0h0M242.7 118.3h0M244.4 140.1h0" stroke="#ee1200" stroke-width="7.0"/><path d="M228.9 99.0h0" stroke="#0c2cff" stroke-width="7.0"/><path d="M222.4 100.4h0M235.4 105.4h0M224.3 107.6h0" stroke="#1c8cff" stroke-width="7.0"/><path d="M222.7 97.8h0M226.7 106.2h0" stroke="#2fe0f0" stroke-width="7.0"/><path d="M227.2 101.9h0M233.5 104.6h0" stroke="#1c8cff" stroke-width="7.0"/><path d="M220.6 97.8h0M232.5 99.8h0M220.6 106.2h0" stroke="#2fe0f0" stroke-width="7.0"/><path d="M219.3 102.6h0" stroke="#0c2cff" stroke-width="7.0"/><path d="M228.3 104.1h0M224.7 102.3h0" stroke="#1c8cff" stroke-width="7.0"/><path d="M228.7 97.8h0M226.3 98.8h0" stroke="#0c2cff" stroke-width="7.0"/><path d="M233.6 103.0h0M221.4 103.4h0" stroke="#2fe0f0" stroke-width="7.0"/><path d="M229.8 101.4h0" stroke="#1c8cff" stroke-width="7.0"/><path d="M224.3 105.4h0" stroke="#0c2cff" stroke-width="7.0"/><path d="M206.8 101.8h0M195.0 108.0h0M211.6 122.7h0" stroke="#ff7a00" stroke-width="7.0"/><path d="M204.4 113.0h0M200.0 125.5h0" stroke="#00009b" stroke-width="7.0"/><path d="M208.2 102.3h0M206.2 99.1h0" stroke="#0c2cff" stroke-width="7.0"/><path d="M202.3 104.2h0M203.8 126.4h0M197.3 108.7h0M206.0 129.4h0" stroke="#1c8cff" stroke-width="7.0"/><path d="M199.2 111.0h0M199.8 99.0h0M207.6 105.6h0M203.4 116.5h0" stroke="#2fe0f0" stroke-width="7.0"/><path d="M212.9 112.5h0M208.1 112.3h0M212.7 118.3h0M200.7 114.0h0" stroke="#2fe0f0" stroke-width="7.0"/><path d="M211.7 108.1h0M204.5 125.3h0M210.5 118.7h0M209.1 117.6h0" stroke="#0c2cff" stroke-width="7.0"/><path d="M210.7 111.0h0M206.8 120.1h0M197.9 121.2h0" stroke="#1c8cff" stroke-width="7.0"/><path d="M210.8 103.8h0M197.7 109.3h0M208.7 105.6h0" stroke="#00009b" stroke-width="7.0"/><path d="M208.8 108.7h0" stroke="#ff7a00" stroke-width="7.0"/><path d="M210.5 129.6h0M201.7 115.2h0" stroke="#2fe0f0" stroke-width="7.0"/><path d="M195.4 113.4h0M202.5 109.0h0M205.3 109.1h0M203.2 122.5h0" stroke="#1c8cff" stroke-width="7.0"/><path d="M200.3 124.6h0M200.0 115.8h0" stroke="#ff7a00" stroke-width="7.0"/><path d="M207.1 109.9h0" stroke="#0c2cff" stroke-width="7.0"/><path d="M204.3 98.8h0M195.0 121.6h0M196.8 105.1h0M194.3 102.6h0M212.1 98.6h0M209.6 124.5h0" stroke="#00009b" stroke-width="7.0"/><path d="M197.8 120.9h0M196.7 118.2h0M206.5 123.6h0" stroke="#1c8cff" stroke-width="7.0"/><path d="M204.0 100.3h0" stroke="#0c2cff" stroke-width="7.0"/><path d="M197.4 130.1h0" stroke="#ff7a00" stroke-width="7.0"/><path d="M203.1 119.8h0M203.7 104.7h0M195.4 118.3h0M197.4 100.6h0" stroke="#00009b" stroke-width="7.0"/><path d="M195.0 129.4h0M213.1 120.9h0" stroke="#2fe0f0" stroke-width="7.0"/><path d="M203.3 141.4h0M207.2 143.1h0M202.7 160.9h0" stroke="#f2f01e" stroke-width="7.0"/><path d="M209.1 134.8h0M204.2 164.6h0" stroke="#ff7a00" stroke-width="7.0"/><path d="M197.8 143.9h0M193.9 141.3h0" stroke="#ee1200" stroke-width="7.0"/><path d="M214.5 145.3h0M199.5 165.1h0" stroke="#84fc7c" stroke-width="7.0"/><path d="M202.1 163.5h0M203.4 137.4h0M205.6 147.4h0M205.3 151.7h0M209.2 146.5h0M200.7 146.9h0M201.9 151.1h0M213.6 138.6h0M197.6 139.2h0M195.8 158.8h0M200.7 155.7h0" stroke="#2fe0f0" stroke-width="7.0"/><path d="M207.0 137.8h0" stroke="#1c8cff" stroke-width="7.0"/><path d="M193.6 158.2h0M197.5 156.5h0" stroke="#ff7a00" stroke-width="7.0"/><path d="M212.5 146.2h0M196.1 145.8h0M203.3 136.0h0" stroke="#1c8cff" stroke-width="7.0"/><path d="M214.5 136.6h0M196.9 146.3h0M209.9 148.0h0" stroke="#84fc7c" stroke-width="7.0"/><path d="M195.7 150.2h0M197.3 151.5h0M194.5 142.7h0M196.8 136.9h0M210.0 151.0h0M205.1 148.2h0M207.8 151.7h0" stroke="#f2f01e" stroke-width="7.0"/><path d="M202.6 150.5h0M212.5 134.8h0M208.1 161.6h0M212.3 138.8h0M204.5 154.4h0M206.2 137.2h0" stroke="#2fe0f0" stroke-width="7.0"/><path d="M201.5 161.2h0M200.3 134.8h0M198.1 161.4h0" stroke="#1c8cff" stroke-width="7.0"/><path d="M205.7 140.6h0M208.4 159.5h0M194.0 152.2h0" stroke="#ff7a00" stroke-width="7.0"/><path d="M205.9 160.5h0M206.1 142.7h0M198.7 148.4h0M207.8 156.7h0M209.2 141.5h0M204.2 145.5h0" stroke="#84fc7c" stroke-width="7.0"/><path d="M213.7 148.6h0M204.2 156.2h0M208.8 155.1h0M202.5 153.2h0" stroke="#f2f01e" stroke-width="7.0"/><path d="M211.1 155.5h0M198.7 145.0h0M199.6 153.8h0M195.5 161.1h0M193.8 154.3h0" stroke="#2fe0f0" stroke-width="7.0"/><path d="M201.3 144.2h0" stroke="#ff7a00" stroke-width="7.0"/><path d="M203.8 161.5h0M198.9 140.7h0M210.4 145.2h0M194.4 163.3h0M205.9 138.2h0" stroke="#84fc7c" stroke-width="7.0"/><path d="M195.8 163.9h0M212.1 155.0h0M197.5 153.3h0" stroke="#1c8cff" stroke-width="7.0"/><path d="M213.9 140.9h0" stroke="#ee1200" stroke-width="7.0"/><path d="M208.7 134.1h0M202.5 141.7h0M198.4 139.3h0" stroke="#2fe0f0" stroke-width="7.0"/><path d="M200.0 160.4h0M195.5 158.1h0M196.4 135.1h0M212.2 150.3h0" stroke="#f2f01e" stroke-width="7.0"/><path d="M264.6 102.1h0M265.9 95.8h0M268.7 114.1h0" stroke="#8e0000" stroke-width="7.0"/><path d="M298.0 98.2h0M263.7 101.4h0M277.3 111.5h0M296.6 95.5h0M263.0 110.0h0M290.1 114.2h0M278.4 135.6h0M277.2 112.6h0M296.1 117.1h0M294.7 120.1h0M271.4 100.5h0" stroke="#f2f01e" stroke-width="7.0"/><path d="M278.8 128.4h0M290.9 121.5h0" stroke="#ee1200" stroke-width="7.0"/><path d="M279.4 130.8h0M291.1 107.0h0M282.2 100.7h0M281.7 138.6h0M292.3 95.0h0M275.2 131.0h0M292.2 132.9h0M290.3 129.6h0M275.3 117.8h0M263.6 108.2h0M289.4 109.3h0M293.3 119.1h0" stroke="#2fe0f0" stroke-width="7.0"/><path d="M274.4 121.8h0M266.5 137.3h0M271.5 129.0h0" stroke="#1c8cff" stroke-width="7.0"/><path d="M292.4 114.1h0M275.6 105.5h0M278.6 107.8h0M297.1 103.5h0" stroke="#ff7a00" stroke-width="7.0"/><path d="M271.9 118.3h0M282.1 125.6h0M294.5 137.1h0M272.3 116.6h0M271.7 130.5h0M286.1 109.7h0M284.3 113.7h0M284.8 122.7h0M268.1 114.0h0M272.6 110.0h0M268.8 103.3h0" stroke="#84fc7c" stroke-width="7.0"/><path d="M280.0 104.3h0M284.3 115.6h0M266.2 113.6h0M286.3 135.3h0M281.6 116.3h0M269.1 137.8h0M289.1 95.5h0M294.0 101.3h0M295.8 101.0h0" stroke="#4ff0b0" stroke-width="7.0"/><path d="M298.1 136.8h0M262.4 126.9h0M288.1 98.3h0M263.5 125.5h0M286.2 96.0h0M270.7 101.1h0M286.9 103.7h0M277.1 135.4h0M263.1 97.9h0M293.7 124.7h0M281.3 104.4h0M294.8 131.7h0M262.7 134.2h0M265.8 123.9h0M270.9 137.9h0M295.2 133.1h0" stroke="#f2f01e" stroke-width="7.0"/><path d="M262.7 126.4h0M279.3 123.0h0M265.8 104.8h0M273.2 132.3h0M263.1 118.0h0M296.0 102.1h0M295.5 112.4h0M283.1 119.0h0M272.8 106.2h0" stroke="#4ff0b0" stroke-width="7.0"/><path d="M269.0 104.1h0M288.5 133.4h0M282.1 130.6h0M278.6 110.2h0M275.4 94.6h0M291.3 110.2h0" stroke="#2fe0f0" stroke-width="7.0"/><path d="M282.3 98.6h0M290.2 122.6h0" stroke="#ee1200" stroke-width="7.0"/><path d="M263.8 110.9h0M271.6 98.0h0M297.5 121.3h0M274.4 136.9h0M283.2 119.1h0M279.2 96.5h0M290.2 139.2h0M292.9 97.3h0M288.3 141.6h0" stroke="#84fc7c" stroke-width="7.0"/><path d="M272.2 133.2h0M276.1 122.3h0M269.7 136.4h0M296.8 124.8h0M292.5 101.1h0M282.4 111.3h0" stroke="#ff7a00" stroke-width="7.0"/><path d="M280.6 115.6h0M284.7 98.5h0M273.4 98.1h0M297.4 129.0h0M273.8 112.3h0M269.9 95.4h0" stroke="#1c8cff" stroke-width="7.0"/><path d="M286.6 125.0h0" stroke="#8e0000" stroke-width="7.0"/><path d="M275.3 101.9h0M295.4 115.5h0M267.0 129.7h0M290.4 113.1h0M270.7 104.3h0M266.1 117.5h0" stroke="#4ff0b0" stroke-width="7.0"/><path d="M264.7 127.0h0M288.4 117.1h0M289.1 102.6h0M275.6 106.1h0M293.8 111.0h0M263.8 113.6h0M294.9 107.9h0M284.7 129.6h0" stroke="#f2f01e" stroke-width="7.0"/><path d="M275.7 99.1h0M296.1 141.4h0M284.8 134.4h0M291.2 136.3h0M264.6 120.6h0M268.6 97.8h0M269.1 129.5h0M269.1 121.9h0M267.0 97.1h0M278.7 118.8h0M294.2 104.1h0M276.7 137.3h0" stroke="#84fc7c" stroke-width="7.0"/><path d="M294.1 124.0h0M287.1 137.0h0M279.1 100.3h0M271.6 108.7h0" stroke="#1c8cff" stroke-width="7.0"/><path d="M292.3 140.3h0M288.3 108.0h0M262.1 114.8h0M266.4 111.2h0" stroke="#ff7a00" stroke-width="7.0"/><path d="M278.0 116.0h0M286.1 138.0h0M268.5 134.6h0M283.2 96.3h0M274.3 134.0h0M269.4 124.6h0M281.9 106.7h0M280.5 121.8h0M279.7 129.8h0M291.2 125.7h0M286.5 121.7h0M281.3 98.0h0M283.5 102.4h0M288.0 121.8h0" stroke="#2fe0f0" stroke-width="7.0"/><path d="M270.3 106.5h0M268.7 134.9h0M290.4 131.4h0M275.3 95.8h0M266.8 132.2h0" stroke="#8e0000" stroke-width="7.0"/><path d="M288.3 112.1h0M279.5 133.5h0" stroke="#ee1200" stroke-width="7.0"/><path d="M297.0 111.2h0M265.7 106.7h0M291.2 133.2h0M292.5 104.5h0M272.4 122.0h0M272.3 127.0h0M285.9 141.3h0M263.3 114.9h0" stroke="#ff7a00" stroke-width="7.0"/><path d="M294.1 95.0h0M268.4 121.3h0M286.1 127.0h0M277.1 126.1h0M269.5 122.4h0M297.7 116.2h0M263.5 121.7h0M297.3 139.4h0M297.4 129.9h0M262.1 100.0h0M293.6 127.5h0" stroke="#84fc7c" stroke-width="7.0"/><path d="M289.3 131.5h0M283.7 136.8h0M284.4 139.6h0M282.9 106.1h0M280.6 125.9h0M280.0 117.6h0M271.3 114.0h0M293.2 107.6h0" stroke="#2fe0f0" stroke-width="7.0"/><path d="M296.4 122.5h0" stroke="#8e0000" stroke-width="7.0"/><path d="M274.0 94.5h0M276.6 101.6h0M268.4 125.6h0M289.0 96.5h0M283.5 129.7h0M288.1 124.6h0M264.4 130.2h0M270.2 117.6h0M272.4 112.3h0M286.8 123.4h0M266.5 99.4h0M291.8 114.0h0M274.3 127.4h0" stroke="#f2f01e" stroke-width="7.0"/><path d="M286.0 101.2h0M276.2 119.1h0M280.7 135.0h0M263.6 100.5h0M295.6 142.0h0M280.2 119.9h0" stroke="#4ff0b0" stroke-width="7.0"/><path d="M281.3 113.2h0M290.6 118.1h0M292.0 139.1h0M288.0 106.3h0" stroke="#1c8cff" stroke-width="7.0"/><path d="M271.7 111.3h0" stroke="#ee1200" stroke-width="7.0"/><path d="M298.7 102.2h0" stroke="#2fe0f0" stroke-width="7.0"/><path d="M339.5 95.8h0M326.0 96.8h0M317.9 95.6h0" stroke="#84fc7c" stroke-width="7.0"/><path d="M313.1 108.4h0M318.1 102.2h0M324.0 108.7h0M307.5 106.7h0M361.7 96.8h0M306.4 105.3h0M309.0 111.5h0" stroke="#f2f01e" stroke-width="7.0"/><path d="M324.5 104.5h0M351.1 97.6h0M308.7 107.7h0M336.5 99.5h0M332.8 97.4h0M354.3 101.0h0M354.0 97.6h0M355.2 96.2h0M312.2 102.1h0M344.9 99.4h0M380.9 94.0h0M327.7 104.0h0M361.5 102.8h0M302.0 110.5h0M303.9 102.6h0" stroke="#ee1200" stroke-width="7.0"/><path d="M345.5 94.2h0M340.4 102.9h0M373.5 93.0h0M360.1 100.6h0M302.6 97.0h0" stroke="#8e0000" stroke-width="7.0"/><path d="M377.5 94.3h0M318.0 98.1h0M343.4 104.0h0" stroke="#ffb000" stroke-width="7.0"/><path d="M356.2 96.1h0M299.0 98.2h0M338.6 97.6h0M376.3 95.2h0M373.1 99.2h0M301.8 103.5h0M327.7 104.6h0M316.1 98.6h0" stroke="#ff7a00" stroke-width="7.0"/><path d="M331.6 101.6h0M320.0 102.1h0M337.6 108.3h0M346.9 94.7h0M303.3 108.6h0M358.6 102.9h0M337.5 104.8h0M320.3 109.6h0M299.7 109.9h0M354.5 103.0h0" stroke="#ff7a00" stroke-width="7.0"/><path d="M313.1 96.1h0M313.5 101.9h0M346.0 94.3h0M369.7 106.0h0" stroke="#2fe0f0" stroke-width="7.0"/><path d="M322.9 101.6h0M341.7 93.0h0M333.2 94.3h0" stroke="#ffb000" stroke-width="7.0"/><path d="M322.5 111.2h0M332.8 108.9h0M314.4 95.5h0M314.1 104.7h0M319.0 110.2h0M320.4 95.0h0M305.2 99.9h0M304.9 95.4h0" stroke="#8e0000" stroke-width="7.0"/><path d="M331.5 96.8h0M328.2 110.2h0M341.1 98.7h0M374.1 105.0h0M302.5 107.7h0M334.6 108.7h0M321.7 97.7h0M329.1 98.6h0M371.5 104.7h0" stroke="#ee1200" stroke-width="7.0"/><path d="M357.6 101.3h0" stroke="#84fc7c" stroke-width="7.0"/><path d="M328.8 101.0h0M318.8 94.4h0M314.3 105.7h0M320.8 104.8h0M309.7 95.3h0M323.3 107.8h0M310.5 103.6h0" stroke="#f2f01e" stroke-width="7.0"/><path d="M379.1 97.2h0M300.7 94.6h0M333.2 102.6h0M350.1 103.5h0M326.5 93.8h0M336.0 95.5h0M377.7 100.6h0M346.5 101.1h0M311.7 105.8h0M377.2 102.0h0" stroke="#f2f01e" stroke-width="7.0"/><path d="M319.9 110.6h0M370.2 98.8h0M371.7 95.9h0M304.3 97.6h0M316.9 107.0h0M360.7 96.3h0" stroke="#ee1200" stroke-width="7.0"/><path d="M364.8 101.2h0M365.8 104.5h0M303.1 105.5h0M316.3 104.2h0M371.3 102.7h0" stroke="#8e0000" stroke-width="7.0"/><path d="M327.0 101.8h0M368.5 104.0h0M338.0 94.1h0M301.8 97.2h0" stroke="#2fe0f0" stroke-width="7.0"/><path d="M369.6 100.9h0" stroke="#84fc7c" stroke-width="7.0"/><path d="M372.6 99.3h0M368.4 96.7h0M303.9 101.7h0M363.7 94.2h0" stroke="#ffb000" stroke-width="7.0"/><path d="M323.7 104.8h0M356.7 93.5h0M331.9 102.9h0M311.2 109.6h0M349.0 97.4h0M352.1 102.7h0M299.7 108.2h0M306.6 102.2h0M341.4 100.2h0M333.8 109.8h0M322.6 103.4h0M333.4 98.9h0" stroke="#ff7a00" stroke-width="7.0"/><path d="M346.7 99.6h0" stroke="#2fe0f0" stroke-width="7.0"/><path d="M344.8 99.0h0M364.6 104.8h0M333.4 104.9h0M330.3 105.1h0M359.8 98.3h0M364.3 101.7h0M308.4 97.3h0M375.9 100.9h0" stroke="#ff7a00" stroke-width="7.0"/><path d="M315.8 111.1h0M342.4 94.3h0M312.4 98.0h0M350.0 97.1h0M373.1 103.4h0M331.3 111.2h0M324.6 94.4h0M332.2 93.8h0M377.0 97.0h0" stroke="#ee1200" stroke-width="7.0"/><path d="M317.9 99.5h0M311.1 98.1h0M299.9 93.0h0M316.4 108.1h0M306.4 93.6h0M300.6 105.2h0M365.2 96.8h0M338.6 99.4h0" stroke="#f2f01e" stroke-width="7.0"/><path d="M367.3 96.5h0M329.7 109.3h0M327.3 95.7h0" stroke="#ffb000" stroke-width="7.0"/><path d="M350.0 99.6h0M317.6 93.5h0M336.0 103.6h0M313.2 110.8h0M344.5 94.3h0M337.0 107.2h0M329.9 96.2h0" stroke="#8e0000" stroke-width="7.0"/><path d="M307.6 100.7h0M367.7 96.8h0" stroke="#84fc7c" stroke-width="7.0"/><path d="M352.5 123.0h0" stroke="#f2f01e" stroke-width="7.0"/><path d="M362.6 115.2h0M347.1 145.4h0M353.9 154.4h0" stroke="#84fc7c" stroke-width="7.0"/><path d="M366.2 124.5h0M357.2 112.9h0M362.0 135.5h0M368.3 117.3h0M373.3 110.7h0M348.6 115.5h0M364.3 120.0h0M351.0 118.0h0" stroke="#4ff0b0" stroke-width="7.0"/><path d="M352.5 113.8h0M363.7 107.5h0M361.8 121.3h0M351.7 140.0h0M357.7 144.7h0M360.6 105.9h0" stroke="#2fe0f0" stroke-width="7.0"/><path d="M356.6 119.1h0M348.9 118.4h0" stroke="#0c2cff" stroke-width="7.0"/><path d="M351.1 130.4h0M354.5 137.1h0M366.3 126.1h0M359.1 116.7h0M360.6 109.7h0M347.2 122.8h0M348.7 104.8h0M357.6 143.1h0M360.1 133.1h0M358.6 138.2h0" stroke="#1c8cff" stroke-width="7.0"/><path d="M350.1 151.9h0M353.9 118.5h0M373.3 107.6h0M369.0 114.9h0M358.0 129.0h0M355.0 147.7h0M360.8 126.9h0M352.2 106.8h0M368.5 109.9h0M350.3 127.5h0M364.9 120.6h0M365.5 127.1h0M357.0 110.1h0M347.8 110.7h0M349.7 115.5h0" stroke="#1c8cff" stroke-width="7.0"/><path d="M361.6 136.6h0M359.3 140.6h0M364.5 113.4h0" stroke="#4ff0b0" stroke-width="7.0"/><path d="M360.3 132.6h0" stroke="#84fc7c" stroke-width="7.0"/><path d="M350.8 149.0h0M348.5 112.3h0M358.9 114.5h0M356.5 149.2h0M350.8 155.2h0M351.6 146.0h0M370.0 112.0h0M362.9 128.4h0M353.1 146.7h0M347.4 148.0h0M353.2 110.3h0" stroke="#2fe0f0" stroke-width="7.0"/><path d="M355.9 127.1h0M354.9 134.8h0M364.3 116.5h0M358.9 130.9h0M352.6 124.1h0M349.4 108.8h0M354.4 121.5h0M354.2 138.1h0M363.4 124.4h0M369.3 115.9h0M359.2 111.9h0M351.8 132.9h0M356.1 115.9h0" stroke="#2fe0f0" stroke-width="7.0"/><path d="M359.6 128.4h0" stroke="#f2f01e" stroke-width="7.0"/><path d="M353.9 145.7h0M364.0 110.7h0M346.9 153.3h0M355.1 125.0h0M345.8 155.6h0M347.5 138.7h0M353.7 141.6h0M356.5 113.5h0" stroke="#1c8cff" stroke-width="7.0"/><path d="M357.8 135.3h0M349.4 154.7h0M355.0 129.2h0" stroke="#4ff0b0" stroke-width="7.0"/><path d="M359.5 119.9h0M350.7 141.6h0M348.4 129.2h0M352.0 126.6h0M352.5 151.0h0" stroke="#84fc7c" stroke-width="7.0"/><path d="M354.5 131.3h0M368.5 121.9h0M366.7 110.0h0M350.9 138.9h0" stroke="#0c2cff" stroke-width="7.0"/><path d="M349.8 131.3h0M359.0 124.4h0M348.4 121.2h0M357.9 139.5h0M358.7 105.7h0M365.4 113.8h0" stroke="#2fe0f0" stroke-width="7.0"/><path d="M354.9 109.7h0M355.9 141.5h0" stroke="#84fc7c" stroke-width="7.0"/><path d="M347.3 123.1h0M349.3 151.9h0M359.3 123.1h0" stroke="#f2f01e" stroke-width="7.0"/><path d="M351.8 116.8h0M354.5 140.7h0M357.8 124.5h0M360.8 111.1h0M352.7 133.7h0M363.3 122.2h0" stroke="#4ff0b0" stroke-width="7.0"/><path d="M361.3 133.9h0M351.5 107.5h0M347.1 135.3h0M366.0 109.5h0M353.5 114.8h0M354.8 150.3h0M351.6 153.9h0" stroke="#1c8cff" stroke-width="7.0"/><path d="M343.8 106.7h0M337.9 119.7h0M310.6 123.1h0M302.1 130.4h0M336.4 151.1h0M330.1 126.9h0M343.0 110.4h0" stroke="#4ff0b0" stroke-width="7.0"/><path d="M345.2 141.2h0M331.3 136.1h0M303.9 131.2h0" stroke="#1c8cff" stroke-width="7.0"/><path d="M328.1 138.2h0M308.0 118.8h0M299.4 142.2h0M308.2 124.0h0M316.5 129.4h0M339.6 154.2h0M326.0 126.5h0M325.1 120.8h0M305.1 113.3h0M333.7 140.9h0M308.3 114.6h0" stroke="#2fe0f0" stroke-width="7.0"/><path d="M301.7 141.3h0M334.4 112.0h0M301.8 120.5h0M343.6 150.1h0M314.5 128.4h0M340.1 135.0h0" stroke="#ff7a00" stroke-width="7.0"/><path d="M342.5 113.9h0M298.4 113.2h0M335.5 132.3h0M334.6 130.7h0M318.4 129.0h0M343.1 107.7h0M342.6 153.1h0M316.9 132.3h0M328.9 145.7h0M346.3 117.8h0M326.6 118.2h0M331.2 115.4h0M318.7 114.3h0M335.5 110.1h0" stroke="#84fc7c" stroke-width="7.0"/><path d="M338.3 109.0h0" stroke="#ffb000" stroke-width="7.0"/><path d="M304.2 129.7h0M342.4 141.9h0M334.6 145.8h0M315.8 116.4h0M310.2 132.1h0M342.8 118.6h0M346.4 122.3h0M346.0 131.3h0M299.4 119.7h0M345.4 152.0h0M315.7 112.9h0M329.1 133.5h0" stroke="#f2f01e" stroke-width="7.0"/><path d="M311.6 114.9h0M337.3 137.0h0M334.2 120.4h0M345.8 110.2h0M312.8 127.2h0M340.8 108.8h0M300.9 126.5h0M318.8 125.5h0M320.9 116.3h0M327.9 119.6h0M327.2 147.8h0M310.0 136.6h0" stroke="#2fe0f0" stroke-width="7.0"/><path d="M329.4 113.0h0M336.7 122.9h0M308.3 128.9h0M338.7 138.7h0M334.5 134.1h0M311.3 123.0h0M312.5 132.4h0M320.7 120.1h0M305.0 119.9h0M330.7 147.9h0M304.8 134.7h0M332.8 145.9h0" stroke="#f2f01e" stroke-width="7.0"/><path d="M308.9 125.6h0M344.2 141.4h0M309.0 117.8h0M301.6 135.2h0M331.3 138.6h0M315.5 123.4h0M331.9 120.0h0M322.2 128.4h0M323.5 127.4h0M319.0 128.4h0M305.3 116.0h0M325.8 134.4h0M314.4 120.1h0" stroke="#84fc7c" stroke-width="7.0"/><path d="M341.9 123.3h0M342.9 123.4h0M316.4 119.5h0" stroke="#ffb000" stroke-width="7.0"/><path d="M327.0 144.2h0M321.8 125.4h0M345.6 148.3h0M341.5 114.4h0M342.3 135.4h0M301.9 123.6h0M334.5 150.1h0" stroke="#4ff0b0" stroke-width="7.0"/><path d="M338.3 126.2h0M302.3 116.8h0M329.5 129.1h0" stroke="#ff7a00" stroke-width="7.0"/><path d="M339.1 142.4h0M324.2 116.7h0M342.1 121.5h0M323.0 114.8h0" stroke="#1c8cff" stroke-width="7.0"/><path d="M303.9 128.6h0M332.3 150.1h0M335.6 124.3h0M345.3 145.7h0M317.3 117.9h0M303.1 123.1h0M336.1 126.5h0M328.3 154.7h0M312.9 125.7h0M337.0 155.2h0" stroke="#f2f01e" stroke-width="7.0"/><path d="M329.1 131.1h0M322.8 133.9h0M335.9 153.0h0M305.7 139.5h0" stroke="#4ff0b0" stroke-width="7.0"/><path d="M298.6 136.1h0M310.3 112.1h0M313.5 126.9h0M333.0 128.6h0M334.3 136.4h0M337.4 148.4h0M338.0 146.8h0" stroke="#ff7a00" stroke-width="7.0"/><path d="M338.1 122.3h0M334.0 141.9h0M334.2 117.9h0" stroke="#1c8cff" stroke-width="7.0"/><path d="M341.2 149.9h0M302.2 139.5h0M334.4 153.8h0M336.1 145.5h0" stroke="#ffb000" stroke-width="7.0"/><path d="M316.4 133.2h0M313.8 133.5h0M343.6 144.2h0M340.5 129.0h0M299.1 117.8h0M299.7 125.1h0M305.1 121.5h0M334.8 113.0h0M340.9 139.7h0M309.3 116.7h0M340.6 133.7h0M328.2 152.5h0M304.2 138.3h0M326.0 122.8h0M327.7 149.6h0" stroke="#84fc7c" stroke-width="7.0"/><path d="M330.9 141.8h0M313.0 117.0h0M332.3 139.9h0M345.9 119.7h0M343.5 138.1h0M305.7 138.2h0M332.9 146.7h0M344.7 130.2h0M317.3 113.6h0M336.1 114.2h0M326.3 123.6h0" stroke="#2fe0f0" stroke-width="7.0"/><path d="M343.6 144.0h0M305.7 127.5h0M326.8 129.3h0M322.6 131.0h0M336.9 129.4h0M308.4 122.1h0M307.0 133.5h0M299.2 120.5h0M336.8 117.4h0M309.8 129.5h0M316.4 120.4h0" stroke="#f2f01e" stroke-width="7.0"/><path d="M326.2 132.6h0M337.1 136.2h0M310.6 134.7h0M331.5 130.4h0M344.8 127.9h0M322.3 120.2h0M328.9 125.6h0" stroke="#1c8cff" stroke-width="7.0"/><path d="M301.7 112.6h0M336.9 123.5h0M327.2 139.1h0M341.4 138.8h0M301.7 119.5h0" stroke="#ff7a00" stroke-width="7.0"/><path d="M314.4 120.8h0M322.3 121.9h0M337.8 116.6h0M339.6 112.9h0M341.3 127.4h0M317.9 135.9h0" stroke="#4ff0b0" stroke-width="7.0"/><path d="M321.0 133.5h0M330.4 121.4h0M329.1 153.8h0M341.3 144.3h0" stroke="#ffb000" stroke-width="7.0"/><path d="M338.9 139.2h0M332.7 131.7h0M300.7 137.6h0M331.9 124.9h0M307.6 133.8h0M343.3 146.7h0M300.9 133.7h0M341.8 119.7h0" stroke="#84fc7c" stroke-width="7.0"/><path d="M326.2 113.9h0M339.2 130.8h0M337.1 142.5h0M323.6 131.4h0M328.3 116.5h0M302.7 113.1h0M300.3 111.0h0M340.9 117.8h0M333.5 123.1h0M312.0 114.2h0M331.6 113.2h0M345.5 135.3h0" stroke="#2fe0f0" stroke-width="7.0"/><path d="M321.6 144.4h0" stroke="#1c8cff" stroke-width="7.0"/><path d="M298.4 137.6h0M319.5 149.0h0M325.7 145.5h0" stroke="#0000c8" stroke-width="7.0"/><path d="M310.2 145.6h0M318.3 145.1h0M304.5 141.4h0" stroke="#0c2cff" stroke-width="7.0"/><path d="M324.2 153.8h0M300.1 141.6h0" stroke="#00009b" stroke-width="7.0"/><path d="M308.2 137.5h0" stroke="#1c8cff" stroke-width="7.0"/><path d="M319.0 146.0h0M300.2 138.8h0M315.2 145.2h0M299.8 138.3h0M308.7 143.0h0" stroke="#00009b" stroke-width="7.0"/><path d="M318.2 153.0h0M311.8 143.2h0M322.8 148.9h0" stroke="#0c2cff" stroke-width="7.0"/><path d="M305.9 146.4h0M300.5 144.4h0M305.6 144.0h0" stroke="#00009b" stroke-width="7.0"/><path d="M315.7 146.5h0" stroke="#0000c8" stroke-width="7.0"/><path d="M324.5 147.0h0M308.2 142.6h0M299.7 146.2h0" stroke="#0c2cff" stroke-width="7.0"/><path d="M315.1 140.4h0M322.8 151.7h0" stroke="#1c8cff" stroke-width="7.0"/><path d="M317.9 143.1h0M317.1 142.6h0M299.4 144.9h0" stroke="#00009b" stroke-width="7.0"/><path d="M317.0 149.5h0M309.5 140.7h0" stroke="#1c8cff" stroke-width="7.0"/><path d="M310.7 138.3h0" stroke="#0c2cff" stroke-width="7.0"/><path d="M323.9 143.4h0M304.8 140.5h0" stroke="#0000c8" stroke-width="7.0"/><path d="M339.1 153.5h0M344.2 149.9h0" stroke="#ee1200" stroke-width="7.0"/><path d="M345.9 156.8h0M341.2 155.1h0" stroke="#ffb000" stroke-width="7.0"/><path d="M350.5 153.7h0" stroke="#f2f01e" stroke-width="7.0"/><path d="M340.7 152.2h0M349.5 145.3h0M335.4 147.3h0M341.1 157.3h0" stroke="#ff7a00" stroke-width="7.0"/><path d="M339.7 151.6h0M342.1 148.8h0" stroke="#ee1200" stroke-width="7.0"/><path d="M338.8 156.9h0M343.0 152.8h0M342.5 160.9h0M348.3 155.4h0M338.3 147.9h0" stroke="#ff7a00" stroke-width="7.0"/><path d="M333.0 151.4h0M349.6 150.9h0" stroke="#ffb000" stroke-width="7.0"/><path d="M342.8 151.7h0M335.6 152.9h0M334.2 155.5h0M336.2 149.8h0" stroke="#ff7a00" stroke-width="7.0"/><path d="M350.0 149.0h0M338.3 160.1h0" stroke="#ffb000" stroke-width="7.0"/><path d="M336.5 160.9h0" stroke="#f2f01e" stroke-width="7.0"/><path d="M343.1 146.7h0M348.4 146.8h0" stroke="#ee1200" stroke-width="7.0"/><path d="M336.4 158.1h0M336.3 157.2h0M348.8 153.2h0M344.9 157.1h0" stroke="#f2f01e" stroke-width="7.0"/><path d="M348.1 158.9h0" stroke="#ff7a00" stroke-width="7.0"/><path d="M283.7 171.0h0M316.8 187.8h0M312.9 196.4h0M301.7 195.7h0M279.9 194.2h0M339.6 162.4h0M314.7 194.0h0M298.3 195.0h0M305.3 176.3h0M283.3 203.8h0M330.9 183.6h0M333.5 165.5h0" stroke="#ffb000" stroke-width="7.0"/><path d="M312.6 199.4h0M336.5 171.7h0M329.7 183.8h0M292.3 191.8h0M337.7 173.4h0" stroke="#ee1200" stroke-width="7.0"/><path d="M309.5 172.9h0M308.2 186.6h0M291.6 201.0h0M300.8 189.2h0M284.2 186.7h0M336.6 166.5h0" stroke="#2fe0f0" stroke-width="7.0"/><path d="M339.9 177.9h0M304.2 181.4h0M307.4 196.2h0M304.9 173.0h0M298.8 171.2h0M274.9 197.4h0M298.1 177.6h0M309.0 164.3h0M320.0 162.9h0M324.6 178.3h0M273.2 195.3h0M328.5 189.4h0M330.9 202.0h0M272.0 193.8h0M341.6 173.6h0M290.1 201.0h0M294.2 189.0h0M334.8 194.1h0M313.5 186.4h0M293.0 198.0h0M278.3 191.5h0M273.0 179.2h0M293.5 174.6h0M330.9 202.4h0M279.8 182.1h0M305.6 192.1h0M305.9 163.7h0M291.8 181.2h0M310.6 183.2h0M330.3 197.5h0M310.3 190.9h0" stroke="#f2f01e" stroke-width="7.0"/><path d="M331.6 198.3h0M313.9 179.8h0M331.8 165.7h0M307.2 175.4h0M301.7 204.3h0M304.4 195.1h0M279.7 202.0h0M322.8 187.5h0M293.0 188.2h0M323.3 191.9h0M290.6 177.6h0M318.3 165.5h0M319.4 200.0h0M292.1 170.3h0M327.1 170.1h0M274.5 176.2h0M290.8 170.8h0" stroke="#84fc7c" stroke-width="7.0"/><path d="M313.6 202.3h0M274.8 189.8h0M276.8 202.9h0M306.4 183.9h0M295.1 181.6h0M310.9 169.7h0M277.9 204.3h0M329.9 175.6h0M313.3 165.7h0M316.9 196.9h0M324.8 165.5h0M295.7 174.1h0M327.2 162.7h0M297.1 203.8h0M285.7 175.6h0" stroke="#ff7a00" stroke-width="7.0"/><path d="M291.1 202.8h0M344.7 165.3h0M294.4 180.5h0M311.4 186.4h0M293.7 204.5h0M321.4 170.3h0M341.8 163.7h0M289.6 170.8h0M311.4 183.3h0M310.7 178.9h0M316.0 170.8h0" stroke="#2fe0f0" stroke-width="7.0"/><path d="M344.6 168.5h0M282.0 196.0h0M286.1 197.9h0M318.5 173.5h0M281.7 197.6h0M284.0 202.7h0M321.1 201.1h0M302.7 175.2h0M317.7 201.3h0M331.0 166.1h0M316.6 198.6h0M299.8 181.0h0M320.8 181.8h0M333.6 191.1h0M301.3 170.0h0M322.7 196.6h0M325.9 180.1h0M343.8 165.8h0M316.3 175.7h0M289.3 186.7h0M316.3 191.3h0M305.9 187.5h0M317.6 192.7h0" stroke="#f2f01e" stroke-width="7.0"/><path d="M297.5 191.8h0M290.4 195.1h0M291.5 192.5h0M330.9 184.0h0M327.0 194.2h0M301.3 192.9h0M324.5 185.2h0M327.5 171.9h0M320.6 170.9h0M307.8 170.2h0M311.9 164.7h0M318.1 170.5h0M300.0 185.5h0M276.0 177.1h0M277.1 181.2h0M281.3 188.2h0" stroke="#ff7a00" stroke-width="7.0"/><path d="M287.4 200.0h0M295.0 201.4h0M288.7 183.6h0M292.9 192.4h0M282.7 179.8h0M336.7 176.1h0" stroke="#ee1200" stroke-width="7.0"/><path d="M284.0 193.1h0M332.7 189.3h0M306.0 180.6h0M294.6 196.9h0M289.4 179.2h0M279.2 173.6h0M331.8 169.5h0M283.7 190.2h0M280.0 179.7h0M280.5 198.3h0M337.0 168.9h0M276.1 181.1h0" stroke="#84fc7c" stroke-width="7.0"/><path d="M329.4 164.8h0M338.1 184.5h0M331.8 173.8h0M321.8 175.1h0M276.5 187.2h0M314.1 173.7h0M274.0 187.6h0M308.7 199.9h0M318.1 179.7h0M300.7 178.9h0M310.4 161.8h0M277.1 185.8h0M322.1 203.7h0M333.1 182.9h0M317.9 165.3h0M329.8 177.3h0M297.7 199.5h0M314.3 200.2h0" stroke="#ffb000" stroke-width="7.0"/><path d="M328.4 187.8h0M272.7 195.7h0M282.1 183.1h0M327.3 205.0h0M319.6 199.7h0M294.6 185.2h0M285.1 196.2h0M276.6 196.9h0M302.3 176.2h0M301.0 186.1h0M277.3 181.2h0M310.4 177.0h0M325.7 183.3h0M319.5 186.1h0M276.1 174.9h0M311.8 184.5h0" stroke="#84fc7c" stroke-width="7.0"/><path d="M287.7 197.5h0M339.9 169.7h0M319.1 172.1h0M279.7 175.4h0M287.5 192.3h0M286.6 183.8h0M293.4 186.5h0M273.0 190.2h0M337.7 164.5h0M316.6 185.9h0" stroke="#2fe0f0" stroke-width="7.0"/><path d="M335.6 174.1h0M295.7 169.2h0M303.7 192.6h0M340.7 174.6h0M273.2 185.5h0" stroke="#ee1200" stroke-width="7.0"/><path d="M324.6 192.3h0M280.2 178.8h0M313.0 168.6h0M277.5 173.0h0M333.7 172.4h0M323.6 179.0h0M292.9 172.1h0M336.2 181.3h0M299.9 174.2h0M307.0 204.6h0M313.9 176.5h0M305.8 182.2h0M281.3 176.3h0M289.8 191.7h0M293.8 176.9h0M342.5 167.4h0M284.4 200.1h0M326.0 178.2h0M324.5 200.3h0M315.0 186.3h0M277.5 201.5h0M287.1 203.0h0M309.0 198.1h0M332.6 180.1h0M280.2 191.6h0M304.5 169.4h0M313.5 172.6h0M286.4 181.5h0M311.5 178.0h0M327.0 190.3h0" stroke="#f2f01e" stroke-width="7.0"/><path d="M283.9 174.3h0M288.1 174.5h0M339.8 180.2h0M305.6 200.1h0M290.8 187.5h0M316.7 180.7h0M335.9 180.3h0M340.2 167.2h0M273.6 176.4h0M306.5 197.0h0M322.6 165.8h0M323.1 184.8h0M316.3 182.3h0M287.4 185.3h0M309.9 201.7h0M332.2 162.7h0" stroke="#ff7a00" stroke-width="7.0"/><path d="M300.9 204.0h0M330.4 195.3h0M275.0 201.9h0M279.6 188.0h0M328.6 173.3h0M326.5 167.6h0M304.8 189.1h0M318.8 203.7h0M303.5 184.1h0" stroke="#ffb000" stroke-width="7.0"/><path d="M291.7 196.5h0M323.7 165.4h0M319.2 178.7h0M334.6 182.6h0M321.2 186.7h0M331.7 166.7h0M303.7 171.2h0M298.1 196.9h0M320.6 194.5h0M310.0 174.1h0" stroke="#ff7a00" stroke-width="7.0"/><path d="M296.2 171.2h0M314.8 165.6h0M320.7 191.7h0M273.0 184.7h0M330.0 187.2h0M272.9 184.1h0M329.8 192.7h0M279.9 186.5h0M283.7 186.1h0M313.8 168.3h0M328.1 192.7h0M326.1 165.8h0M313.2 161.9h0M309.9 192.1h0M301.9 166.2h0M333.3 176.9h0M326.5 175.6h0M321.3 177.7h0" stroke="#84fc7c" stroke-width="7.0"/><path d="M284.2 173.4h0M312.6 191.9h0M318.5 170.3h0M336.0 176.5h0M309.9 166.2h0M311.2 203.2h0M299.6 188.4h0M346.2 165.1h0M298.3 188.0h0M303.0 198.6h0M332.0 187.8h0M312.5 192.3h0M336.9 186.6h0M288.7 172.9h0M277.0 192.9h0M291.1 198.0h0M329.8 180.8h0M274.1 198.9h0M295.9 191.9h0M323.1 197.1h0M288.8 186.6h0M325.1 170.9h0M309.3 194.2h0M287.5 190.9h0M318.3 194.3h0M329.8 199.5h0M305.8 166.9h0M284.5 176.3h0" stroke="#f2f01e" stroke-width="7.0"/><path d="M299.3 182.9h0M328.1 196.9h0M300.3 168.0h0M283.3 196.8h0M287.4 178.7h0M282.3 194.3h0M319.1 182.7h0M302.2 179.1h0M300.3 197.7h0M308.4 202.7h0M293.7 178.9h0M330.9 162.5h0M326.3 168.2h0" stroke="#ffb000" stroke-width="7.0"/><path d="M297.0 183.8h0M326.7 198.5h0M305.1 176.0h0M302.6 187.0h0M333.5 168.1h0M302.6 162.3h0M301.1 165.6h0M300.0 168.9h0" stroke="#ee1200" stroke-width="7.0"/><path d="M301.1 199.5h0M323.4 182.0h0M333.5 184.1h0M324.8 203.3h0M307.9 189.9h0M314.7 197.9h0M332.6 192.8h0M307.6 179.4h0" stroke="#2fe0f0" stroke-width="7.0"/><path d="M287.1 184.4L297.0 185.8L298.4 193.6L289.9 192.9L286.4 189.4 Z" fill="#fff"/><path d="M305.5 156.1L316.9 154.6L316.9 160.3L306.9 161.0 Z" fill="#fff"/><path d="M272.8 191.2h0" stroke="#84fc7c" stroke-width="7.0"/><path d="M266.9 195.5h0M276.4 199.8h0" stroke="#1c8cff" stroke-width="7.0"/><path d="M272.1 189.5h0M269.6 192.0h0" stroke="#2fe0f0" stroke-width="7.0"/><path d="M273.1 193.2h0" stroke="#4ff0b0" stroke-width="7.0"/><path d="M268.0 190.0h0M267.6 199.7h0" stroke="#2fe0f0" stroke-width="7.0"/><path d="M267.0 194.3h0M271.9 203.1h0" stroke="#84fc7c" stroke-width="7.0"/><path d="M272.3 197.7h0M272.0 195.3h0M269.9 199.6h0" stroke="#2fe0f0" stroke-width="7.0"/><path d="M276.2 199.0h0" stroke="#1c8cff" stroke-width="7.0"/><path d="M269.8 204.1h0" stroke="#84fc7c" stroke-width="7.0"/><path d="M273.3 195.5h0M269.9 202.2h0" stroke="#2fe0f0" stroke-width="7.0"/><path d="M274.5 199.6h0" stroke="#1c8cff" stroke-width="7.0"/><path d="M266.7 203.3h0" stroke="#84fc7c" stroke-width="7.0"/><path d="M278.5 161.4h0" stroke="#ee1200" stroke-width="7.0"/><path d="M276.1 157.4h0" stroke="#00009b" stroke-width="7.0"/><path d="M282.7 157.6h0" stroke="#ff7a00" stroke-width="7.0"/><path d="M289.1 153.4h0M270.3 159.3h0M292.4 156.8h0M286.5 158.9h0" stroke="#1c8cff" stroke-width="7.0"/><path d="M279.3 159.9h0" stroke="#f2f01e" stroke-width="7.0"/><path d="M291.6 162.6h0M283.2 153.3h0M284.4 165.6h0" stroke="#0c2cff" stroke-width="7.0"/><path d="M298.4 156.4h0" stroke="#2fe0f0" stroke-width="7.0"/><path d="M288.8 165.0h0M284.2 166.3h0M286.0 160.3h0M295.9 167.2h0" stroke="#ff7a00" stroke-width="7.0"/><path d="M294.6 163.0h0M281.6 155.8h0" stroke="#00009b" stroke-width="7.0"/><path d="M297.9 164.0h0M280.3 164.9h0M294.4 153.9h0" stroke="#1c8cff" stroke-width="7.0"/><path d="M278.9 156.7h0M270.8 166.2h0" stroke="#8e0000" stroke-width="7.0"/><path d="M288.5 166.0h0" stroke="#2fe0f0" stroke-width="7.0"/><path d="M272.0 158.9h0" stroke="#2fe0f0" stroke-width="7.0"/><path d="M277.6 153.1h0M274.1 168.3h0" stroke="#0c2cff" stroke-width="7.0"/><path d="M296.0 157.9h0M274.4 165.9h0M287.2 154.2h0" stroke="#f2f01e" stroke-width="7.0"/><path d="M282.7 166.9h0M278.0 167.0h0" stroke="#8e0000" stroke-width="7.0"/><path d="M281.8 162.2h0M268.5 154.9h0M297.0 160.7h0M293.7 159.5h0" stroke="#1c8cff" stroke-width="7.0"/><path d="M277.1 165.1h0" stroke="#ff7a00" stroke-width="7.0"/><path d="M278.5 152.9h0M275.0 160.8h0" stroke="#2fe0f0" stroke-width="7.0"/><path d="M295.3 152.0h0M290.2 159.4h0" stroke="#8e0000" stroke-width="7.0"/><path d="M275.9 156.0h0" stroke="#1c8cff" stroke-width="7.0"/><path d="M295.3 153.6h0M270.9 153.8h0M270.1 160.6h0" stroke="#0c2cff" stroke-width="7.0"/><path d="M198.0 172.6h0M229.7 177.5h0M202.0 175.8h0M226.8 183.6h0" stroke="#0c2cff" stroke-width="7.0"/><path d="M215.6 185.0h0M207.2 177.6h0M196.5 178.9h0M200.7 195.5h0M220.3 188.9h0M200.1 191.4h0" stroke="#00009b" stroke-width="7.0"/><path d="M216.8 186.5h0M221.6 175.2h0M213.3 189.2h0M205.1 174.4h0M230.0 177.7h0" stroke="#0000c8" stroke-width="7.0"/><path d="M203.6 180.3h0M197.8 174.6h0M203.8 178.2h0M210.6 180.5h0M225.1 177.8h0M229.1 175.2h0M216.3 174.1h0" stroke="#1c8cff" stroke-width="7.0"/><path d="M204.7 197.0h0M206.3 188.0h0M214.5 180.0h0" stroke="#00009b" stroke-width="7.0"/><path d="M234.6 177.8h0M203.5 193.5h0" stroke="#0000c8" stroke-width="7.0"/><path d="M197.4 171.5h0M196.4 174.3h0M228.5 183.5h0M196.3 187.5h0" stroke="#2fe0f0" stroke-width="7.0"/><path d="M199.2 183.8h0M204.2 183.5h0M209.1 196.0h0M233.3 185.2h0M214.1 182.7h0M201.8 173.3h0M194.9 181.9h0M211.2 197.9h0M226.1 180.6h0" stroke="#0c2cff" stroke-width="7.0"/><path d="M199.6 197.4h0M223.5 185.8h0M235.1 178.6h0M219.8 180.1h0" stroke="#1c8cff" stroke-width="7.0"/><path d="M196.3 183.4h0" stroke="#2fe0f0" stroke-width="7.0"/><path d="M203.7 187.3h0" stroke="#0000c8" stroke-width="7.0"/><path d="M202.8 192.4h0M233.7 180.7h0M226.2 178.6h0M199.7 179.0h0M217.7 182.6h0M205.7 181.1h0M222.4 181.0h0M211.4 187.0h0M217.9 186.2h0M200.1 175.4h0" stroke="#0c2cff" stroke-width="7.0"/><path d="M222.7 180.5h0M222.9 188.6h0M195.5 185.0h0M211.9 185.9h0M218.0 177.4h0" stroke="#00009b" stroke-width="7.0"/><path d="M196.0 194.4h0M205.8 190.8h0M236.0 174.6h0M205.9 185.4h0M207.7 192.4h0" stroke="#1c8cff" stroke-width="7.0"/><path d="M207.5 175.4h0M209.9 186.1h0M201.6 184.5h0M221.6 180.6h0" stroke="#00009b" stroke-width="7.0"/><path d="M212.0 174.6h0M213.7 174.8h0M199.7 182.9h0" stroke="#1c8cff" stroke-width="7.0"/><path d="M210.7 178.5h0M232.0 182.2h0M234.7 180.9h0M193.6 177.0h0" stroke="#0c2cff" stroke-width="7.0"/><path d="M200.4 192.3h0M209.4 193.7h0M194.8 187.3h0" stroke="#2fe0f0" stroke-width="7.0"/><path d="M196.6 190.7h0M201.3 188.1h0M193.6 198.4h0M209.4 190.2h0" stroke="#0000c8" stroke-width="7.0"/><path d="M221.2 158.9h0" stroke="#0c2cff" stroke-width="7.0"/><path d="M229.0 154.6h0" stroke="#0c2cff" stroke-width="7.0"/><path d="M225.4 157.2h0" stroke="#0000c8" stroke-width="7.0"/><path d="M219.0 160.3h0" stroke="#00009b" stroke-width="7.0"/><path d="M244.6 162.4h0" stroke="#8e0000" stroke-width="7.0"/><path d="M245.3 166.7h0" stroke="#00009b" stroke-width="7.0"/><path d="M249.5 165.3h0" stroke="#2fe0f0" stroke-width="7.0"/><path d="M252.4 164.6h0" stroke="#f2f01e" stroke-width="7.0"/><path d="M254.5 166.7h0" stroke="#ff7a00" stroke-width="7.0"/><path d="M251.6 162.4h0" stroke="#ee1200" stroke-width="7.0"/><path d="M253.1 174.5h0" stroke="#8e0000" stroke-width="7.0"/><path d="M260.2 173.1h0" stroke="#00009b" stroke-width="7.0"/><path d="M264.4 173.1h0" stroke="#ff7a00" stroke-width="7.0"/><path d="M268.7 178.7h0" stroke="#8e0000" stroke-width="7.0"/><path d="M262.3 184.4h0" stroke="#8e0000" stroke-width="7.0"/><path d="M264.4 181.6h0" stroke="#8e0000" stroke-width="7.0"/><path d="M270.1 185.8h0" stroke="#2fe0f0" stroke-width="7.0"/><path d="M266.5 193.6h0" stroke="#2fe0f0" stroke-width="7.0"/><path d="M281.4 175.2h0" stroke="#8e0000" stroke-width="7.0"/><path d="M278.6 173.1h0" stroke="#8e0000" stroke-width="7.0"/><path d="M274.3 118.5h0" stroke="#8e0000" stroke-width="7.0"/><path d="M278.6 117.8h0" stroke="#8e0000" stroke-width="7.0"/><path d="M275.7 116.4h0" stroke="#8e0000" stroke-width="7.0"/><path d="M292.8 106.4h0" stroke="#8e0000" stroke-width="7.0"/><path d="M295.6 107.9h0" stroke="#8e0000" stroke-width="7.0"/><path d="M302.7 126.3h0" stroke="#0c2cff" stroke-width="7.0"/><path d="M305.5 127.7h0" stroke="#0c2cff" stroke-width="7.0"/><path d="M343.8 142.6h0" stroke="#00009b" stroke-width="7.0"/><path d="M321.1 157.5h0" stroke="#f2f01e" stroke-width="7.0"/><path d="M203.4 202.9h0" stroke="#00009b" stroke-width="7.0"/><path d="M265.8 198.0L335.3 198.0L316.2 246.9L277.2 249.0L270.1 233.4L261.6 209.3 Z" fill="#d0f430"/><path d="M326.2 201.8h0M314.0 220.8h0M311.2 204.7h0M277.4 237.1h0" stroke="#4ff0b0" stroke-width="7.0"/><path d="M264.0 214.7h0M300.7 221.7h0M295.5 201.2h0M306.1 207.7h0M287.4 201.9h0M326.2 219.2h0M303.8 226.1h0M265.7 202.7h0M298.7 210.8h0M268.7 224.7h0M309.8 235.1h0M278.9 230.5h0M273.1 226.6h0M295.2 224.7h0M269.3 199.4h0M272.5 238.0h0M319.6 207.7h0M283.1 235.9h0M308.7 241.2h0M323.2 208.3h0M299.8 229.1h0M311.3 199.3h0M305.6 202.3h0M281.4 227.9h0M311.3 229.3h0M265.4 210.6h0M292.0 238.5h0" stroke="#84fc7c" stroke-width="7.0"/><path d="M313.3 241.3h0M289.6 206.0h0M282.9 230.3h0M281.2 239.8h0M302.7 215.1h0M275.2 220.9h0" stroke="#ffb000" stroke-width="7.0"/><path d="M315.5 238.0h0M284.5 202.7h0M303.3 232.5h0M315.7 201.3h0M286.6 210.9h0M267.4 217.8h0M330.9 204.7h0M313.7 246.9h0M276.0 234.1h0M291.5 244.6h0M278.5 202.9h0M270.7 221.3h0M289.0 224.0h0M289.8 220.2h0M326.9 210.4h0M310.4 225.1h0M297.8 208.6h0M302.4 239.4h0M318.7 207.2h0M283.7 215.6h0M297.0 213.9h0M322.6 204.5h0M294.4 217.8h0M302.8 236.2h0M293.9 237.7h0M317.1 243.2h0M299.2 228.5h0M310.9 211.9h0M272.8 208.4h0M285.4 220.7h0M312.2 229.2h0M307.9 209.9h0M268.8 226.6h0M306.3 238.0h0M308.8 244.9h0M280.8 238.1h0M293.1 235.1h0M318.7 239.2h0M295.8 230.4h0" stroke="#f2f01e" stroke-width="7.0"/><path d="M283.9 223.0h0M293.0 232.0h0M325.1 198.3h0M300.5 241.8h0M293.6 206.8h0M294.1 220.0h0M276.9 214.3h0M285.6 244.9h0M271.2 215.9h0M320.5 199.2h0M283.6 202.4h0M278.5 247.6h0M313.2 206.1h0M306.4 245.2h0M318.4 215.8h0M281.0 243.7h0M292.6 204.4h0M322.3 212.6h0M264.7 212.3h0M306.5 235.9h0M313.7 223.5h0M294.3 232.1h0M270.6 211.9h0M275.6 207.8h0" stroke="#84fc7c" stroke-width="7.0"/><path d="M276.3 225.0h0M305.1 211.7h0M288.0 239.8h0M286.5 235.1h0M264.3 217.2h0" stroke="#ffb000" stroke-width="7.0"/><path d="M315.6 211.4h0M287.2 217.2h0M287.3 207.3h0M323.5 224.3h0M319.0 221.6h0M299.9 214.7h0M322.0 218.0h0M276.3 198.3h0M269.6 215.8h0M266.0 212.4h0M287.6 241.8h0M319.4 203.3h0M299.1 239.0h0M317.0 217.2h0M274.0 215.9h0M291.2 223.3h0M313.3 211.1h0M266.0 201.9h0M331.0 206.3h0M304.1 241.6h0M306.5 232.7h0M310.0 234.4h0M305.3 232.2h0M299.5 224.5h0M280.2 234.2h0M318.7 201.0h0M286.6 213.5h0M296.0 225.5h0M268.4 206.6h0M299.9 214.1h0M277.4 202.1h0M274.4 226.4h0M283.0 222.3h0M312.5 206.1h0M301.6 247.5h0M308.3 229.0h0M296.3 238.0h0M324.9 200.3h0M317.2 227.7h0M278.0 245.3h0M303.0 204.7h0" stroke="#f2f01e" stroke-width="7.0"/><path d="M265.7 220.0h0M301.1 199.9h0M308.7 241.0h0M290.7 212.7h0M276.0 229.1h0M306.2 202.3h0" stroke="#4ff0b0" stroke-width="7.0"/><path d="M267.1 203.1h0M323.6 198.2h0M298.2 221.6h0M281.7 209.4h0M301.7 199.5h0M306.1 210.1h0M278.2 223.2h0M289.4 200.0h0M317.9 211.7h0M320.5 227.6h0M283.0 235.1h0" stroke="#4ff0b0" stroke-width="7.0"/><path d="M315.5 229.4h0M290.2 228.4h0M305.2 224.5h0M308.3 211.2h0M324.0 208.3h0M298.7 246.3h0M265.9 198.5h0M279.1 240.7h0M332.5 204.0h0M288.0 198.3h0M273.2 199.3h0M285.0 227.0h0M307.1 227.5h0M280.6 247.8h0M291.3 234.8h0M273.4 232.3h0M319.4 210.6h0M277.6 227.2h0M275.1 229.3h0M317.3 221.4h0M304.3 215.5h0M302.5 219.2h0M268.9 229.1h0M280.3 200.8h0M329.0 208.3h0M334.3 199.5h0M274.8 202.4h0M297.5 219.6h0M299.9 237.5h0M308.0 202.7h0M298.1 200.2h0M296.5 198.8h0M316.4 205.4h0M308.5 231.5h0M290.6 229.1h0M327.5 204.9h0M289.9 222.5h0M302.9 208.5h0M294.7 229.2h0" stroke="#f2f01e" stroke-width="7.0"/><path d="M282.4 202.2h0M293.6 247.2h0M310.3 215.7h0M293.7 215.2h0M267.3 209.2h0M319.9 236.4h0M306.5 224.9h0M314.5 236.3h0M273.1 217.3h0M271.6 202.2h0M301.5 220.4h0M315.6 232.9h0M323.0 220.9h0M321.7 217.4h0M295.8 242.8h0M301.2 246.3h0M303.0 247.3h0M306.0 221.8h0M264.6 206.4h0M282.9 214.1h0" stroke="#84fc7c" stroke-width="7.0"/><path d="M317.1 224.7h0M280.3 219.8h0M291.7 226.2h0M277.3 243.7h0M290.4 242.5h0M288.2 203.1h0" stroke="#ffb000" stroke-width="7.0"/><path d="M286.0 225.5h0M316.1 208.7h0M265.4 206.6h0M276.7 218.4h0M311.4 231.9h0" stroke="#4ff0b0" stroke-width="7.0"/><path d="M292.6 199.3h0M272.8 199.4h0M318.9 230.6h0M296.5 208.7h0M299.5 205.8h0" stroke="#ffb000" stroke-width="7.0"/><path d="M271.3 199.5h0M317.1 237.6h0M285.8 233.4h0M284.9 206.8h0M282.2 214.6h0M323.8 213.1h0M316.0 245.4h0M284.1 217.5h0M286.8 230.1h0M275.4 240.0h0M272.9 206.7h0M294.5 235.3h0M328.0 211.9h0M290.0 245.0h0M305.2 198.8h0M319.7 232.2h0M273.9 214.3h0M278.4 239.5h0M279.3 217.1h0M285.7 240.6h0M332.7 199.6h0M314.5 219.3h0" stroke="#84fc7c" stroke-width="7.0"/><path d="M297.5 246.9h0M277.8 210.8h0M309.5 220.3h0M310.4 223.0h0M289.6 208.4h0M328.6 205.9h0M312.7 245.2h0M322.6 224.7h0M297.0 215.6h0M282.6 248.3h0M297.9 203.9h0M275.1 223.2h0M273.6 208.7h0M292.2 211.4h0M299.7 233.5h0M329.6 212.1h0M313.3 216.4h0M293.7 241.7h0M323.2 220.3h0M281.5 211.9h0M279.6 225.8h0M270.2 219.2h0M293.3 211.0h0M311.3 246.7h0M297.0 246.0h0M278.9 206.6h0M294.9 202.8h0M304.4 202.6h0M285.4 220.3h0M288.6 246.7h0M301.0 211.3h0M267.5 221.4h0M310.1 240.8h0M321.2 201.6h0M288.9 232.1h0M311.9 237.9h0M316.8 216.7h0M308.4 217.4h0M282.6 242.0h0M327.3 214.8h0" stroke="#f2f01e" stroke-width="7.0"/><path d="M268.5 202.4h0M269.7 218.1h0M272.1 243.4h0" stroke="#84fc7c" stroke-width="7.0"/><path d="M269.4 236.9h0M269.9 219.8h0M271.8 225.1h0M265.3 216.2h0" stroke="#2fe0f0" stroke-width="7.0"/><path d="M272.1 241.0h0M268.3 215.1h0M263.5 203.5h0M271.1 242.5h0" stroke="#4ff0b0" stroke-width="7.0"/><path d="M274.9 243.3h0M268.1 224.8h0M274.0 234.3h0" stroke="#4ff0b0" stroke-width="7.0"/><path d="M271.8 231.0h0M264.5 206.5h0M262.2 207.1h0M276.8 245.9h0M268.6 202.9h0M267.8 217.6h0M272.0 223.5h0" stroke="#2fe0f0" stroke-width="7.0"/><path d="M269.4 227.4h0" stroke="#84fc7c" stroke-width="7.0"/><path d="M272.1 220.7h0M267.3 210.9h0M265.8 208.7h0M268.3 205.8h0" stroke="#2fe0f0" stroke-width="7.0"/><path d="M263.7 210.6h0M262.8 211.6h0M264.6 216.4h0" stroke="#84fc7c" stroke-width="7.0"/><path d="M273.0 245.0h0M270.1 208.5h0M266.5 220.6h0M271.4 237.0h0" stroke="#4ff0b0" stroke-width="7.0"/><path d="M268.0 203.5h0M267.2 227.1h0M275.2 240.0h0" stroke="#84fc7c" stroke-width="7.0"/><path d="M271.3 233.4h0M270.3 232.6h0M263.8 207.9h0M270.4 229.2h0" stroke="#4ff0b0" stroke-width="7.0"/><path d="M268.2 223.7h0" stroke="#2fe0f0" stroke-width="7.0"/><path d="M320.8 232.5h0" stroke="#2fe0f0" stroke-width="7.0"/><path d="M324.3 223.8h0M317.4 240.1h0" stroke="#4ff0b0" stroke-width="7.0"/><path d="M315.8 245.2h0" stroke="#4ff0b0" stroke-width="7.0"/><path d="M316.3 242.6h0M319.4 237.8h0" stroke="#2fe0f0" stroke-width="7.0"/><path d="M320.7 234.9h0M319.9 235.0h0" stroke="#2fe0f0" stroke-width="7.0"/><path d="M277.2 249.8L313.3 251.9L297.7 311.4L245.3 312.1L246.0 275.3L264.4 259.0 Z" fill="#0410b0"/><path d="M275.2 263.5h0M249.1 305.3h0M293.0 285.9h0M285.3 263.7h0M284.6 290.5h0M288.0 310.7h0M270.8 304.7h0" stroke="#0c2cff" stroke-width="7.0"/><path d="M256.2 302.6h0M274.1 276.3h0M262.8 290.3h0M282.1 292.6h0M264.5 266.9h0M275.0 258.8h0M280.5 263.4h0M278.0 303.4h0M310.6 260.0h0M294.3 274.3h0M304.2 274.2h0M279.3 269.0h0M287.2 300.4h0M287.6 304.9h0M273.3 271.1h0M300.9 297.6h0M297.6 285.9h0M270.9 257.5h0M281.6 303.6h0M279.2 259.3h0M283.6 259.0h0M259.8 302.7h0M260.6 264.9h0M303.0 268.9h0M257.8 292.4h0M270.1 260.7h0M270.3 296.0h0M291.8 257.7h0M282.9 283.7h0M305.3 267.0h0M279.0 292.4h0M255.9 283.3h0M274.2 266.2h0M248.5 275.5h0M292.8 252.7h0M299.9 259.8h0M293.5 286.0h0M267.6 276.9h0M262.6 262.0h0M259.9 288.2h0M246.4 299.0h0M292.9 280.2h0M292.8 309.8h0M275.8 301.3h0M285.6 300.8h0M254.6 298.4h0M268.1 289.4h0" stroke="#00009b" stroke-width="7.0"/><path d="M304.5 260.6h0M256.9 270.2h0M258.9 267.5h0M281.5 308.7h0M278.5 254.2h0M293.7 266.6h0M306.4 277.7h0M282.9 278.3h0M271.9 270.2h0M289.0 288.4h0M281.0 273.5h0M301.9 282.1h0M296.8 266.7h0M266.3 259.0h0M264.2 285.3h0M268.1 260.9h0M247.2 307.5h0M288.4 259.7h0" stroke="#0000c8" stroke-width="7.0"/><path d="M269.6 285.9h0M258.6 308.9h0M295.2 299.3h0M267.8 311.1h0M250.0 295.8h0M274.0 286.0h0" stroke="#0c2cff" stroke-width="7.0"/><path d="M286.3 252.7h0M295.2 261.6h0M277.1 306.7h0M287.1 263.5h0M276.8 264.1h0M300.0 270.1h0M292.2 259.4h0M282.5 307.1h0M264.2 275.7h0M265.8 294.2h0M252.0 289.8h0M296.9 298.1h0M251.1 300.5h0M286.6 275.6h0M279.3 282.6h0M299.3 294.8h0M256.4 298.3h0M275.7 308.7h0M263.1 286.0h0M265.0 302.7h0M274.3 299.2h0M299.7 289.7h0M280.0 271.3h0M277.5 288.9h0M259.9 285.0h0M252.6 301.3h0M267.9 262.0h0M258.1 306.1h0M269.2 293.5h0M282.5 257.4h0M263.8 305.5h0M300.1 300.5h0M287.6 291.1h0M280.1 289.4h0M274.1 307.8h0M282.5 299.0h0M296.1 260.5h0M246.6 305.9h0M246.9 282.8h0M292.1 269.9h0M296.2 302.7h0M265.4 301.3h0M265.8 281.7h0" stroke="#00009b" stroke-width="7.0"/><path d="M292.8 300.0h0M293.4 292.2h0M289.0 278.6h0M291.4 302.8h0M252.7 305.5h0M272.3 266.2h0M261.6 310.4h0M302.4 256.3h0M249.3 273.2h0M256.5 273.6h0M289.5 310.7h0M300.6 255.6h0M297.3 295.2h0M305.7 267.3h0M272.5 290.7h0M285.0 250.4h0M266.9 304.8h0M252.2 307.9h0M305.0 261.4h0M290.0 292.9h0M265.6 272.8h0M254.2 280.6h0M266.6 266.1h0" stroke="#0000c8" stroke-width="7.0"/><path d="M292.9 306.4h0M308.4 251.8h0M278.0 285.5h0M278.2 298.1h0M287.3 298.4h0M277.5 252.6h0M270.4 279.8h0M260.2 279.7h0M301.0 276.6h0M290.9 257.5h0M278.0 277.1h0M294.0 277.3h0M311.4 255.5h0M285.0 282.8h0M255.0 286.1h0M247.7 301.5h0M255.3 279.6h0M279.1 298.5h0M268.9 285.8h0M307.9 258.2h0M247.8 279.0h0M248.4 289.0h0M252.7 309.8h0M258.2 276.1h0M292.2 295.0h0M256.9 292.2h0M302.0 294.9h0M274.3 294.2h0M273.0 287.0h0M299.3 289.1h0M284.3 266.2h0M289.0 251.9h0M256.4 281.5h0M268.6 268.2h0M295.1 287.7h0M266.2 275.6h0M288.6 270.9h0M295.3 256.8h0M287.6 278.3h0M264.8 294.6h0M260.3 300.1h0M249.0 300.1h0M257.8 285.8h0" stroke="#00009b" stroke-width="7.0"/><path d="M276.1 297.5h0M302.1 254.7h0M307.9 254.4h0M270.0 265.7h0M274.3 289.8h0M269.2 271.2h0M273.9 257.4h0M282.0 254.6h0M249.0 284.9h0M288.1 301.3h0M251.8 294.2h0M272.2 300.7h0M288.8 257.6h0M252.2 277.4h0M290.0 282.0h0M280.7 269.0h0M289.7 273.9h0M255.0 296.8h0M281.6 298.2h0M249.8 293.8h0M258.7 265.5h0M253.1 289.0h0M284.2 268.3h0M264.2 310.4h0M268.3 257.1h0" stroke="#0000c8" stroke-width="7.0"/><path d="M275.7 282.6h0M275.1 276.2h0M272.9 269.2h0M288.6 298.2h0" stroke="#0c2cff" stroke-width="7.0"/><path d="M262.6 271.0h0M254.9 271.2h0M251.8 289.0h0M295.0 305.0h0M293.5 303.1h0" stroke="#0c2cff" stroke-width="7.0"/><path d="M269.9 301.6h0M305.7 275.2h0M255.0 268.3h0M280.1 309.1h0M261.6 295.8h0M283.6 262.5h0M263.3 281.5h0M306.1 253.6h0M285.5 294.3h0M251.2 273.4h0M265.6 297.0h0M277.4 254.9h0M298.7 267.8h0M309.4 264.6h0M299.3 266.8h0M296.7 280.2h0M290.3 273.5h0M265.3 287.4h0M274.0 303.0h0" stroke="#0000c8" stroke-width="7.0"/><path d="M260.4 262.7h0M285.7 307.5h0M259.4 279.6h0M270.7 277.2h0M285.7 256.6h0M259.1 292.2h0M266.5 278.5h0M298.9 276.5h0M247.3 282.4h0M270.0 276.2h0M277.9 275.8h0M280.4 251.2h0M263.3 299.7h0M262.4 277.1h0M283.4 281.7h0M254.5 306.7h0M294.6 298.4h0M286.7 270.1h0M273.2 308.6h0M280.1 282.1h0M298.6 272.8h0M272.3 295.1h0M303.1 271.5h0M286.8 272.8h0M297.3 252.4h0M290.4 266.9h0M288.9 285.3h0M282.5 272.0h0M299.3 284.7h0M248.5 290.4h0M291.6 267.9h0M298.6 276.2h0M283.2 286.8h0M275.1 271.7h0M264.7 289.4h0M305.8 260.1h0M288.5 291.5h0M282.1 287.6h0M296.4 269.1h0M298.9 262.9h0M279.4 263.6h0M250.7 302.8h0M247.4 296.5h0M276.8 283.3h0M293.4 261.8h0M298.3 291.8h0M300.5 281.9h0" stroke="#00009b" stroke-width="7.0"/><path d="M225.1 291.3h0M220.7 281.3h0M227.2 285.7h0M238.0 304.7h0M213.0 302.3h0M208.1 283.0h0M215.3 288.1h0M228.8 279.0h0" stroke="#00009b" stroke-width="7.0"/><path d="M235.7 306.0h0M229.4 298.3h0M233.9 293.3h0M233.6 285.3h0M205.3 298.2h0M241.9 293.6h0M228.7 285.3h0M243.4 291.1h0M230.2 302.7h0M217.2 298.5h0M221.1 298.4h0M239.7 303.6h0M202.2 298.0h0M227.3 290.4h0M231.9 280.4h0M233.3 290.4h0" stroke="#0c2cff" stroke-width="7.0"/><path d="M235.3 289.3h0M208.2 289.7h0M245.6 307.8h0M208.7 297.5h0M201.7 289.2h0M231.6 289.4h0M208.6 301.9h0M234.8 285.5h0" stroke="#0000c8" stroke-width="7.0"/><path d="M240.9 303.3h0M222.3 295.7h0M212.6 288.0h0M229.1 288.0h0M230.3 285.2h0M211.6 290.5h0" stroke="#1c8cff" stroke-width="7.0"/><path d="M240.3 284.9h0M210.4 299.1h0M206.7 291.0h0M216.0 293.3h0M200.8 300.9h0M214.9 299.4h0" stroke="#1c8cff" stroke-width="7.0"/><path d="M203.9 290.4h0M219.7 295.7h0M220.8 301.5h0M204.7 300.9h0M210.9 298.5h0M220.5 290.3h0M206.0 295.6h0M231.0 282.3h0M200.9 296.6h0M219.5 304.7h0" stroke="#00009b" stroke-width="7.0"/><path d="M218.4 302.4h0M213.8 285.8h0M216.6 296.2h0M220.1 282.7h0M239.1 308.0h0" stroke="#0000c8" stroke-width="7.0"/><path d="M222.9 285.1h0M225.5 285.0h0M225.8 302.4h0M244.3 287.2h0M235.6 298.6h0M237.2 289.0h0M237.0 301.8h0M206.5 293.7h0M232.7 303.6h0M225.0 297.1h0M207.1 297.7h0M204.4 292.9h0M243.6 282.3h0M230.0 291.6h0M221.5 291.5h0M242.4 288.3h0M230.0 305.7h0" stroke="#0c2cff" stroke-width="7.0"/><path d="M238.8 300.9h0M206.2 288.1h0M215.3 297.6h0M211.0 292.2h0M226.5 289.5h0M209.1 294.8h0M242.6 285.4h0M217.3 283.5h0M242.0 300.6h0M214.1 303.7h0M198.9 299.9h0" stroke="#0c2cff" stroke-width="7.0"/><path d="M227.8 296.1h0M234.8 279.9h0M242.0 297.2h0M213.0 285.6h0M216.1 301.4h0M240.0 286.5h0M235.4 292.0h0" stroke="#1c8cff" stroke-width="7.0"/><path d="M232.4 301.1h0M228.3 305.5h0M224.8 287.7h0M203.0 298.5h0M236.4 284.6h0M241.8 289.4h0M239.9 280.8h0M234.9 306.3h0M235.1 281.7h0M225.6 304.3h0M232.0 287.0h0M214.0 295.5h0M227.3 294.5h0M214.9 285.5h0" stroke="#00009b" stroke-width="7.0"/><path d="M242.3 293.7h0M222.5 302.1h0M222.8 299.8h0M225.1 299.9h0M230.2 294.7h0M242.4 303.5h0" stroke="#0000c8" stroke-width="7.0"/><path d="M242.5 280.3h0M239.3 297.0h0M237.8 290.4h0M217.7 295.6h0M225.2 280.8h0M222.1 288.2h0M244.4 292.1h0M229.0 300.2h0M227.0 291.0h0M242.8 310.1h0M239.7 299.8h0" stroke="#0000c8" stroke-width="7.0"/><path d="M201.9 294.1h0M220.2 298.9h0M209.9 292.1h0M206.3 298.4h0M233.6 306.2h0M241.5 306.6h0" stroke="#1c8cff" stroke-width="7.0"/><path d="M226.6 282.7h0M232.5 296.9h0M208.7 287.5h0M244.6 301.1h0M225.8 295.2h0M217.8 287.8h0M201.4 292.6h0M244.0 284.8h0M219.5 287.8h0M210.4 284.5h0M221.6 305.4h0M233.1 301.1h0M219.4 293.0h0M236.6 295.9h0M212.9 281.5h0" stroke="#00009b" stroke-width="7.0"/><path d="M239.1 305.3h0M245.1 297.3h0" stroke="#0c2cff" stroke-width="7.0"/><path d="M203.1 287.7h0M208.4 290.1h0M206.2 290.4h0M201.7 298.5h0M206.5 300.8h0" stroke="#1c8cff" stroke-width="7.0"/><path d="M209.6 297.3h0M203.4 291.7h0" stroke="#0c2cff" stroke-width="7.0"/><path d="M208.1 293.7h0" stroke="#2fe0f0" stroke-width="7.0"/><path d="M204.9 293.5h0M209.0 289.9h0M210.6 301.0h0" stroke="#0c2cff" stroke-width="7.0"/><path d="M207.0 283.8h0M206.8 297.8h0M211.0 293.1h0" stroke="#1c8cff" stroke-width="7.0"/><path d="M209.4 286.4h0M204.9 289.0h0M202.2 294.2h0M198.7 292.1h0M211.5 284.5h0" stroke="#1c8cff" stroke-width="7.0"/><path d="M201.9 295.7h0M206.0 284.4h0" stroke="#0c2cff" stroke-width="7.0"/><path d="M205.3 287.1h0M199.5 299.0h0" stroke="#1c8cff" stroke-width="7.0"/><path d="M199.1 297.3h0" stroke="#0c2cff" stroke-width="7.0"/><path d="M205.7 300.0h0" stroke="#2fe0f0" stroke-width="7.0"/><path d="M252.0 293.4h0" stroke="#0c2cff" stroke-width="7.0"/><path d="M246.9 306.7h0M253.3 302.8h0" stroke="#4ff0b0" stroke-width="7.0"/><path d="M256.3 289.6h0M245.4 301.1h0M245.1 310.1h0M255.6 298.9h0" stroke="#1c8cff" stroke-width="7.0"/><path d="M245.7 282.8h0M255.6 305.9h0M252.4 285.4h0M247.6 290.2h0" stroke="#2fe0f0" stroke-width="7.0"/><path d="M244.8 288.0h0M250.2 307.7h0" stroke="#f2f01e" stroke-width="7.0"/><path d="M256.7 290.4h0M249.7 294.7h0M246.4 282.5h0M250.0 293.0h0" stroke="#2fe0f0" stroke-width="7.0"/><path d="M247.7 298.6h0" stroke="#4ff0b0" stroke-width="7.0"/><path d="M257.5 310.8h0M256.9 292.7h0M248.9 292.4h0" stroke="#84fc7c" stroke-width="7.0"/><path d="M258.2 303.9h0M256.0 286.2h0" stroke="#0c2cff" stroke-width="7.0"/><path d="M248.8 283.0h0M256.4 302.6h0M246.1 301.1h0" stroke="#1c8cff" stroke-width="7.0"/><path d="M253.9 295.9h0M250.9 289.4h0" stroke="#2fe0f0" stroke-width="7.0"/><path d="M245.1 299.1h0M252.7 291.7h0M256.8 296.4h0M254.0 310.8h0M250.0 301.3h0M244.7 309.2h0M257.9 309.2h0M248.3 286.2h0" stroke="#1c8cff" stroke-width="7.0"/><path d="M246.5 305.8h0" stroke="#f2f01e" stroke-width="7.0"/><path d="M251.3 300.0h0" stroke="#0c2cff" stroke-width="7.0"/><path d="M251.9 286.3h0" stroke="#4ff0b0" stroke-width="7.0"/><path d="M252.0 311.4h0" stroke="#2fe0f0" stroke-width="7.0"/><path d="M246.0 293.3h0M254.1 293.6h0M250.5 306.5h0" stroke="#84fc7c" stroke-width="7.0"/><path d="M257.4 295.4h0M248.1 309.9h0" stroke="#4ff0b0" stroke-width="7.0"/><path d="M252.5 309.0h0M244.8 298.6h0M249.7 297.3h0" stroke="#0c2cff" stroke-width="7.0"/><path d="M248.8 300.9h0M252.3 306.6h0" stroke="#1c8cff" stroke-width="7.0"/><path d="M252.9 270.4h0M263.4 268.5h0" stroke="#2fe0f0" stroke-width="7.0"/><path d="M255.5 272.0h0M260.0 261.4h0M261.3 269.4h0M250.4 271.1h0M260.0 271.8h0" stroke="#1c8cff" stroke-width="7.0"/><path d="M259.0 261.1h0M258.9 270.9h0M259.2 269.1h0M261.1 263.0h0" stroke="#0c2cff" stroke-width="7.0"/><path d="M263.3 259.1h0M252.5 279.9h0" stroke="#1c8cff" stroke-width="7.0"/><path d="M257.6 277.2h0M254.8 269.2h0M255.9 261.9h0M253.9 265.1h0" stroke="#0000c8" stroke-width="7.0"/><path d="M253.6 276.5h0" stroke="#2fe0f0" stroke-width="7.0"/><path d="M253.1 273.5h0M248.7 276.4h0M252.1 266.6h0M248.5 273.5h0" stroke="#0c2cff" stroke-width="7.0"/><path d="M252.8 262.9h0M250.5 269.1h0M260.2 260.8h0M251.7 279.1h0" stroke="#0c2cff" stroke-width="7.0"/><path d="M254.6 281.6h0M251.7 263.1h0M258.3 278.1h0M264.0 264.2h0" stroke="#1c8cff" stroke-width="7.0"/><path d="M252.7 278.1h0M266.2 258.5h0" stroke="#2fe0f0" stroke-width="7.0"/><path d="M259.7 276.8h0" stroke="#0000c8" stroke-width="7.0"/><path d="M252.5 276.6h0M247.5 279.5h0M258.9 276.0h0" stroke="#2fe0f0" stroke-width="7.0"/><path d="M254.2 268.7h0M259.1 281.5h0" stroke="#1c8cff" stroke-width="7.0"/><path d="M259.5 264.6h0M250.5 273.9h0" stroke="#0000c8" stroke-width="7.0"/><path d="M257.6 265.4h0M264.2 263.1h0M257.5 267.1h0" stroke="#0c2cff" stroke-width="7.0"/><path d="M214.2 220.1h0M199.9 210.7h0M200.6 210.0h0M202.9 232.6h0" stroke="#00009b" stroke-width="7.0"/><path d="M213.5 216.0h0M213.0 231.5h0M201.3 231.7h0" stroke="#0c2cff" stroke-width="7.0"/><path d="M211.2 225.5h0M202.9 229.6h0M205.7 234.3h0M202.8 216.5h0M204.8 214.6h0" stroke="#00009b" stroke-width="7.0"/><path d="M200.7 226.7h0M207.7 212.7h0" stroke="#0c2cff" stroke-width="7.0"/><path d="M209.9 235.7h0M199.6 222.5h0" stroke="#00009b" stroke-width="7.0"/><path d="M207.3 231.8h0M208.4 208.1h0M203.5 214.6h0" stroke="#0c2cff" stroke-width="7.0"/><path d="M215.9 210.0h0M205.5 220.8h0" stroke="#1c8cff" stroke-width="7.0"/><path d="M199.7 204.4h0M211.7 206.6h0M207.9 227.0h0" stroke="#00009b" stroke-width="7.0"/><path d="M208.4 223.4h0" stroke="#1c8cff" stroke-width="7.0"/><path d="M206.5 205.8h0" stroke="#0c2cff" stroke-width="7.0"/><path d="M199.8 231.7h0" stroke="#8e0000" stroke-width="7.0"/><path d="M205.7 235.6h0" stroke="#2fe0f0" stroke-width="7.0"/><path d="M193.9 230.0h0" stroke="#ff7a00" stroke-width="7.0"/><path d="M196.4 229.5h0" stroke="#f2f01e" stroke-width="7.0"/><path d="M201.4 233.8h0" stroke="#f2f01e" stroke-width="7.0"/><path d="M203.6 232.1h0" stroke="#ff7a00" stroke-width="7.0"/><path d="M201.6 229.3h0M196.1 233.6h0" stroke="#ee1200" stroke-width="7.0"/><path d="M195.5 232.1h0M202.9 227.6h0" stroke="#ee1200" stroke-width="7.0"/><path d="M199.7 236.7h0" stroke="#ff7a00" stroke-width="7.0"/><path d="M203.0 232.6h0" stroke="#8e0000" stroke-width="7.0"/><path d="M202.4 234.7h0" stroke="#ff7a00" stroke-width="7.0"/><path d="M197.9 227.7h0M196.2 236.3h0" stroke="#ee1200" stroke-width="7.0"/><path d="M197.1 246.2h0" stroke="#00009b" stroke-width="7.0"/><path d="M219.7 246.2h0" stroke="#0c2cff" stroke-width="7.0"/><path d="M214.8 251.2h0" stroke="#00009b" stroke-width="7.0"/><path d="M195.6 242.7h0" stroke="#f2f01e" stroke-width="7.0"/><path d="M233.2 232.0h0" stroke="#00009b" stroke-width="7.0"/><path d="M238.9 226.4h0" stroke="#00009b" stroke-width="7.0"/><path d="M244.6 229.2h0" stroke="#00009b" stroke-width="7.0"/><path d="M248.8 233.4h0" stroke="#00009b" stroke-width="7.0"/><path d="M247.4 237.7h0" stroke="#00009b" stroke-width="7.0"/><path d="M241.7 234.9h0" stroke="#84fc7c" stroke-width="7.0"/><path d="M238.9 239.8h0" stroke="#2fe0f0" stroke-width="7.0"/><path d="M241.7 240.5h0" stroke="#2fe0f0" stroke-width="7.0"/><path d="M234.6 236.3h0" stroke="#00009b" stroke-width="7.0"/><path d="M251.6 228.5h0" stroke="#00009b" stroke-width="7.0"/><path d="M248.8 220.7h0" stroke="#00009b" stroke-width="7.0"/><path d="M258.7 220.7h0" stroke="#00009b" stroke-width="7.0"/><path d="M253.1 224.2h0" stroke="#00009b" stroke-width="7.0"/><path d="M263.7 237.0h0" stroke="#0c2cff" stroke-width="7.0"/><path d="M270.1 232.7h0" stroke="#2fe0f0" stroke-width="7.0"/><path d="M272.9 244.8h0" stroke="#2fe0f0" stroke-width="7.0"/><path d="M275.7 249.0h0" stroke="#2fe0f0" stroke-width="7.0"/></g>
<g clip-path="url(#boxclip)"><use href="#states"/></g>
</g>
<text class="t tk" x="240.6" y="76.6" text-anchor="end">100</text>
<text class="t dg" x="246.0" y="69.8" text-anchor="middle">°</text>
<text class="t tk" x="252.5" y="76.6">W</text>
<text class="t tk" x="301.0" y="76.6" text-anchor="end">90</text>
<text class="t dg" x="306.4" y="69.8" text-anchor="middle">°</text>
<text class="t tk" x="313.9" y="76.6">W</text>
<text class="t tk" x="365.9" y="76.6" text-anchor="end">80</text>
<text class="t dg" x="371.3" y="69.8" text-anchor="middle">°</text>
<text class="t tk" x="378.1" y="76.6">W</text>
<text class="t tk" x="428.6" y="76.6" text-anchor="end">70</text>
<text class="t dg" x="434.0" y="69.8" text-anchor="middle">°</text>
<text class="t tk" x="441.7" y="76.6">W</text>
<text class="t tk" x="163.7" y="111.5" text-anchor="end">48</text>
<text class="t dg" x="167.9" y="103.2" text-anchor="middle">°</text>
<text class="t tk" x="175.0" y="111.5">N</text>
<text class="t tk" x="163.7" y="130.8" text-anchor="end">46</text>
<text class="t dg" x="167.9" y="122.5" text-anchor="middle">°</text>
<text class="t tk" x="175.0" y="130.8">N</text>
<text class="t tk" x="163.7" y="148.1" text-anchor="end">44</text>
<text class="t dg" x="167.9" y="139.8" text-anchor="middle">°</text>
<text class="t tk" x="175.0" y="148.1">N</text>
<text class="t tk" x="163.7" y="166.1" text-anchor="end">42</text>
<text class="t dg" x="167.9" y="157.8" text-anchor="middle">°</text>
<text class="t tk" x="175.0" y="166.1">N</text>
<text class="t tk" x="163.7" y="183.3" text-anchor="end">40</text>
<text class="t dg" x="167.9" y="175.0" text-anchor="middle">°</text>
<text class="t tk" x="175.0" y="183.3">N</text>
<text class="t tk" x="163.7" y="198.6" text-anchor="end">38</text>
<text class="t dg" x="167.9" y="190.3" text-anchor="middle">°</text>
<text class="t tk" x="175.0" y="198.6">N</text>
<text class="t tk" x="163.7" y="215.2" text-anchor="end">36</text>
<text class="t dg" x="167.9" y="206.9" text-anchor="middle">°</text>
<text class="t tk" x="175.0" y="215.2">N</text>
<text class="t tk" x="163.7" y="230.0" text-anchor="end">34</text>
<text class="t dg" x="167.9" y="221.7" text-anchor="middle">°</text>
<text class="t tk" x="175.0" y="230.0">N</text>
<text class="t tk" x="163.7" y="245.6" text-anchor="end">32</text>
<text class="t dg" x="167.9" y="237.3" text-anchor="middle">°</text>
<text class="t tk" x="175.0" y="245.6">N</text>
<text class="t tk" x="163.7" y="260.7" text-anchor="end">30</text>
<text class="t dg" x="167.9" y="252.4" text-anchor="middle">°</text>
<text class="t tk" x="175.0" y="260.7">N</text>
<text class="t tk" x="163.7" y="273.3" text-anchor="end">28</text>
<text class="t dg" x="167.9" y="265.0" text-anchor="middle">°</text>
<text class="t tk" x="175.0" y="273.3">N</text>
<text class="t tk" x="163.7" y="288.1" text-anchor="end">26</text>
<text class="t dg" x="167.9" y="279.8" text-anchor="middle">°</text>
<text class="t tk" x="175.0" y="288.1">N</text>
<text class="t tk" x="163.7" y="302.8" text-anchor="end">24</text>
<text class="t dg" x="167.9" y="294.5" text-anchor="middle">°</text>
<text class="t tk" x="175.0" y="302.8">N</text>
<text class="t tk" x="163.7" y="315.1" text-anchor="end">22</text>
<text class="t dg" x="167.9" y="306.8" text-anchor="middle">°</text>
<text class="t tk" x="175.0" y="315.1">N</text>
<rect x="443.7" y="95.8" width="22.9" height="214.3" fill="url(#jet)" stroke="#262626" stroke-width="1"/>
<text class="t cb" x="475.1" y="102.9">2</text>
<path d="M464.5 95.7h2" stroke="#262626" stroke-width="1"/>
<text class="t cb" x="475.1" y="156.8">1</text>
<path d="M464.5 149.6h2" stroke="#262626" stroke-width="1"/>
<text class="t cb" x="475.1" y="209.8">0</text>
<path d="M464.5 202.6h2" stroke="#262626" stroke-width="1"/>
<text class="t cb" x="475.1" y="264.2">-1</text>
<path d="M464.5 257.0h2" stroke="#262626" stroke-width="1"/>
<text class="t cb" x="475.1" y="317.3">-2</text>
<path d="M464.5 310.1h2" stroke="#262626" stroke-width="1"/>
<text class="t pt" x="308.7" y="340.7" text-anchor="middle" style="font-size:23.6px">SAT-RAP 500 hPa Temp (K)</text>
</g>
</svg></body></html>
